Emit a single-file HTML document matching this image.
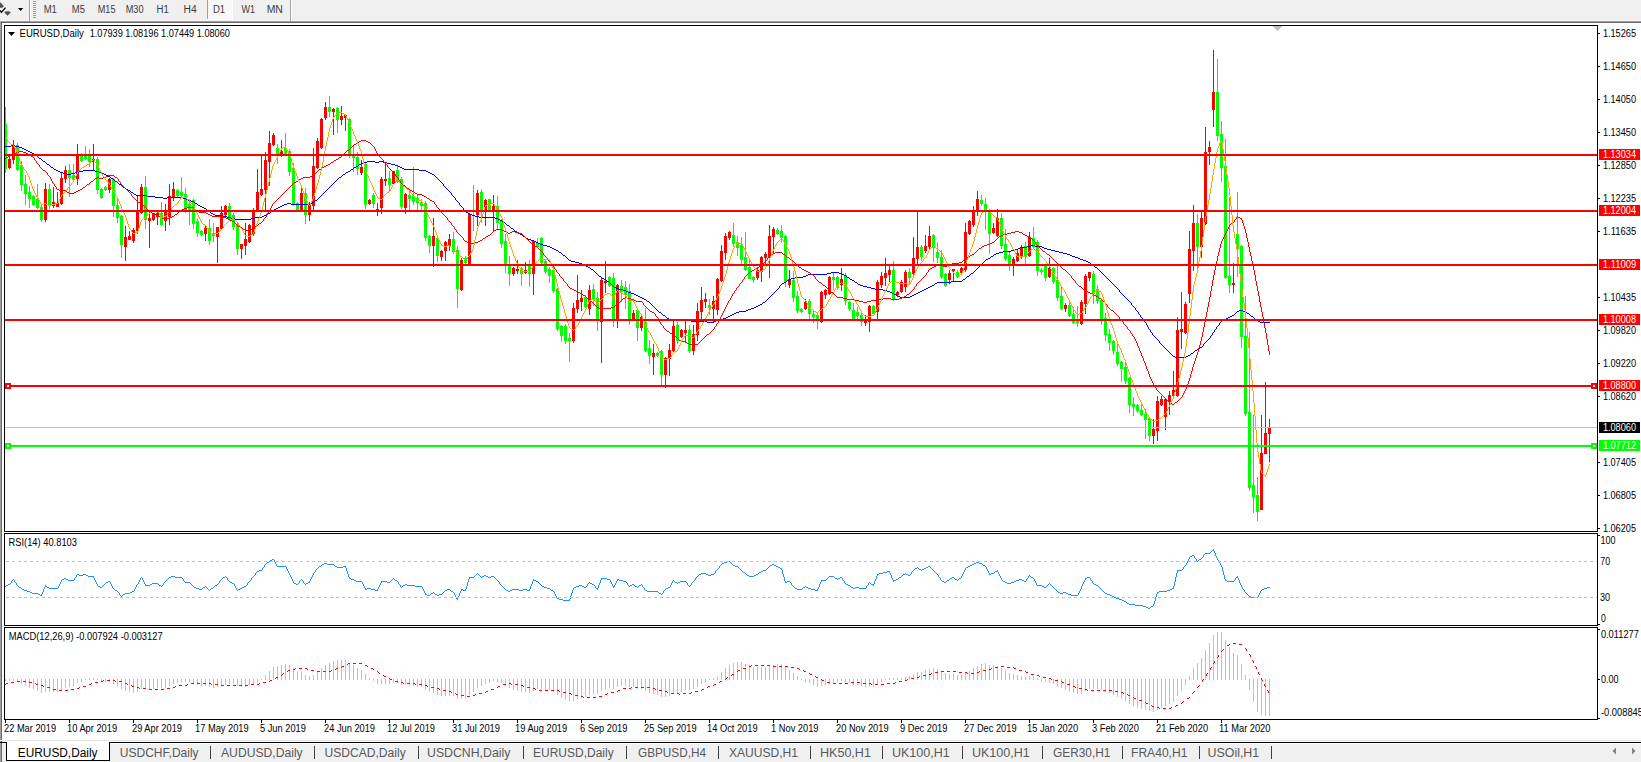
<!DOCTYPE html>
<html><head><meta charset="utf-8"><style>
html,body{margin:0;padding:0;background:#f0f0f0;width:1641px;height:762px;overflow:hidden}
svg{display:block;font-family:"Liberation Sans", sans-serif}
</style></head><body>
<svg width="1641" height="762" viewBox="0 0 1641 762">
<rect x="0" y="0" width="1641" height="20" fill="#f0f0f0"/><rect x="0" y="20" width="1641" height="1" fill="#f6f6f6"/><rect x="0" y="21" width="1641" height="1" fill="#a0a0a0"/><rect x="0" y="22" width="1641" height="1" fill="#696969"/><rect x="0" y="23" width="1641" height="717" fill="#ffffff"/><rect x="0" y="21" width="1" height="719" fill="#a0a0a0"/><rect x="1" y="22" width="1" height="718" fill="#696969"/><rect x="0" y="740" width="1641" height="1" fill="#e3e3e3"/><rect x="207" y="0" width="1" height="19" fill="#a0a0a0"/><rect x="208" y="0" width="24" height="19" fill="#f8f8f8"/><rect x="232" y="0" width="1" height="20" fill="#ffffff"/><rect x="207" y="19" width="26" height="1" fill="#ffffff"/><rect x="29" y="0" width="1" height="21" fill="#a0a0a0"/><rect x="30" y="0" width="1" height="20" fill="#ffffff"/><rect x="290" y="0" width="1" height="21" fill="#a0a0a0"/><rect x="291" y="0" width="1" height="20" fill="#ffffff"/><rect x="33" y="1" width="3" height="1" fill="#a0a0a0"/><rect x="33" y="3" width="3" height="1" fill="#a0a0a0"/><rect x="33" y="5" width="3" height="1" fill="#a0a0a0"/><rect x="33" y="7" width="3" height="1" fill="#a0a0a0"/><rect x="33" y="9" width="3" height="1" fill="#a0a0a0"/><rect x="33" y="11" width="3" height="1" fill="#a0a0a0"/><rect x="33" y="13" width="3" height="1" fill="#a0a0a0"/><rect x="33" y="15" width="3" height="1" fill="#a0a0a0"/><rect x="33" y="17" width="3" height="1" fill="#a0a0a0"/><path d="M18,8 L23.2,8 L20.6,10.9 Z" fill="#000"/><path d="M0,2.6 L0.8,2.8 L3.9,6.3 L2.3,7.7 L0,7.7 Z M4.1,12.3 L6.3,11.2 L8.7,11.2 L10.9,12.3 L7.5,15.8 Z" fill="#505050"/><path d="M0,10.5 L1.4,12.3 L5.6,7.6" fill="none" stroke="#000" stroke-width="1.3"/><rect x="4" y="25" width="1594" height="1" fill="#000"/><rect x="4" y="531" width="1594" height="1" fill="#000"/><rect x="4" y="25" width="1" height="507" fill="#000"/><rect x="1597" y="25" width="1" height="507" fill="#000"/><rect x="4" y="533" width="1594" height="1" fill="#000"/><rect x="4" y="625" width="1594" height="1" fill="#000"/><rect x="4" y="533" width="1" height="93" fill="#000"/><rect x="1597" y="533" width="1" height="93" fill="#000"/><rect x="4" y="627" width="1594" height="1" fill="#000"/><rect x="4" y="719" width="1594" height="1" fill="#000"/><rect x="4" y="627" width="1" height="93" fill="#000"/><rect x="1597" y="627" width="1" height="93" fill="#000"/><defs><clipPath id="cm"><rect x="5" y="26" width="1592" height="505"/></clipPath><clipPath id="cr"><rect x="5" y="534" width="1592" height="91"/></clipPath><clipPath id="cd"><rect x="5" y="628" width="1592" height="91"/></clipPath></defs><g clip-path="url(#cm)" shape-rendering="crispEdges"><rect x="5" y="107" width="1" height="66" fill="#00ff00"/><rect x="4" y="124" width="3" height="45" fill="#00ff00"/><rect x="9" y="157" width="1" height="12" fill="#ff0000"/><rect x="8" y="159" width="3" height="9" fill="#ff0000"/><rect x="13" y="140" width="1" height="24" fill="#ff0000"/><rect x="12" y="146" width="3" height="14" fill="#ff0000"/><rect x="17" y="143" width="1" height="28" fill="#00ff00"/><rect x="16" y="145" width="3" height="25" fill="#00ff00"/><rect x="21" y="161" width="1" height="30" fill="#00ff00"/><rect x="20" y="165" width="3" height="20" fill="#00ff00"/><rect x="25" y="175" width="1" height="30" fill="#00ff00"/><rect x="24" y="184" width="3" height="10" fill="#00ff00"/><rect x="29" y="186" width="1" height="22" fill="#00ff00"/><rect x="28" y="192" width="3" height="7" fill="#00ff00"/><rect x="33" y="195" width="1" height="11" fill="#00ff00"/><rect x="32" y="196" width="3" height="9" fill="#00ff00"/><rect x="37" y="184" width="1" height="25" fill="#00ff00"/><rect x="36" y="199" width="3" height="9" fill="#00ff00"/><rect x="41" y="205" width="1" height="17" fill="#00ff00"/><rect x="40" y="207" width="3" height="13" fill="#00ff00"/><rect x="45" y="183" width="1" height="39" fill="#ff0000"/><rect x="44" y="189" width="3" height="31" fill="#ff0000"/><rect x="49" y="184" width="1" height="25" fill="#00ff00"/><rect x="48" y="189" width="3" height="16" fill="#00ff00"/><rect x="53" y="187" width="1" height="21" fill="#ff0000"/><rect x="52" y="202" width="3" height="4" fill="#ff0000"/><rect x="57" y="192" width="1" height="15" fill="#ff0000"/><rect x="56" y="203" width="3" height="4" fill="#ff0000"/><rect x="61" y="172" width="1" height="33" fill="#ff0000"/><rect x="60" y="178" width="3" height="26" fill="#ff0000"/><rect x="65" y="166" width="1" height="17" fill="#ff0000"/><rect x="64" y="170" width="3" height="9" fill="#ff0000"/><rect x="69" y="164" width="1" height="33" fill="#00ff00"/><rect x="68" y="170" width="3" height="8" fill="#00ff00"/><rect x="73" y="164" width="1" height="18" fill="#00ff00"/><rect x="72" y="175" width="3" height="5" fill="#00ff00"/><rect x="77" y="144" width="1" height="41" fill="#ff0000"/><rect x="76" y="155" width="3" height="24" fill="#ff0000"/><rect x="81" y="153" width="1" height="9" fill="#00ff00"/><rect x="80" y="155" width="3" height="6" fill="#00ff00"/><rect x="85" y="146" width="1" height="14" fill="#00ff00"/><rect x="84" y="155" width="3" height="4" fill="#00ff00"/><rect x="89" y="149" width="1" height="18" fill="#00ff00"/><rect x="88" y="155" width="3" height="7" fill="#00ff00"/><rect x="93" y="144" width="1" height="27" fill="#ff0000"/><rect x="92" y="159" width="3" height="3" fill="#ff0000"/><rect x="97" y="157" width="1" height="37" fill="#00ff00"/><rect x="96" y="159" width="3" height="31" fill="#00ff00"/><rect x="101" y="188" width="1" height="11" fill="#00ff00"/><rect x="100" y="189" width="3" height="9" fill="#00ff00"/><rect x="105" y="186" width="1" height="5" fill="#00ff00"/><rect x="104" y="187" width="3" height="3" fill="#00ff00"/><rect x="109" y="178" width="1" height="15" fill="#ff0000"/><rect x="108" y="179" width="3" height="11" fill="#ff0000"/><rect x="113" y="178" width="1" height="39" fill="#00ff00"/><rect x="112" y="179" width="3" height="27" fill="#00ff00"/><rect x="117" y="199" width="1" height="24" fill="#00ff00"/><rect x="116" y="205" width="3" height="13" fill="#00ff00"/><rect x="121" y="215" width="1" height="43" fill="#00ff00"/><rect x="120" y="216" width="3" height="29" fill="#00ff00"/><rect x="125" y="226" width="1" height="35" fill="#ff0000"/><rect x="124" y="237" width="3" height="10" fill="#ff0000"/><rect x="129" y="231" width="1" height="9" fill="#ff0000"/><rect x="128" y="236" width="3" height="4" fill="#ff0000"/><rect x="133" y="228" width="1" height="15" fill="#ff0000"/><rect x="132" y="230" width="3" height="11" fill="#ff0000"/><rect x="137" y="196" width="1" height="38" fill="#ff0000"/><rect x="136" y="212" width="3" height="19" fill="#ff0000"/><rect x="141" y="184" width="1" height="30" fill="#ff0000"/><rect x="140" y="187" width="3" height="26" fill="#ff0000"/><rect x="145" y="176" width="1" height="53" fill="#00ff00"/><rect x="144" y="187" width="3" height="33" fill="#00ff00"/><rect x="149" y="212" width="1" height="36" fill="#ff0000"/><rect x="148" y="218" width="3" height="3" fill="#ff0000"/><rect x="153" y="214" width="1" height="7" fill="#ff0000"/><rect x="152" y="214" width="3" height="6" fill="#ff0000"/><rect x="157" y="212" width="1" height="13" fill="#ff0000"/><rect x="156" y="213" width="3" height="4" fill="#ff0000"/><rect x="161" y="202" width="1" height="24" fill="#00ff00"/><rect x="160" y="213" width="3" height="12" fill="#00ff00"/><rect x="165" y="204" width="1" height="27" fill="#ff0000"/><rect x="164" y="210" width="3" height="11" fill="#ff0000"/><rect x="169" y="184" width="1" height="41" fill="#ff0000"/><rect x="168" y="196" width="3" height="21" fill="#ff0000"/><rect x="173" y="182" width="1" height="19" fill="#ff0000"/><rect x="172" y="189" width="3" height="9" fill="#ff0000"/><rect x="177" y="189" width="1" height="8" fill="#00ff00"/><rect x="176" y="190" width="3" height="6" fill="#00ff00"/><rect x="181" y="177" width="1" height="20" fill="#00ff00"/><rect x="180" y="192" width="3" height="4" fill="#00ff00"/><rect x="185" y="188" width="1" height="25" fill="#00ff00"/><rect x="184" y="194" width="3" height="17" fill="#00ff00"/><rect x="189" y="199" width="1" height="26" fill="#00ff00"/><rect x="188" y="204" width="3" height="6" fill="#00ff00"/><rect x="193" y="199" width="1" height="30" fill="#00ff00"/><rect x="192" y="200" width="3" height="24" fill="#00ff00"/><rect x="197" y="219" width="1" height="18" fill="#00ff00"/><rect x="196" y="221" width="3" height="12" fill="#00ff00"/><rect x="201" y="230" width="1" height="6" fill="#00ff00"/><rect x="200" y="231" width="3" height="4" fill="#00ff00"/><rect x="205" y="225" width="1" height="16" fill="#ff0000"/><rect x="204" y="228" width="3" height="6" fill="#ff0000"/><rect x="209" y="219" width="1" height="26" fill="#00ff00"/><rect x="208" y="228" width="3" height="13" fill="#00ff00"/><rect x="213" y="223" width="1" height="19" fill="#00ff00"/><rect x="212" y="233" width="3" height="3" fill="#00ff00"/><rect x="217" y="227" width="1" height="36" fill="#ff0000"/><rect x="216" y="227" width="3" height="10" fill="#ff0000"/><rect x="221" y="206" width="1" height="24" fill="#ff0000"/><rect x="220" y="213" width="3" height="16" fill="#ff0000"/><rect x="225" y="205" width="1" height="12" fill="#ff0000"/><rect x="224" y="206" width="3" height="9" fill="#ff0000"/><rect x="229" y="203" width="1" height="18" fill="#00ff00"/><rect x="228" y="206" width="3" height="13" fill="#00ff00"/><rect x="233" y="213" width="1" height="17" fill="#00ff00"/><rect x="232" y="215" width="3" height="12" fill="#00ff00"/><rect x="237" y="222" width="1" height="33" fill="#00ff00"/><rect x="236" y="224" width="3" height="25" fill="#00ff00"/><rect x="241" y="244" width="1" height="15" fill="#ff0000"/><rect x="240" y="244" width="3" height="5" fill="#ff0000"/><rect x="245" y="223" width="1" height="32" fill="#ff0000"/><rect x="244" y="239" width="3" height="7" fill="#ff0000"/><rect x="249" y="224" width="1" height="19" fill="#ff0000"/><rect x="248" y="225" width="3" height="17" fill="#ff0000"/><rect x="253" y="208" width="1" height="28" fill="#ff0000"/><rect x="252" y="210" width="3" height="24" fill="#ff0000"/><rect x="257" y="169" width="1" height="43" fill="#ff0000"/><rect x="256" y="192" width="3" height="19" fill="#ff0000"/><rect x="261" y="155" width="1" height="41" fill="#ff0000"/><rect x="260" y="189" width="3" height="6" fill="#ff0000"/><rect x="265" y="152" width="1" height="59" fill="#ff0000"/><rect x="264" y="160" width="3" height="30" fill="#ff0000"/><rect x="269" y="131" width="1" height="55" fill="#ff0000"/><rect x="268" y="143" width="3" height="19" fill="#ff0000"/><rect x="273" y="133" width="1" height="13" fill="#ff0000"/><rect x="272" y="135" width="3" height="10" fill="#ff0000"/><rect x="277" y="144" width="1" height="20" fill="#00ff00"/><rect x="276" y="148" width="3" height="6" fill="#00ff00"/><rect x="281" y="140" width="1" height="17" fill="#ff0000"/><rect x="280" y="151" width="3" height="3" fill="#ff0000"/><rect x="285" y="133" width="1" height="21" fill="#00ff00"/><rect x="284" y="148" width="3" height="6" fill="#00ff00"/><rect x="289" y="149" width="1" height="27" fill="#00ff00"/><rect x="288" y="151" width="3" height="21" fill="#00ff00"/><rect x="293" y="163" width="1" height="43" fill="#00ff00"/><rect x="292" y="168" width="3" height="36" fill="#00ff00"/><rect x="297" y="202" width="1" height="9" fill="#00ff00"/><rect x="296" y="203" width="3" height="7" fill="#00ff00"/><rect x="301" y="187" width="1" height="25" fill="#ff0000"/><rect x="300" y="193" width="3" height="18" fill="#ff0000"/><rect x="305" y="188" width="1" height="36" fill="#00ff00"/><rect x="304" y="193" width="3" height="22" fill="#00ff00"/><rect x="309" y="202" width="1" height="19" fill="#ff0000"/><rect x="308" y="205" width="3" height="10" fill="#ff0000"/><rect x="313" y="148" width="1" height="63" fill="#ff0000"/><rect x="312" y="166" width="3" height="40" fill="#ff0000"/><rect x="317" y="138" width="1" height="31" fill="#ff0000"/><rect x="316" y="141" width="3" height="27" fill="#ff0000"/><rect x="321" y="118" width="1" height="31" fill="#ff0000"/><rect x="320" y="119" width="3" height="29" fill="#ff0000"/><rect x="325" y="102" width="1" height="18" fill="#ff0000"/><rect x="324" y="107" width="3" height="11" fill="#ff0000"/><rect x="329" y="96" width="1" height="21" fill="#00ff00"/><rect x="328" y="107" width="3" height="5" fill="#00ff00"/><rect x="333" y="108" width="1" height="27" fill="#ff0000"/><rect x="332" y="109" width="3" height="3" fill="#ff0000"/><rect x="337" y="107" width="1" height="26" fill="#00ff00"/><rect x="336" y="108" width="3" height="12" fill="#00ff00"/><rect x="341" y="106" width="1" height="19" fill="#ff0000"/><rect x="340" y="116" width="3" height="4" fill="#ff0000"/><rect x="345" y="114" width="1" height="17" fill="#ff0000"/><rect x="344" y="115" width="3" height="3" fill="#ff0000"/><rect x="349" y="118" width="1" height="40" fill="#00ff00"/><rect x="348" y="119" width="3" height="37" fill="#00ff00"/><rect x="353" y="145" width="1" height="27" fill="#00ff00"/><rect x="352" y="154" width="3" height="4" fill="#00ff00"/><rect x="357" y="152" width="1" height="23" fill="#00ff00"/><rect x="356" y="157" width="3" height="12" fill="#00ff00"/><rect x="361" y="160" width="1" height="15" fill="#ff0000"/><rect x="360" y="167" width="3" height="6" fill="#ff0000"/><rect x="365" y="163" width="1" height="46" fill="#00ff00"/><rect x="364" y="164" width="3" height="41" fill="#00ff00"/><rect x="369" y="199" width="1" height="6" fill="#ff0000"/><rect x="368" y="200" width="3" height="4" fill="#ff0000"/><rect x="373" y="193" width="1" height="15" fill="#00ff00"/><rect x="372" y="195" width="3" height="9" fill="#00ff00"/><rect x="377" y="203" width="1" height="13" fill="#ff0000"/><rect x="376" y="209" width="3" height="3" fill="#ff0000"/><rect x="381" y="177" width="1" height="37" fill="#ff0000"/><rect x="380" y="179" width="3" height="29" fill="#ff0000"/><rect x="385" y="164" width="1" height="22" fill="#ff0000"/><rect x="384" y="179" width="3" height="2" fill="#ff0000"/><rect x="389" y="171" width="1" height="21" fill="#00ff00"/><rect x="388" y="178" width="3" height="7" fill="#00ff00"/><rect x="393" y="171" width="1" height="14" fill="#ff0000"/><rect x="392" y="171" width="3" height="13" fill="#ff0000"/><rect x="397" y="165" width="1" height="18" fill="#00ff00"/><rect x="396" y="170" width="3" height="12" fill="#00ff00"/><rect x="401" y="177" width="1" height="32" fill="#00ff00"/><rect x="400" y="179" width="3" height="28" fill="#00ff00"/><rect x="405" y="193" width="1" height="21" fill="#ff0000"/><rect x="404" y="194" width="3" height="14" fill="#ff0000"/><rect x="409" y="191" width="1" height="20" fill="#00ff00"/><rect x="408" y="195" width="3" height="4" fill="#00ff00"/><rect x="413" y="167" width="1" height="38" fill="#00ff00"/><rect x="412" y="196" width="3" height="6" fill="#00ff00"/><rect x="417" y="195" width="1" height="16" fill="#00ff00"/><rect x="416" y="198" width="3" height="5" fill="#00ff00"/><rect x="421" y="199" width="1" height="12" fill="#00ff00"/><rect x="420" y="202" width="3" height="4" fill="#00ff00"/><rect x="425" y="201" width="1" height="40" fill="#00ff00"/><rect x="424" y="203" width="3" height="35" fill="#00ff00"/><rect x="429" y="235" width="1" height="18" fill="#00ff00"/><rect x="428" y="236" width="3" height="10" fill="#00ff00"/><rect x="433" y="218" width="1" height="49" fill="#ff0000"/><rect x="432" y="236" width="3" height="10" fill="#ff0000"/><rect x="437" y="237" width="1" height="25" fill="#00ff00"/><rect x="436" y="238" width="3" height="18" fill="#00ff00"/><rect x="441" y="250" width="1" height="11" fill="#ff0000"/><rect x="440" y="251" width="3" height="6" fill="#ff0000"/><rect x="445" y="241" width="1" height="20" fill="#ff0000"/><rect x="444" y="242" width="3" height="9" fill="#ff0000"/><rect x="449" y="234" width="1" height="17" fill="#ff0000"/><rect x="448" y="239" width="3" height="7" fill="#ff0000"/><rect x="453" y="232" width="1" height="22" fill="#00ff00"/><rect x="452" y="239" width="3" height="13" fill="#00ff00"/><rect x="457" y="246" width="1" height="62" fill="#00ff00"/><rect x="456" y="250" width="3" height="39" fill="#00ff00"/><rect x="461" y="258" width="1" height="33" fill="#ff0000"/><rect x="460" y="260" width="3" height="30" fill="#ff0000"/><rect x="465" y="256" width="1" height="9" fill="#00ff00"/><rect x="464" y="258" width="3" height="5" fill="#00ff00"/><rect x="469" y="213" width="1" height="53" fill="#ff0000"/><rect x="468" y="214" width="3" height="51" fill="#ff0000"/><rect x="473" y="185" width="1" height="46" fill="#00ff00"/><rect x="472" y="210" width="3" height="2" fill="#00ff00"/><rect x="477" y="190" width="1" height="36" fill="#ff0000"/><rect x="476" y="193" width="3" height="22" fill="#ff0000"/><rect x="481" y="189" width="1" height="34" fill="#00ff00"/><rect x="480" y="192" width="3" height="18" fill="#00ff00"/><rect x="485" y="199" width="1" height="27" fill="#ff0000"/><rect x="484" y="200" width="3" height="12" fill="#ff0000"/><rect x="489" y="199" width="1" height="12" fill="#00ff00"/><rect x="488" y="199" width="3" height="11" fill="#00ff00"/><rect x="493" y="195" width="1" height="37" fill="#ff0000"/><rect x="492" y="206" width="3" height="5" fill="#ff0000"/><rect x="497" y="196" width="1" height="34" fill="#00ff00"/><rect x="496" y="206" width="3" height="17" fill="#00ff00"/><rect x="501" y="219" width="1" height="29" fill="#00ff00"/><rect x="500" y="220" width="3" height="24" fill="#00ff00"/><rect x="505" y="234" width="1" height="39" fill="#00ff00"/><rect x="504" y="241" width="3" height="25" fill="#00ff00"/><rect x="509" y="256" width="1" height="30" fill="#00ff00"/><rect x="508" y="265" width="3" height="9" fill="#00ff00"/><rect x="513" y="267" width="1" height="9" fill="#ff0000"/><rect x="512" y="268" width="3" height="6" fill="#ff0000"/><rect x="517" y="260" width="1" height="14" fill="#ff0000"/><rect x="516" y="269" width="3" height="2" fill="#ff0000"/><rect x="521" y="267" width="1" height="19" fill="#00ff00"/><rect x="520" y="268" width="3" height="6" fill="#00ff00"/><rect x="525" y="262" width="1" height="12" fill="#ff0000"/><rect x="524" y="270" width="3" height="3" fill="#ff0000"/><rect x="529" y="260" width="1" height="27" fill="#00ff00"/><rect x="528" y="266" width="3" height="8" fill="#00ff00"/><rect x="533" y="240" width="1" height="55" fill="#ff0000"/><rect x="532" y="241" width="3" height="33" fill="#ff0000"/><rect x="537" y="238" width="1" height="10" fill="#00ff00"/><rect x="536" y="243" width="3" height="4" fill="#00ff00"/><rect x="541" y="237" width="1" height="27" fill="#00ff00"/><rect x="540" y="238" width="3" height="25" fill="#00ff00"/><rect x="545" y="259" width="1" height="15" fill="#00ff00"/><rect x="544" y="261" width="3" height="11" fill="#00ff00"/><rect x="549" y="267" width="1" height="16" fill="#00ff00"/><rect x="548" y="269" width="3" height="7" fill="#00ff00"/><rect x="553" y="267" width="1" height="26" fill="#00ff00"/><rect x="552" y="270" width="3" height="21" fill="#00ff00"/><rect x="557" y="288" width="1" height="43" fill="#00ff00"/><rect x="556" y="289" width="3" height="40" fill="#00ff00"/><rect x="561" y="325" width="1" height="17" fill="#00ff00"/><rect x="560" y="326" width="3" height="10" fill="#00ff00"/><rect x="565" y="324" width="1" height="20" fill="#00ff00"/><rect x="564" y="326" width="3" height="15" fill="#00ff00"/><rect x="569" y="333" width="1" height="29" fill="#00ff00"/><rect x="568" y="338" width="3" height="3" fill="#00ff00"/><rect x="573" y="303" width="1" height="40" fill="#ff0000"/><rect x="572" y="308" width="3" height="33" fill="#ff0000"/><rect x="577" y="275" width="1" height="38" fill="#ff0000"/><rect x="576" y="300" width="3" height="9" fill="#ff0000"/><rect x="581" y="290" width="1" height="21" fill="#ff0000"/><rect x="580" y="298" width="3" height="4" fill="#ff0000"/><rect x="585" y="295" width="1" height="13" fill="#00ff00"/><rect x="584" y="297" width="3" height="10" fill="#00ff00"/><rect x="589" y="285" width="1" height="30" fill="#ff0000"/><rect x="588" y="290" width="3" height="19" fill="#ff0000"/><rect x="593" y="284" width="1" height="22" fill="#00ff00"/><rect x="592" y="289" width="3" height="11" fill="#00ff00"/><rect x="597" y="292" width="1" height="39" fill="#00ff00"/><rect x="596" y="298" width="3" height="23" fill="#00ff00"/><rect x="601" y="278" width="1" height="85" fill="#ff0000"/><rect x="600" y="280" width="3" height="42" fill="#ff0000"/><rect x="605" y="261" width="1" height="32" fill="#ff0000"/><rect x="604" y="281" width="3" height="2" fill="#ff0000"/><rect x="609" y="276" width="1" height="11" fill="#00ff00"/><rect x="608" y="277" width="3" height="9" fill="#00ff00"/><rect x="613" y="273" width="1" height="54" fill="#00ff00"/><rect x="612" y="278" width="3" height="41" fill="#00ff00"/><rect x="617" y="284" width="1" height="44" fill="#ff0000"/><rect x="616" y="285" width="3" height="35" fill="#ff0000"/><rect x="621" y="280" width="1" height="22" fill="#00ff00"/><rect x="620" y="286" width="3" height="6" fill="#00ff00"/><rect x="625" y="281" width="1" height="28" fill="#00ff00"/><rect x="624" y="287" width="3" height="8" fill="#00ff00"/><rect x="629" y="284" width="1" height="41" fill="#00ff00"/><rect x="628" y="291" width="3" height="29" fill="#00ff00"/><rect x="633" y="310" width="1" height="11" fill="#ff0000"/><rect x="632" y="313" width="3" height="7" fill="#ff0000"/><rect x="637" y="310" width="1" height="31" fill="#00ff00"/><rect x="636" y="310" width="3" height="18" fill="#00ff00"/><rect x="641" y="314" width="1" height="17" fill="#ff0000"/><rect x="640" y="317" width="3" height="11" fill="#ff0000"/><rect x="645" y="308" width="1" height="44" fill="#00ff00"/><rect x="644" y="322" width="3" height="29" fill="#00ff00"/><rect x="649" y="340" width="1" height="24" fill="#00ff00"/><rect x="648" y="348" width="3" height="8" fill="#00ff00"/><rect x="653" y="344" width="1" height="31" fill="#ff0000"/><rect x="652" y="353" width="3" height="4" fill="#ff0000"/><rect x="657" y="352" width="1" height="5" fill="#00ff00"/><rect x="656" y="353" width="3" height="3" fill="#00ff00"/><rect x="661" y="350" width="1" height="36" fill="#00ff00"/><rect x="660" y="351" width="3" height="24" fill="#00ff00"/><rect x="665" y="357" width="1" height="31" fill="#ff0000"/><rect x="664" y="358" width="3" height="17" fill="#ff0000"/><rect x="669" y="344" width="1" height="32" fill="#ff0000"/><rect x="668" y="350" width="3" height="9" fill="#ff0000"/><rect x="673" y="320" width="1" height="32" fill="#ff0000"/><rect x="672" y="326" width="3" height="25" fill="#ff0000"/><rect x="677" y="322" width="1" height="22" fill="#00ff00"/><rect x="676" y="325" width="3" height="16" fill="#00ff00"/><rect x="681" y="329" width="1" height="9" fill="#ff0000"/><rect x="680" y="330" width="3" height="7" fill="#ff0000"/><rect x="685" y="321" width="1" height="22" fill="#ff0000"/><rect x="684" y="330" width="3" height="3" fill="#ff0000"/><rect x="689" y="325" width="1" height="28" fill="#00ff00"/><rect x="688" y="330" width="3" height="21" fill="#00ff00"/><rect x="693" y="325" width="1" height="30" fill="#ff0000"/><rect x="692" y="334" width="3" height="17" fill="#ff0000"/><rect x="697" y="303" width="1" height="38" fill="#ff0000"/><rect x="696" y="311" width="3" height="24" fill="#ff0000"/><rect x="701" y="287" width="1" height="34" fill="#ff0000"/><rect x="700" y="300" width="3" height="12" fill="#ff0000"/><rect x="705" y="293" width="1" height="15" fill="#ff0000"/><rect x="704" y="299" width="3" height="3" fill="#ff0000"/><rect x="709" y="299" width="1" height="16" fill="#00ff00"/><rect x="708" y="305" width="3" height="3" fill="#00ff00"/><rect x="713" y="296" width="1" height="27" fill="#ff0000"/><rect x="712" y="301" width="3" height="8" fill="#ff0000"/><rect x="717" y="278" width="1" height="37" fill="#ff0000"/><rect x="716" y="279" width="3" height="31" fill="#ff0000"/><rect x="721" y="245" width="1" height="37" fill="#ff0000"/><rect x="720" y="251" width="3" height="30" fill="#ff0000"/><rect x="725" y="233" width="1" height="27" fill="#ff0000"/><rect x="724" y="236" width="3" height="17" fill="#ff0000"/><rect x="729" y="231" width="1" height="9" fill="#ff0000"/><rect x="728" y="232" width="3" height="6" fill="#ff0000"/><rect x="733" y="223" width="1" height="24" fill="#00ff00"/><rect x="732" y="235" width="3" height="9" fill="#00ff00"/><rect x="737" y="236" width="1" height="20" fill="#00ff00"/><rect x="736" y="242" width="3" height="6" fill="#00ff00"/><rect x="741" y="237" width="1" height="29" fill="#00ff00"/><rect x="740" y="245" width="3" height="15" fill="#00ff00"/><rect x="745" y="232" width="1" height="39" fill="#00ff00"/><rect x="744" y="257" width="3" height="13" fill="#00ff00"/><rect x="749" y="259" width="1" height="20" fill="#00ff00"/><rect x="748" y="267" width="3" height="12" fill="#00ff00"/><rect x="753" y="276" width="1" height="7" fill="#00ff00"/><rect x="752" y="277" width="3" height="3" fill="#00ff00"/><rect x="757" y="267" width="1" height="13" fill="#ff0000"/><rect x="756" y="270" width="3" height="8" fill="#ff0000"/><rect x="761" y="256" width="1" height="26" fill="#ff0000"/><rect x="760" y="257" width="3" height="15" fill="#ff0000"/><rect x="765" y="252" width="1" height="12" fill="#ff0000"/><rect x="764" y="254" width="3" height="4" fill="#ff0000"/><rect x="769" y="225" width="1" height="53" fill="#ff0000"/><rect x="768" y="236" width="3" height="22" fill="#ff0000"/><rect x="773" y="227" width="1" height="27" fill="#ff0000"/><rect x="772" y="229" width="3" height="8" fill="#ff0000"/><rect x="777" y="228" width="1" height="7" fill="#00ff00"/><rect x="776" y="230" width="3" height="4" fill="#00ff00"/><rect x="781" y="225" width="1" height="18" fill="#00ff00"/><rect x="780" y="231" width="3" height="7" fill="#00ff00"/><rect x="785" y="235" width="1" height="52" fill="#00ff00"/><rect x="784" y="236" width="3" height="46" fill="#00ff00"/><rect x="789" y="270" width="1" height="18" fill="#ff0000"/><rect x="788" y="279" width="3" height="6" fill="#ff0000"/><rect x="793" y="271" width="1" height="31" fill="#00ff00"/><rect x="792" y="280" width="3" height="18" fill="#00ff00"/><rect x="797" y="291" width="1" height="22" fill="#00ff00"/><rect x="796" y="296" width="3" height="15" fill="#00ff00"/><rect x="801" y="308" width="1" height="5" fill="#00ff00"/><rect x="800" y="309" width="3" height="3" fill="#00ff00"/><rect x="805" y="299" width="1" height="11" fill="#ff0000"/><rect x="804" y="302" width="3" height="7" fill="#ff0000"/><rect x="809" y="299" width="1" height="21" fill="#00ff00"/><rect x="808" y="301" width="3" height="13" fill="#00ff00"/><rect x="813" y="311" width="1" height="12" fill="#00ff00"/><rect x="812" y="314" width="3" height="3" fill="#00ff00"/><rect x="817" y="312" width="1" height="17" fill="#00ff00"/><rect x="816" y="315" width="3" height="6" fill="#00ff00"/><rect x="821" y="291" width="1" height="32" fill="#ff0000"/><rect x="820" y="292" width="3" height="30" fill="#ff0000"/><rect x="825" y="289" width="1" height="10" fill="#ff0000"/><rect x="824" y="290" width="3" height="5" fill="#ff0000"/><rect x="829" y="276" width="1" height="19" fill="#ff0000"/><rect x="828" y="277" width="3" height="17" fill="#ff0000"/><rect x="833" y="272" width="1" height="18" fill="#00ff00"/><rect x="832" y="277" width="3" height="3" fill="#00ff00"/><rect x="837" y="276" width="1" height="14" fill="#00ff00"/><rect x="836" y="277" width="3" height="11" fill="#00ff00"/><rect x="841" y="268" width="1" height="23" fill="#ff0000"/><rect x="840" y="279" width="3" height="6" fill="#ff0000"/><rect x="845" y="273" width="1" height="32" fill="#00ff00"/><rect x="844" y="275" width="3" height="26" fill="#00ff00"/><rect x="849" y="301" width="1" height="10" fill="#00ff00"/><rect x="848" y="302" width="3" height="7" fill="#00ff00"/><rect x="853" y="303" width="1" height="17" fill="#00ff00"/><rect x="852" y="310" width="3" height="9" fill="#00ff00"/><rect x="857" y="307" width="1" height="13" fill="#00ff00"/><rect x="856" y="312" width="3" height="4" fill="#00ff00"/><rect x="861" y="311" width="1" height="15" fill="#00ff00"/><rect x="860" y="315" width="3" height="7" fill="#00ff00"/><rect x="865" y="315" width="1" height="11" fill="#ff0000"/><rect x="864" y="319" width="3" height="4" fill="#ff0000"/><rect x="869" y="305" width="1" height="27" fill="#ff0000"/><rect x="868" y="306" width="3" height="16" fill="#ff0000"/><rect x="873" y="305" width="1" height="9" fill="#00ff00"/><rect x="872" y="306" width="3" height="8" fill="#00ff00"/><rect x="877" y="280" width="1" height="40" fill="#ff0000"/><rect x="876" y="282" width="3" height="30" fill="#ff0000"/><rect x="881" y="272" width="1" height="16" fill="#ff0000"/><rect x="880" y="276" width="3" height="9" fill="#ff0000"/><rect x="885" y="258" width="1" height="28" fill="#ff0000"/><rect x="884" y="273" width="3" height="5" fill="#ff0000"/><rect x="889" y="266" width="1" height="16" fill="#ff0000"/><rect x="888" y="270" width="3" height="5" fill="#ff0000"/><rect x="893" y="261" width="1" height="40" fill="#00ff00"/><rect x="892" y="270" width="3" height="30" fill="#00ff00"/><rect x="897" y="291" width="1" height="6" fill="#ff0000"/><rect x="896" y="292" width="3" height="3" fill="#ff0000"/><rect x="901" y="280" width="1" height="13" fill="#ff0000"/><rect x="900" y="282" width="3" height="10" fill="#ff0000"/><rect x="905" y="270" width="1" height="22" fill="#ff0000"/><rect x="904" y="272" width="3" height="15" fill="#ff0000"/><rect x="909" y="268" width="1" height="16" fill="#00ff00"/><rect x="908" y="272" width="3" height="6" fill="#00ff00"/><rect x="913" y="237" width="1" height="38" fill="#ff0000"/><rect x="912" y="258" width="3" height="16" fill="#ff0000"/><rect x="917" y="212" width="1" height="53" fill="#ff0000"/><rect x="916" y="247" width="3" height="12" fill="#ff0000"/><rect x="921" y="245" width="1" height="16" fill="#00ff00"/><rect x="920" y="247" width="3" height="10" fill="#00ff00"/><rect x="925" y="235" width="1" height="18" fill="#ff0000"/><rect x="924" y="246" width="3" height="5" fill="#ff0000"/><rect x="929" y="226" width="1" height="23" fill="#ff0000"/><rect x="928" y="236" width="3" height="11" fill="#ff0000"/><rect x="933" y="234" width="1" height="28" fill="#00ff00"/><rect x="932" y="235" width="3" height="13" fill="#00ff00"/><rect x="937" y="242" width="1" height="21" fill="#00ff00"/><rect x="936" y="252" width="3" height="6" fill="#00ff00"/><rect x="941" y="250" width="1" height="29" fill="#00ff00"/><rect x="940" y="257" width="3" height="20" fill="#00ff00"/><rect x="945" y="273" width="1" height="14" fill="#00ff00"/><rect x="944" y="274" width="3" height="12" fill="#00ff00"/><rect x="949" y="270" width="1" height="14" fill="#ff0000"/><rect x="948" y="273" width="3" height="7" fill="#ff0000"/><rect x="953" y="269" width="1" height="12" fill="#ff0000"/><rect x="952" y="269" width="3" height="2" fill="#ff0000"/><rect x="957" y="270" width="1" height="8" fill="#00ff00"/><rect x="956" y="272" width="3" height="5" fill="#00ff00"/><rect x="961" y="267" width="1" height="7" fill="#ff0000"/><rect x="960" y="268" width="3" height="5" fill="#ff0000"/><rect x="965" y="223" width="1" height="49" fill="#ff0000"/><rect x="964" y="232" width="3" height="38" fill="#ff0000"/><rect x="969" y="220" width="1" height="15" fill="#ff0000"/><rect x="968" y="221" width="3" height="13" fill="#ff0000"/><rect x="973" y="206" width="1" height="21" fill="#ff0000"/><rect x="972" y="211" width="3" height="14" fill="#ff0000"/><rect x="977" y="191" width="1" height="25" fill="#ff0000"/><rect x="976" y="199" width="3" height="13" fill="#ff0000"/><rect x="981" y="195" width="1" height="11" fill="#00ff00"/><rect x="980" y="200" width="3" height="4" fill="#00ff00"/><rect x="985" y="198" width="1" height="32" fill="#00ff00"/><rect x="984" y="204" width="3" height="7" fill="#00ff00"/><rect x="989" y="209" width="1" height="45" fill="#00ff00"/><rect x="988" y="211" width="3" height="23" fill="#00ff00"/><rect x="993" y="223" width="1" height="11" fill="#ff0000"/><rect x="992" y="228" width="3" height="5" fill="#ff0000"/><rect x="997" y="209" width="1" height="28" fill="#ff0000"/><rect x="996" y="218" width="3" height="18" fill="#ff0000"/><rect x="1001" y="213" width="1" height="36" fill="#00ff00"/><rect x="1000" y="218" width="3" height="28" fill="#00ff00"/><rect x="1005" y="229" width="1" height="32" fill="#00ff00"/><rect x="1004" y="244" width="3" height="15" fill="#00ff00"/><rect x="1009" y="252" width="1" height="19" fill="#00ff00"/><rect x="1008" y="255" width="3" height="9" fill="#00ff00"/><rect x="1013" y="257" width="1" height="19" fill="#ff0000"/><rect x="1012" y="259" width="3" height="6" fill="#ff0000"/><rect x="1017" y="250" width="1" height="12" fill="#ff0000"/><rect x="1016" y="253" width="3" height="8" fill="#ff0000"/><rect x="1021" y="245" width="1" height="14" fill="#ff0000"/><rect x="1020" y="248" width="3" height="9" fill="#ff0000"/><rect x="1025" y="242" width="1" height="23" fill="#00ff00"/><rect x="1024" y="246" width="3" height="11" fill="#00ff00"/><rect x="1029" y="232" width="1" height="25" fill="#ff0000"/><rect x="1028" y="237" width="3" height="19" fill="#ff0000"/><rect x="1033" y="227" width="1" height="21" fill="#00ff00"/><rect x="1032" y="238" width="3" height="9" fill="#00ff00"/><rect x="1037" y="240" width="1" height="36" fill="#00ff00"/><rect x="1036" y="242" width="3" height="29" fill="#00ff00"/><rect x="1041" y="268" width="1" height="7" fill="#00ff00"/><rect x="1040" y="270" width="3" height="2" fill="#00ff00"/><rect x="1045" y="264" width="1" height="17" fill="#00ff00"/><rect x="1044" y="266" width="3" height="12" fill="#00ff00"/><rect x="1049" y="258" width="1" height="20" fill="#ff0000"/><rect x="1048" y="268" width="3" height="9" fill="#ff0000"/><rect x="1053" y="267" width="1" height="17" fill="#00ff00"/><rect x="1052" y="268" width="3" height="14" fill="#00ff00"/><rect x="1057" y="263" width="1" height="38" fill="#00ff00"/><rect x="1056" y="280" width="3" height="18" fill="#00ff00"/><rect x="1061" y="287" width="1" height="23" fill="#00ff00"/><rect x="1060" y="296" width="3" height="13" fill="#00ff00"/><rect x="1065" y="303" width="1" height="9" fill="#ff0000"/><rect x="1064" y="305" width="3" height="4" fill="#ff0000"/><rect x="1069" y="302" width="1" height="15" fill="#00ff00"/><rect x="1068" y="305" width="3" height="11" fill="#00ff00"/><rect x="1073" y="307" width="1" height="17" fill="#00ff00"/><rect x="1072" y="314" width="3" height="9" fill="#00ff00"/><rect x="1077" y="306" width="1" height="21" fill="#00ff00"/><rect x="1076" y="321" width="3" height="2" fill="#00ff00"/><rect x="1081" y="300" width="1" height="25" fill="#ff0000"/><rect x="1080" y="302" width="3" height="22" fill="#ff0000"/><rect x="1085" y="274" width="1" height="40" fill="#ff0000"/><rect x="1084" y="276" width="3" height="28" fill="#ff0000"/><rect x="1089" y="272" width="1" height="9" fill="#ff0000"/><rect x="1088" y="272" width="3" height="6" fill="#ff0000"/><rect x="1093" y="271" width="1" height="33" fill="#00ff00"/><rect x="1092" y="274" width="3" height="20" fill="#00ff00"/><rect x="1097" y="285" width="1" height="19" fill="#00ff00"/><rect x="1096" y="289" width="3" height="12" fill="#00ff00"/><rect x="1101" y="299" width="1" height="26" fill="#00ff00"/><rect x="1100" y="300" width="3" height="20" fill="#00ff00"/><rect x="1105" y="313" width="1" height="28" fill="#00ff00"/><rect x="1104" y="318" width="3" height="17" fill="#00ff00"/><rect x="1109" y="329" width="1" height="22" fill="#00ff00"/><rect x="1108" y="334" width="3" height="9" fill="#00ff00"/><rect x="1113" y="340" width="1" height="15" fill="#00ff00"/><rect x="1112" y="341" width="3" height="10" fill="#00ff00"/><rect x="1117" y="344" width="1" height="22" fill="#00ff00"/><rect x="1116" y="352" width="3" height="12" fill="#00ff00"/><rect x="1121" y="361" width="1" height="21" fill="#00ff00"/><rect x="1120" y="362" width="3" height="7" fill="#00ff00"/><rect x="1125" y="362" width="1" height="22" fill="#00ff00"/><rect x="1124" y="367" width="3" height="14" fill="#00ff00"/><rect x="1129" y="377" width="1" height="36" fill="#00ff00"/><rect x="1128" y="378" width="3" height="27" fill="#00ff00"/><rect x="1133" y="397" width="1" height="19" fill="#00ff00"/><rect x="1132" y="404" width="3" height="3" fill="#00ff00"/><rect x="1137" y="404" width="1" height="9" fill="#00ff00"/><rect x="1136" y="405" width="3" height="6" fill="#00ff00"/><rect x="1141" y="404" width="1" height="12" fill="#00ff00"/><rect x="1140" y="410" width="3" height="5" fill="#00ff00"/><rect x="1145" y="409" width="1" height="30" fill="#00ff00"/><rect x="1144" y="414" width="3" height="6" fill="#00ff00"/><rect x="1149" y="417" width="1" height="24" fill="#00ff00"/><rect x="1148" y="418" width="3" height="18" fill="#00ff00"/><rect x="1153" y="419" width="1" height="25" fill="#ff0000"/><rect x="1152" y="429" width="3" height="7" fill="#ff0000"/><rect x="1157" y="396" width="1" height="45" fill="#ff0000"/><rect x="1156" y="401" width="3" height="30" fill="#ff0000"/><rect x="1161" y="396" width="1" height="10" fill="#ff0000"/><rect x="1160" y="399" width="3" height="6" fill="#ff0000"/><rect x="1165" y="398" width="1" height="32" fill="#ff0000"/><rect x="1164" y="399" width="3" height="18" fill="#ff0000"/><rect x="1169" y="391" width="1" height="24" fill="#ff0000"/><rect x="1168" y="395" width="3" height="7" fill="#ff0000"/><rect x="1173" y="371" width="1" height="28" fill="#ff0000"/><rect x="1172" y="390" width="3" height="6" fill="#ff0000"/><rect x="1177" y="317" width="1" height="80" fill="#ff0000"/><rect x="1176" y="330" width="3" height="66" fill="#ff0000"/><rect x="1181" y="292" width="1" height="57" fill="#ff0000"/><rect x="1180" y="329" width="3" height="3" fill="#ff0000"/><rect x="1185" y="302" width="1" height="32" fill="#ff0000"/><rect x="1184" y="304" width="3" height="29" fill="#ff0000"/><rect x="1189" y="231" width="1" height="72" fill="#ff0000"/><rect x="1188" y="249" width="3" height="45" fill="#ff0000"/><rect x="1193" y="205" width="1" height="66" fill="#ff0000"/><rect x="1192" y="223" width="3" height="28" fill="#ff0000"/><rect x="1197" y="214" width="1" height="55" fill="#00ff00"/><rect x="1196" y="223" width="3" height="24" fill="#00ff00"/><rect x="1201" y="212" width="1" height="46" fill="#ff0000"/><rect x="1200" y="218" width="3" height="29" fill="#ff0000"/><rect x="1205" y="127" width="1" height="98" fill="#ff0000"/><rect x="1204" y="152" width="3" height="72" fill="#ff0000"/><rect x="1209" y="141" width="1" height="24" fill="#ff0000"/><rect x="1208" y="147" width="3" height="5" fill="#ff0000"/><rect x="1213" y="50" width="1" height="77" fill="#ff0000"/><rect x="1212" y="92" width="3" height="18" fill="#ff0000"/><rect x="1217" y="59" width="1" height="82" fill="#00ff00"/><rect x="1216" y="92" width="3" height="44" fill="#00ff00"/><rect x="1221" y="121" width="1" height="61" fill="#00ff00"/><rect x="1220" y="134" width="3" height="34" fill="#00ff00"/><rect x="1225" y="139" width="1" height="140" fill="#00ff00"/><rect x="1224" y="166" width="3" height="112" fill="#00ff00"/><rect x="1229" y="197" width="1" height="96" fill="#00ff00"/><rect x="1228" y="276" width="3" height="9" fill="#00ff00"/><rect x="1233" y="263" width="1" height="30" fill="#ff0000"/><rect x="1232" y="283" width="3" height="2" fill="#ff0000"/><rect x="1237" y="192" width="1" height="85" fill="#00ff00"/><rect x="1236" y="234" width="3" height="15" fill="#00ff00"/><rect x="1241" y="245" width="1" height="103" fill="#00ff00"/><rect x="1240" y="246" width="3" height="91" fill="#00ff00"/><rect x="1245" y="296" width="1" height="120" fill="#00ff00"/><rect x="1244" y="336" width="3" height="78" fill="#00ff00"/><rect x="1249" y="332" width="1" height="159" fill="#00ff00"/><rect x="1248" y="412" width="3" height="76" fill="#00ff00"/><rect x="1253" y="415" width="1" height="98" fill="#00ff00"/><rect x="1252" y="485" width="3" height="12" fill="#00ff00"/><rect x="1257" y="477" width="1" height="44" fill="#00ff00"/><rect x="1256" y="495" width="3" height="17" fill="#00ff00"/><rect x="1261" y="415" width="1" height="95" fill="#ff0000"/><rect x="1260" y="453" width="3" height="57" fill="#ff0000"/><rect x="1265" y="382" width="1" height="72" fill="#ff0000"/><rect x="1264" y="433" width="3" height="21" fill="#ff0000"/><rect x="1269" y="419" width="1" height="43" fill="#ff0000"/><rect x="1268" y="427" width="3" height="7" fill="#ff0000"/><path d="M11,145h4v1h-4zM5,146h6v1h-6zM15,146h4v1h-4zM19,147h3v1h-3zM22,148h2v1h-2zM24,149h2v1h-2zM26,150h2v1h-2zM28,151h2v1h-2zM30,152h2v1h-2zM32,153h2v1h-2zM34,154h1v1h-1zM35,155h2v1h-2zM37,156h1v1h-1zM38,157h1v1h-1zM39,158h2v1h-2zM41,159h1v1h-1zM42,160h1v1h-1zM43,161h2v1h-2zM367,161h8v1h-8zM379,161h4v1h-4zM45,162h1v1h-1zM363,162h4v1h-4zM375,162h4v1h-4zM383,162h4v1h-4zM46,163h1v1h-1zM361,163h2v1h-2zM387,163h4v1h-4zM47,164h2v1h-2zM359,164h2v1h-2zM391,164h4v1h-4zM49,165h1v1h-1zM358,165h1v1h-1zM395,165h3v1h-3zM50,166h1v1h-1zM356,166h2v1h-2zM398,166h2v1h-2zM51,167h2v1h-2zM354,167h2v1h-2zM400,167h2v1h-2zM53,168h1v1h-1zM353,168h1v1h-1zM402,168h2v1h-2zM54,169h2v1h-2zM351,169h2v1h-2zM404,169h15v1h-15zM56,170h2v1h-2zM83,170h12v1h-12zM350,170h1v1h-1zM419,170h7v1h-7zM58,171h2v1h-2zM79,171h4v1h-4zM95,171h4v1h-4zM348,171h2v1h-2zM426,171h2v1h-2zM60,172h3v1h-3zM75,172h4v1h-4zM99,172h3v1h-3zM346,172h2v1h-2zM428,172h2v1h-2zM63,173h4v1h-4zM71,173h4v1h-4zM102,173h2v1h-2zM345,173h1v1h-1zM430,173h2v1h-2zM67,174h4v1h-4zM104,174h2v1h-2zM343,174h2v1h-2zM432,174h2v1h-2zM106,175h2v1h-2zM342,175h1v1h-1zM434,175h1v1h-1zM108,176h2v1h-2zM341,176h1v1h-1zM435,176h1v1h-1zM110,177h1v1h-1zM339,177h2v1h-2zM436,177h1v1h-1zM111,178h2v1h-2zM338,178h1v1h-1zM437,178h1v1h-1zM113,179h1v1h-1zM337,179h1v1h-1zM438,179h1v1h-1zM114,180h1v1h-1zM336,180h1v1h-1zM439,180h1v1h-1zM115,181h2v1h-2zM335,181h1v1h-1zM440,181h1v1h-1zM117,182h1v1h-1zM334,182h1v1h-1zM441,182h1v1h-1zM118,183h1v1h-1zM333,183h1v1h-1zM442,183h1v1h-1zM119,184h2v1h-2zM332,184h1v1h-1zM443,184h1v1h-1zM121,185h1v1h-1zM331,185h1v1h-1zM443,185h1v1h-1zM122,186h1v1h-1zM330,186h1v1h-1zM444,186h1v1h-1zM123,187h2v1h-2zM329,187h1v1h-1zM445,187h1v1h-1zM125,188h1v1h-1zM328,188h1v1h-1zM446,188h1v1h-1zM126,189h2v1h-2zM327,189h1v1h-1zM447,189h1v1h-1zM128,190h2v1h-2zM326,190h1v1h-1zM448,190h1v1h-1zM130,191h1v1h-1zM325,191h1v1h-1zM449,191h1v1h-1zM131,192h2v1h-2zM324,192h1v1h-1zM450,192h1v1h-1zM133,193h1v1h-1zM323,193h1v1h-1zM451,193h1v1h-1zM134,194h2v1h-2zM322,194h1v1h-1zM451,194h1v1h-1zM136,195h11v1h-11zM321,195h1v1h-1zM452,195h1v1h-1zM147,196h8v1h-8zM320,196h1v1h-1zM453,196h1v1h-1zM155,197h8v1h-8zM167,197h16v1h-16zM319,197h1v1h-1zM454,197h1v1h-1zM163,198h4v1h-4zM183,198h3v1h-3zM318,198h1v1h-1zM455,198h1v1h-1zM186,199h2v1h-2zM317,199h1v1h-1zM455,199h1v1h-1zM188,200h3v1h-3zM315,200h2v1h-2zM456,200h1v1h-1zM191,201h3v1h-3zM314,201h1v1h-1zM457,201h1v1h-1zM194,202h1v1h-1zM312,202h2v1h-2zM458,202h1v1h-1zM195,203h2v1h-2zM287,203h4v1h-4zM310,203h2v1h-2zM459,203h1v1h-1zM197,204h1v1h-1zM284,204h3v1h-3zM291,204h19v1h-19zM459,204h1v1h-1zM198,205h2v1h-2zM282,205h2v1h-2zM460,205h1v1h-1zM200,206h2v1h-2zM280,206h2v1h-2zM461,206h1v1h-1zM202,207h2v1h-2zM278,207h2v1h-2zM462,207h1v1h-1zM204,208h2v1h-2zM276,208h2v1h-2zM463,208h1v1h-1zM206,209h1v1h-1zM274,209h2v1h-2zM463,209h1v1h-1zM207,210h2v1h-2zM273,210h1v1h-1zM464,210h1v1h-1zM209,211h1v1h-1zM271,211h2v1h-2zM465,211h1v1h-1zM210,212h1v1h-1zM270,212h1v1h-1zM466,212h2v1h-2zM211,213h2v1h-2zM268,213h2v1h-2zM468,213h2v1h-2zM213,214h2v1h-2zM266,214h2v1h-2zM470,214h2v1h-2zM215,215h8v1h-8zM264,215h2v1h-2zM472,215h3v1h-3zM223,216h4v1h-4zM262,216h2v1h-2zM475,216h4v1h-4zM227,217h4v1h-4zM255,217h7v1h-7zM479,217h16v1h-16zM231,218h4v1h-4zM251,218h4v1h-4zM495,218h3v1h-3zM235,219h16v1h-16zM498,219h2v1h-2zM500,220h2v1h-2zM502,221h1v1h-1zM503,222h2v1h-2zM505,223h1v1h-1zM506,224h1v1h-1zM507,225h2v1h-2zM509,226h1v1h-1zM510,227h1v1h-1zM511,228h2v1h-2zM513,229h1v1h-1zM514,230h1v1h-1zM515,231h2v1h-2zM517,232h1v1h-1zM518,233h2v1h-2zM520,234h2v1h-2zM522,235h1v1h-1zM523,236h2v1h-2zM525,237h1v1h-1zM526,238h2v1h-2zM528,239h3v1h-3zM531,240h3v1h-3zM534,241h2v1h-2zM536,242h2v1h-2zM538,243h2v1h-2zM540,244h3v1h-3zM543,245h4v1h-4zM1031,245h4v1h-4zM547,246h3v1h-3zM1027,246h4v1h-4zM1035,246h7v1h-7zM550,247h2v1h-2zM1020,247h7v1h-7zM1042,247h2v1h-2zM552,248h2v1h-2zM1018,248h2v1h-2zM1044,248h3v1h-3zM554,249h2v1h-2zM1015,249h3v1h-3zM1047,249h4v1h-4zM556,250h2v1h-2zM1011,250h4v1h-4zM1051,250h4v1h-4zM558,251h1v1h-1zM1003,251h8v1h-8zM1055,251h4v1h-4zM559,252h2v1h-2zM999,252h4v1h-4zM1059,252h4v1h-4zM561,253h1v1h-1zM996,253h3v1h-3zM1063,253h4v1h-4zM562,254h1v1h-1zM994,254h2v1h-2zM1067,254h3v1h-3zM563,255h2v1h-2zM993,255h1v1h-1zM1070,255h2v1h-2zM565,256h1v1h-1zM991,256h2v1h-2zM1072,256h3v1h-3zM566,257h1v1h-1zM990,257h1v1h-1zM1075,257h3v1h-3zM567,258h1v1h-1zM988,258h2v1h-2zM1078,258h2v1h-2zM568,259h1v1h-1zM986,259h2v1h-2zM1080,259h3v1h-3zM569,260h2v1h-2zM985,260h1v1h-1zM1083,260h3v1h-3zM571,261h4v1h-4zM984,261h1v1h-1zM1086,261h2v1h-2zM575,262h4v1h-4zM983,262h1v1h-1zM1088,262h2v1h-2zM579,263h3v1h-3zM982,263h1v1h-1zM1090,263h1v1h-1zM582,264h2v1h-2zM981,264h1v1h-1zM1091,264h2v1h-2zM584,265h2v1h-2zM980,265h1v1h-1zM1093,265h1v1h-1zM586,266h2v1h-2zM979,266h1v1h-1zM1094,266h1v1h-1zM588,267h2v1h-2zM978,267h1v1h-1zM1095,267h2v1h-2zM590,268h1v1h-1zM977,268h1v1h-1zM1097,268h1v1h-1zM591,269h2v1h-2zM976,269h1v1h-1zM1098,269h1v1h-1zM593,270h1v1h-1zM975,270h1v1h-1zM1099,270h1v1h-1zM594,271h1v1h-1zM974,271h1v1h-1zM1100,271h1v1h-1zM595,272h1v1h-1zM831,272h8v1h-8zM973,272h1v1h-1zM1101,272h1v1h-1zM596,273h1v1h-1zM827,273h4v1h-4zM839,273h3v1h-3zM971,273h2v1h-2zM1102,273h1v1h-1zM597,274h1v1h-1zM808,274h19v1h-19zM842,274h2v1h-2zM970,274h1v1h-1zM1103,274h1v1h-1zM598,275h1v1h-1zM806,275h2v1h-2zM844,275h2v1h-2zM969,275h1v1h-1zM1104,275h1v1h-1zM599,276h2v1h-2zM803,276h3v1h-3zM846,276h1v1h-1zM967,276h2v1h-2zM1105,276h1v1h-1zM601,277h1v1h-1zM795,277h8v1h-8zM847,277h2v1h-2zM966,277h1v1h-1zM1106,277h1v1h-1zM602,278h2v1h-2zM791,278h4v1h-4zM849,278h1v1h-1zM965,278h1v1h-1zM1107,278h1v1h-1zM604,279h2v1h-2zM789,279h2v1h-2zM850,279h2v1h-2zM963,279h2v1h-2zM1108,279h1v1h-1zM606,280h1v1h-1zM787,280h2v1h-2zM852,280h2v1h-2zM962,280h1v1h-1zM1109,280h1v1h-1zM607,281h2v1h-2zM786,281h1v1h-1zM854,281h1v1h-1zM951,281h11v1h-11zM1110,281h1v1h-1zM609,282h1v1h-1zM784,282h2v1h-2zM855,282h2v1h-2zM937,282h14v1h-14zM1111,282h1v1h-1zM610,283h1v1h-1zM782,283h2v1h-2zM857,283h1v1h-1zM935,283h2v1h-2zM1112,283h1v1h-1zM611,284h1v1h-1zM781,284h1v1h-1zM858,284h2v1h-2zM934,284h1v1h-1zM1113,284h1v1h-1zM612,285h1v1h-1zM780,285h1v1h-1zM860,285h3v1h-3zM932,285h2v1h-2zM1114,285h1v1h-1zM613,286h1v1h-1zM779,286h1v1h-1zM863,286h4v1h-4zM930,286h2v1h-2zM1115,286h1v1h-1zM614,287h2v1h-2zM779,287h1v1h-1zM867,287h4v1h-4zM928,287h2v1h-2zM1116,287h1v1h-1zM616,288h3v1h-3zM778,288h1v1h-1zM871,288h4v1h-4zM926,288h2v1h-2zM1117,288h1v1h-1zM619,289h4v1h-4zM777,289h1v1h-1zM875,289h8v1h-8zM924,289h2v1h-2zM1118,289h1v1h-1zM623,290h3v1h-3zM776,290h1v1h-1zM883,290h4v1h-4zM922,290h2v1h-2zM1119,290h1v1h-1zM626,291h2v1h-2zM775,291h1v1h-1zM887,291h3v1h-3zM920,291h2v1h-2zM1119,291h1v1h-1zM628,292h3v1h-3zM774,292h1v1h-1zM890,292h2v1h-2zM918,292h2v1h-2zM1120,292h1v1h-1zM631,293h3v1h-3zM773,293h1v1h-1zM892,293h2v1h-2zM916,293h2v1h-2zM1121,293h1v1h-1zM634,294h2v1h-2zM772,294h1v1h-1zM894,294h2v1h-2zM914,294h2v1h-2zM1122,294h1v1h-1zM636,295h2v1h-2zM771,295h1v1h-1zM896,295h2v1h-2zM912,295h2v1h-2zM1123,295h1v1h-1zM638,296h2v1h-2zM770,296h1v1h-1zM898,296h2v1h-2zM910,296h2v1h-2zM1124,296h1v1h-1zM640,297h2v1h-2zM769,297h1v1h-1zM900,297h10v1h-10zM1125,297h1v1h-1zM642,298h2v1h-2zM768,298h1v1h-1zM1126,298h1v1h-1zM644,299h2v1h-2zM767,299h1v1h-1zM1127,299h1v1h-1zM646,300h1v1h-1zM766,300h1v1h-1zM1128,300h1v1h-1zM647,301h2v1h-2zM765,301h1v1h-1zM1129,301h1v1h-1zM649,302h1v1h-1zM763,302h2v1h-2zM1130,302h1v1h-1zM650,303h1v1h-1zM762,303h1v1h-1zM1131,303h1v1h-1zM651,304h1v1h-1zM760,304h2v1h-2zM1131,304h1v1h-1zM652,305h1v1h-1zM758,305h2v1h-2zM1132,305h1v1h-1zM653,306h1v1h-1zM756,306h2v1h-2zM1133,306h1v1h-1zM654,307h1v1h-1zM754,307h2v1h-2zM1134,307h1v1h-1zM655,308h1v1h-1zM751,308h3v1h-3zM1135,308h1v1h-1zM656,309h1v1h-1zM748,309h3v1h-3zM1135,309h1v1h-1zM657,310h1v1h-1zM746,310h2v1h-2zM1136,310h1v1h-1zM1239,310h4v1h-4zM658,311h1v1h-1zM739,311h7v1h-7zM1137,311h1v1h-1zM1237,311h2v1h-2zM1243,311h3v1h-3zM659,312h2v1h-2zM736,312h3v1h-3zM1138,312h1v1h-1zM1236,312h1v1h-1zM1246,312h1v1h-1zM661,313h1v1h-1zM734,313h2v1h-2zM1138,313h1v1h-1zM1235,313h1v1h-1zM1247,313h2v1h-2zM662,314h1v1h-1zM732,314h2v1h-2zM1139,314h1v1h-1zM1234,314h1v1h-1zM1249,314h1v1h-1zM663,315h2v1h-2zM730,315h2v1h-2zM1140,315h1v1h-1zM1232,315h2v1h-2zM1250,315h1v1h-1zM665,316h1v1h-1zM728,316h2v1h-2zM1140,316h1v1h-1zM1230,316h2v1h-2zM1251,316h2v1h-2zM666,317h1v1h-1zM726,317h2v1h-2zM1141,317h1v1h-1zM1228,317h2v1h-2zM1253,317h1v1h-1zM667,318h2v1h-2zM723,318h3v1h-3zM1142,318h1v1h-1zM1226,318h2v1h-2zM1254,318h1v1h-1zM669,319h2v1h-2zM719,319h4v1h-4zM1143,319h1v1h-1zM1224,319h2v1h-2zM1255,319h2v1h-2zM671,320h20v1h-20zM716,320h3v1h-3zM1143,320h1v1h-1zM1222,320h2v1h-2zM1257,320h1v1h-1zM691,321h16v1h-16zM714,321h2v1h-2zM1144,321h1v1h-1zM1221,321h1v1h-1zM1258,321h2v1h-2zM707,322h7v1h-7zM1145,322h1v1h-1zM1220,322h1v1h-1zM1260,322h10v1h-10zM1146,323h1v1h-1zM1219,323h1v1h-1zM1146,324h1v1h-1zM1219,324h1v1h-1zM1147,325h1v1h-1zM1218,325h1v1h-1zM1147,326h1v1h-1zM1217,326h1v1h-1zM1148,327h1v1h-1zM1216,327h1v1h-1zM1148,328h1v1h-1zM1216,328h1v1h-1zM1149,329h1v1h-1zM1215,329h1v1h-1zM1150,330h1v1h-1zM1214,330h1v1h-1zM1150,331h1v1h-1zM1214,331h1v1h-1zM1151,332h1v1h-1zM1213,332h1v1h-1zM1152,333h1v1h-1zM1212,333h1v1h-1zM1152,334h1v1h-1zM1212,334h1v1h-1zM1153,335h1v1h-1zM1211,335h1v1h-1zM1154,336h1v1h-1zM1210,336h1v1h-1zM1155,337h1v1h-1zM1210,337h1v1h-1zM1156,338h1v1h-1zM1209,338h1v1h-1zM1157,339h1v1h-1zM1208,339h1v1h-1zM1158,340h1v1h-1zM1207,340h1v1h-1zM1159,341h1v1h-1zM1206,341h1v1h-1zM1159,342h1v1h-1zM1205,342h1v1h-1zM1160,343h1v1h-1zM1204,343h1v1h-1zM1161,344h1v1h-1zM1203,344h1v1h-1zM1162,345h1v1h-1zM1203,345h1v1h-1zM1163,346h1v1h-1zM1202,346h1v1h-1zM1164,347h1v1h-1zM1200,347h2v1h-2zM1165,348h1v1h-1zM1198,348h2v1h-2zM1166,349h1v1h-1zM1197,349h1v1h-1zM1167,350h1v1h-1zM1195,350h2v1h-2zM1168,351h1v1h-1zM1194,351h1v1h-1zM1169,352h1v1h-1zM1193,352h1v1h-1zM1170,353h1v1h-1zM1191,353h2v1h-2zM1171,354h1v1h-1zM1190,354h1v1h-1zM1172,355h1v1h-1zM1188,355h2v1h-2zM1173,356h2v1h-2zM1186,356h2v1h-2zM1175,357h11v1h-11z" fill="#0000ff"/><path d="M361,140h5v1h-5zM359,141h2v1h-2zM366,141h2v1h-2zM358,142h1v1h-1zM368,142h2v1h-2zM356,143h2v1h-2zM370,143h1v1h-1zM354,144h2v1h-2zM371,144h1v1h-1zM353,145h1v1h-1zM372,145h1v1h-1zM352,146h1v1h-1zM373,146h1v1h-1zM351,147h1v1h-1zM374,147h1v1h-1zM350,148h1v1h-1zM374,148h1v1h-1zM349,149h1v1h-1zM375,149h1v1h-1zM347,150h2v1h-2zM375,150h1v1h-1zM19,151h4v1h-4zM346,151h1v1h-1zM376,151h1v1h-1zM16,152h3v1h-3zM23,152h3v1h-3zM345,152h1v1h-1zM376,152h1v1h-1zM14,153h2v1h-2zM26,153h2v1h-2zM344,153h1v1h-1zM377,153h1v1h-1zM12,154h2v1h-2zM28,154h2v1h-2zM343,154h1v1h-1zM378,154h1v1h-1zM10,155h2v1h-2zM30,155h1v1h-1zM342,155h1v1h-1zM379,155h1v1h-1zM8,156h2v1h-2zM31,156h2v1h-2zM341,156h1v1h-1zM379,156h1v1h-1zM6,157h2v1h-2zM33,157h1v1h-1zM339,157h2v1h-2zM380,157h1v1h-1zM5,158h1v1h-1zM34,158h1v1h-1zM338,158h1v1h-1zM381,158h1v1h-1zM34,159h1v1h-1zM336,159h2v1h-2zM382,159h1v1h-1zM35,160h1v1h-1zM334,160h2v1h-2zM383,160h1v1h-1zM36,161h1v1h-1zM333,161h1v1h-1zM383,161h1v1h-1zM36,162h1v1h-1zM331,162h2v1h-2zM384,162h1v1h-1zM37,163h1v1h-1zM330,163h1v1h-1zM385,163h1v1h-1zM38,164h1v1h-1zM328,164h2v1h-2zM386,164h1v1h-1zM39,165h1v1h-1zM326,165h2v1h-2zM387,165h1v1h-1zM39,166h1v1h-1zM324,166h2v1h-2zM387,166h1v1h-1zM40,167h1v1h-1zM322,167h2v1h-2zM388,167h1v1h-1zM41,168h1v1h-1zM321,168h1v1h-1zM389,168h1v1h-1zM42,169h1v1h-1zM319,169h2v1h-2zM390,169h1v1h-1zM43,170h2v1h-2zM318,170h1v1h-1zM391,170h1v1h-1zM45,171h1v1h-1zM317,171h1v1h-1zM392,171h1v1h-1zM46,172h1v1h-1zM316,172h1v1h-1zM393,172h1v1h-1zM47,173h1v1h-1zM315,173h1v1h-1zM394,173h1v1h-1zM47,174h1v1h-1zM314,174h1v1h-1zM395,174h1v1h-1zM48,175h1v1h-1zM108,175h6v1h-6zM312,175h2v1h-2zM395,175h1v1h-1zM49,176h1v1h-1zM106,176h2v1h-2zM114,176h1v1h-1zM310,176h2v1h-2zM396,176h1v1h-1zM50,177h1v1h-1zM97,177h2v1h-2zM103,177h3v1h-3zM115,177h2v1h-2zM303,177h7v1h-7zM397,177h1v1h-1zM50,178h1v1h-1zM95,178h2v1h-2zM99,178h4v1h-4zM117,178h1v1h-1zM301,178h2v1h-2zM398,178h1v1h-1zM51,179h1v1h-1zM94,179h1v1h-1zM118,179h1v1h-1zM299,179h2v1h-2zM398,179h1v1h-1zM51,180h1v1h-1zM93,180h1v1h-1zM118,180h1v1h-1zM298,180h1v1h-1zM399,180h1v1h-1zM52,181h1v1h-1zM91,181h2v1h-2zM119,181h1v1h-1zM296,181h2v1h-2zM400,181h1v1h-1zM52,182h1v1h-1zM90,182h1v1h-1zM120,182h1v1h-1zM294,182h2v1h-2zM400,182h1v1h-1zM53,183h1v1h-1zM89,183h1v1h-1zM120,183h1v1h-1zM293,183h1v1h-1zM401,183h1v1h-1zM54,184h1v1h-1zM87,184h2v1h-2zM121,184h1v1h-1zM292,184h1v1h-1zM402,184h1v1h-1zM54,185h1v1h-1zM86,185h1v1h-1zM122,185h1v1h-1zM291,185h1v1h-1zM403,185h2v1h-2zM55,186h1v1h-1zM85,186h1v1h-1zM123,186h1v1h-1zM290,186h1v1h-1zM405,186h1v1h-1zM56,187h1v1h-1zM83,187h2v1h-2zM124,187h1v1h-1zM289,187h1v1h-1zM406,187h1v1h-1zM56,188h1v1h-1zM82,188h1v1h-1zM125,188h1v1h-1zM288,188h1v1h-1zM407,188h2v1h-2zM57,189h2v1h-2zM80,189h2v1h-2zM126,189h1v1h-1zM287,189h1v1h-1zM409,189h1v1h-1zM59,190h7v1h-7zM78,190h2v1h-2zM127,190h1v1h-1zM286,190h1v1h-1zM410,190h2v1h-2zM66,191h1v1h-1zM76,191h2v1h-2zM128,191h1v1h-1zM285,191h1v1h-1zM412,191h2v1h-2zM67,192h2v1h-2zM74,192h2v1h-2zM129,192h1v1h-1zM284,192h1v1h-1zM414,192h1v1h-1zM69,193h5v1h-5zM130,193h1v1h-1zM283,193h1v1h-1zM415,193h2v1h-2zM131,194h1v1h-1zM282,194h1v1h-1zM417,194h5v1h-5zM131,195h1v1h-1zM281,195h1v1h-1zM422,195h2v1h-2zM132,196h1v1h-1zM280,196h1v1h-1zM424,196h2v1h-2zM133,197h1v1h-1zM279,197h1v1h-1zM426,197h1v1h-1zM134,198h1v1h-1zM278,198h1v1h-1zM427,198h2v1h-2zM135,199h1v1h-1zM277,199h1v1h-1zM429,199h1v1h-1zM136,200h1v1h-1zM276,200h1v1h-1zM430,200h2v1h-2zM137,201h1v1h-1zM275,201h1v1h-1zM432,201h2v1h-2zM138,202h2v1h-2zM274,202h1v1h-1zM434,202h1v1h-1zM140,203h2v1h-2zM273,203h1v1h-1zM434,203h1v1h-1zM142,204h1v1h-1zM272,204h1v1h-1zM435,204h1v1h-1zM143,205h1v1h-1zM272,205h1v1h-1zM436,205h1v1h-1zM144,206h1v1h-1zM271,206h1v1h-1zM436,206h1v1h-1zM145,207h1v1h-1zM187,207h7v1h-7zM271,207h1v1h-1zM437,207h1v1h-1zM146,208h1v1h-1zM184,208h3v1h-3zM194,208h1v1h-1zM270,208h1v1h-1zM438,208h1v1h-1zM147,209h1v1h-1zM182,209h2v1h-2zM195,209h1v1h-1zM270,209h1v1h-1zM439,209h1v1h-1zM148,210h1v1h-1zM181,210h1v1h-1zM196,210h1v1h-1zM269,210h1v1h-1zM439,210h1v1h-1zM149,211h1v1h-1zM179,211h2v1h-2zM197,211h2v1h-2zM268,211h1v1h-1zM440,211h1v1h-1zM150,212h2v1h-2zM178,212h1v1h-1zM199,212h7v1h-7zM268,212h1v1h-1zM441,212h1v1h-1zM152,213h3v1h-3zM177,213h1v1h-1zM206,213h2v1h-2zM267,213h1v1h-1zM442,213h1v1h-1zM155,214h3v1h-3zM175,214h2v1h-2zM208,214h2v1h-2zM267,214h1v1h-1zM443,214h1v1h-1zM158,215h1v1h-1zM174,215h1v1h-1zM210,215h2v1h-2zM266,215h1v1h-1zM444,215h1v1h-1zM159,216h2v1h-2zM172,216h2v1h-2zM212,216h11v1h-11zM266,216h1v1h-1zM445,216h1v1h-1zM1237,216h1v1h-1zM161,217h1v1h-1zM170,217h2v1h-2zM223,217h3v1h-3zM265,217h1v1h-1zM446,217h1v1h-1zM1236,217h1v1h-1zM1238,217h2v1h-2zM162,218h2v1h-2zM167,218h3v1h-3zM226,218h2v1h-2zM264,218h1v1h-1zM447,218h1v1h-1zM1236,218h1v1h-1zM1240,218h2v1h-2zM164,219h3v1h-3zM228,219h2v1h-2zM263,219h1v1h-1zM447,219h1v1h-1zM1235,219h1v1h-1zM1241,219h1v1h-1zM230,220h2v1h-2zM263,220h1v1h-1zM448,220h1v1h-1zM1234,220h1v1h-1zM1242,220h1v1h-1zM232,221h2v1h-2zM262,221h1v1h-1zM449,221h1v1h-1zM1234,221h1v1h-1zM1242,221h1v1h-1zM234,222h1v1h-1zM261,222h1v1h-1zM450,222h1v1h-1zM1233,222h1v1h-1zM1242,222h1v1h-1zM235,223h1v1h-1zM259,223h2v1h-2zM451,223h1v1h-1zM1231,223h2v1h-2zM1243,223h1v1h-1zM236,224h1v1h-1zM258,224h1v1h-1zM451,224h1v1h-1zM1230,224h1v1h-1zM1243,224h1v1h-1zM237,225h1v1h-1zM257,225h1v1h-1zM452,225h1v1h-1zM1229,225h1v1h-1zM1243,225h1v1h-1zM238,226h2v1h-2zM255,226h2v1h-2zM453,226h1v1h-1zM1229,226h1v1h-1zM1244,226h1v1h-1zM240,227h2v1h-2zM254,227h1v1h-1zM454,227h1v1h-1zM1228,227h1v1h-1zM1244,227h1v1h-1zM242,228h1v1h-1zM252,228h2v1h-2zM454,228h1v1h-1zM1228,228h1v1h-1zM1244,228h1v1h-1zM243,229h2v1h-2zM250,229h2v1h-2zM455,229h1v1h-1zM496,229h6v1h-6zM1227,229h1v1h-1zM1245,229h1v1h-1zM245,230h5v1h-5zM456,230h1v1h-1zM494,230h2v1h-2zM502,230h2v1h-2zM1227,230h1v1h-1zM1245,230h1v1h-1zM456,231h1v1h-1zM493,231h1v1h-1zM504,231h2v1h-2zM512,231h3v1h-3zM1015,231h4v1h-4zM1226,231h1v1h-1zM1245,231h1v1h-1zM457,232h1v1h-1zM492,232h1v1h-1zM506,232h2v1h-2zM510,232h2v1h-2zM515,232h4v1h-4zM1011,232h4v1h-4zM1019,232h3v1h-3zM1226,232h1v1h-1zM1245,232h1v1h-1zM458,233h1v1h-1zM491,233h1v1h-1zM508,233h2v1h-2zM519,233h3v1h-3zM1007,233h4v1h-4zM1022,233h1v1h-1zM1225,233h1v1h-1zM1246,233h1v1h-1zM459,234h1v1h-1zM490,234h1v1h-1zM522,234h1v1h-1zM1003,234h4v1h-4zM1023,234h2v1h-2zM1225,234h1v1h-1zM1246,234h1v1h-1zM460,235h1v1h-1zM488,235h2v1h-2zM523,235h1v1h-1zM1001,235h2v1h-2zM1025,235h2v1h-2zM1224,235h1v1h-1zM1246,235h1v1h-1zM461,236h1v1h-1zM486,236h2v1h-2zM524,236h1v1h-1zM999,236h2v1h-2zM1027,236h3v1h-3zM1224,236h1v1h-1zM1246,236h1v1h-1zM462,237h1v1h-1zM485,237h1v1h-1zM525,237h1v1h-1zM998,237h1v1h-1zM1030,237h1v1h-1zM1223,237h1v1h-1zM1246,237h1v1h-1zM463,238h1v1h-1zM483,238h2v1h-2zM526,238h1v1h-1zM997,238h1v1h-1zM1031,238h1v1h-1zM1223,238h1v1h-1zM1247,238h1v1h-1zM463,239h1v1h-1zM482,239h1v1h-1zM527,239h1v1h-1zM996,239h1v1h-1zM1032,239h1v1h-1zM1222,239h1v1h-1zM1247,239h1v1h-1zM464,240h1v1h-1zM480,240h2v1h-2zM528,240h1v1h-1zM995,240h1v1h-1zM1033,240h1v1h-1zM1222,240h1v1h-1zM1247,240h1v1h-1zM465,241h2v1h-2zM478,241h2v1h-2zM529,241h1v1h-1zM994,241h1v1h-1zM1034,241h1v1h-1zM1221,241h1v1h-1zM1247,241h1v1h-1zM467,242h4v1h-4zM475,242h3v1h-3zM530,242h1v1h-1zM992,242h2v1h-2zM1035,242h1v1h-1zM1221,242h1v1h-1zM1248,242h1v1h-1zM471,243h4v1h-4zM531,243h2v1h-2zM990,243h2v1h-2zM1035,243h1v1h-1zM1221,243h1v1h-1zM1248,243h1v1h-1zM533,244h1v1h-1zM987,244h3v1h-3zM1036,244h1v1h-1zM1220,244h1v1h-1zM1248,244h1v1h-1zM534,245h1v1h-1zM984,245h3v1h-3zM1037,245h1v1h-1zM1220,245h1v1h-1zM1248,245h1v1h-1zM535,246h2v1h-2zM982,246h2v1h-2zM1038,246h1v1h-1zM1220,246h1v1h-1zM1248,246h1v1h-1zM537,247h1v1h-1zM981,247h1v1h-1zM1039,247h1v1h-1zM1220,247h1v1h-1zM1249,247h1v1h-1zM538,248h1v1h-1zM979,248h2v1h-2zM1040,248h1v1h-1zM1219,248h1v1h-1zM1249,248h1v1h-1zM539,249h1v1h-1zM978,249h1v1h-1zM1041,249h1v1h-1zM1219,249h1v1h-1zM1249,249h1v1h-1zM540,250h1v1h-1zM977,250h1v1h-1zM1042,250h1v1h-1zM1219,250h1v1h-1zM1249,250h1v1h-1zM541,251h1v1h-1zM976,251h1v1h-1zM1043,251h2v1h-2zM1219,251h1v1h-1zM1249,251h1v1h-1zM542,252h1v1h-1zM775,252h7v1h-7zM975,252h1v1h-1zM1045,252h1v1h-1zM1218,252h1v1h-1zM1250,252h1v1h-1zM543,253h1v1h-1zM773,253h2v1h-2zM782,253h1v1h-1zM974,253h1v1h-1zM1046,253h1v1h-1zM1218,253h1v1h-1zM1250,253h1v1h-1zM543,254h1v1h-1zM771,254h2v1h-2zM783,254h2v1h-2zM972,254h2v1h-2zM1047,254h2v1h-2zM1218,254h1v1h-1zM1250,254h1v1h-1zM544,255h1v1h-1zM770,255h1v1h-1zM785,255h1v1h-1zM970,255h2v1h-2zM1049,255h1v1h-1zM1218,255h1v1h-1zM1250,255h1v1h-1zM545,256h1v1h-1zM769,256h1v1h-1zM786,256h1v1h-1zM969,256h1v1h-1zM1050,256h1v1h-1zM1217,256h1v1h-1zM1251,256h1v1h-1zM546,257h1v1h-1zM768,257h1v1h-1zM787,257h2v1h-2zM967,257h2v1h-2zM1051,257h1v1h-1zM1217,257h1v1h-1zM1251,257h1v1h-1zM547,258h1v1h-1zM767,258h1v1h-1zM789,258h1v1h-1zM966,258h1v1h-1zM1052,258h1v1h-1zM1217,258h1v1h-1zM1251,258h1v1h-1zM547,259h1v1h-1zM767,259h1v1h-1zM790,259h1v1h-1zM965,259h1v1h-1zM1053,259h1v1h-1zM1217,259h1v1h-1zM1251,259h1v1h-1zM548,260h1v1h-1zM766,260h1v1h-1zM791,260h2v1h-2zM963,260h2v1h-2zM1054,260h1v1h-1zM1217,260h1v1h-1zM1251,260h1v1h-1zM549,261h1v1h-1zM765,261h1v1h-1zM793,261h1v1h-1zM962,261h1v1h-1zM1055,261h1v1h-1zM1216,261h1v1h-1zM1252,261h1v1h-1zM550,262h1v1h-1zM764,262h1v1h-1zM794,262h1v1h-1zM959,262h3v1h-3zM1056,262h1v1h-1zM1216,262h1v1h-1zM1252,262h1v1h-1zM551,263h1v1h-1zM763,263h1v1h-1zM795,263h1v1h-1zM952,263h7v1h-7zM1057,263h1v1h-1zM1216,263h1v1h-1zM1252,263h1v1h-1zM551,264h1v1h-1zM762,264h1v1h-1zM796,264h1v1h-1zM950,264h2v1h-2zM1058,264h1v1h-1zM1216,264h1v1h-1zM1252,264h1v1h-1zM552,265h1v1h-1zM761,265h1v1h-1zM797,265h1v1h-1zM936,265h7v1h-7zM947,265h3v1h-3zM1059,265h1v1h-1zM1216,265h1v1h-1zM1253,265h1v1h-1zM553,266h1v1h-1zM759,266h2v1h-2zM798,266h1v1h-1zM934,266h2v1h-2zM943,266h4v1h-4zM1060,266h1v1h-1zM1215,266h1v1h-1zM1253,266h1v1h-1zM554,267h1v1h-1zM758,267h1v1h-1zM799,267h2v1h-2zM932,267h2v1h-2zM1061,267h1v1h-1zM1215,267h1v1h-1zM1253,267h1v1h-1zM554,268h1v1h-1zM756,268h2v1h-2zM801,268h1v1h-1zM930,268h2v1h-2zM1062,268h1v1h-1zM1215,268h1v1h-1zM1253,268h1v1h-1zM555,269h1v1h-1zM754,269h2v1h-2zM802,269h2v1h-2zM929,269h1v1h-1zM1063,269h2v1h-2zM1215,269h1v1h-1zM1253,269h1v1h-1zM556,270h1v1h-1zM752,270h2v1h-2zM804,270h2v1h-2zM928,270h1v1h-1zM1065,270h1v1h-1zM1214,270h1v1h-1zM1254,270h1v1h-1zM556,271h1v1h-1zM750,271h2v1h-2zM806,271h2v1h-2zM928,271h1v1h-1zM1066,271h1v1h-1zM1214,271h1v1h-1zM1254,271h1v1h-1zM557,272h1v1h-1zM749,272h1v1h-1zM808,272h2v1h-2zM927,272h1v1h-1zM1067,272h1v1h-1zM1214,272h1v1h-1zM1254,272h1v1h-1zM558,273h1v1h-1zM748,273h1v1h-1zM810,273h1v1h-1zM926,273h1v1h-1zM1068,273h1v1h-1zM1214,273h1v1h-1zM1254,273h1v1h-1zM559,274h1v1h-1zM747,274h1v1h-1zM811,274h2v1h-2zM926,274h1v1h-1zM1069,274h1v1h-1zM1214,274h1v1h-1zM1254,274h1v1h-1zM559,275h1v1h-1zM746,275h1v1h-1zM813,275h1v1h-1zM925,275h1v1h-1zM1070,275h1v1h-1zM1213,275h1v1h-1zM1255,275h1v1h-1zM560,276h1v1h-1zM745,276h1v1h-1zM814,276h1v1h-1zM924,276h1v1h-1zM1071,276h1v1h-1zM1213,276h1v1h-1zM1255,276h1v1h-1zM561,277h1v1h-1zM744,277h1v1h-1zM815,277h1v1h-1zM923,277h1v1h-1zM1071,277h1v1h-1zM1213,277h1v1h-1zM1255,277h1v1h-1zM562,278h1v1h-1zM744,278h1v1h-1zM815,278h1v1h-1zM922,278h1v1h-1zM1072,278h1v1h-1zM1213,278h1v1h-1zM1255,278h1v1h-1zM563,279h1v1h-1zM743,279h1v1h-1zM816,279h1v1h-1zM921,279h1v1h-1zM1073,279h1v1h-1zM1213,279h1v1h-1zM1255,279h1v1h-1zM563,280h1v1h-1zM742,280h1v1h-1zM817,280h1v1h-1zM920,280h1v1h-1zM1074,280h1v1h-1zM1212,280h1v1h-1zM1255,280h1v1h-1zM564,281h1v1h-1zM742,281h1v1h-1zM818,281h1v1h-1zM919,281h1v1h-1zM1075,281h1v1h-1zM1212,281h1v1h-1zM1256,281h1v1h-1zM565,282h1v1h-1zM741,282h1v1h-1zM819,282h2v1h-2zM918,282h1v1h-1zM1075,282h1v1h-1zM1212,282h1v1h-1zM1256,282h1v1h-1zM566,283h1v1h-1zM740,283h1v1h-1zM821,283h1v1h-1zM917,283h1v1h-1zM1076,283h1v1h-1zM1212,283h1v1h-1zM1256,283h1v1h-1zM567,284h1v1h-1zM739,284h1v1h-1zM822,284h1v1h-1zM916,284h1v1h-1zM1077,284h1v1h-1zM1212,284h1v1h-1zM1256,284h1v1h-1zM567,285h1v1h-1zM739,285h1v1h-1zM823,285h2v1h-2zM916,285h1v1h-1zM1078,285h1v1h-1zM1212,285h1v1h-1zM1256,285h1v1h-1zM568,286h1v1h-1zM738,286h1v1h-1zM825,286h1v1h-1zM915,286h1v1h-1zM1079,286h2v1h-2zM1211,286h1v1h-1zM1257,286h1v1h-1zM569,287h1v1h-1zM737,287h1v1h-1zM826,287h1v1h-1zM914,287h1v1h-1zM1081,287h1v1h-1zM1211,287h1v1h-1zM1257,287h1v1h-1zM570,288h2v1h-2zM736,288h1v1h-1zM827,288h1v1h-1zM914,288h1v1h-1zM1082,288h1v1h-1zM1211,288h1v1h-1zM1257,288h1v1h-1zM572,289h2v1h-2zM736,289h1v1h-1zM828,289h1v1h-1zM913,289h1v1h-1zM1083,289h2v1h-2zM1211,289h1v1h-1zM1257,289h1v1h-1zM574,290h2v1h-2zM735,290h1v1h-1zM829,290h1v1h-1zM912,290h1v1h-1zM1085,290h1v1h-1zM1211,290h1v1h-1zM1257,290h1v1h-1zM576,291h2v1h-2zM734,291h1v1h-1zM830,291h1v1h-1zM911,291h1v1h-1zM1086,291h2v1h-2zM1210,291h1v1h-1zM1258,291h1v1h-1zM578,292h2v1h-2zM734,292h1v1h-1zM831,292h2v1h-2zM910,292h1v1h-1zM1088,292h2v1h-2zM1210,292h1v1h-1zM1258,292h1v1h-1zM580,293h2v1h-2zM733,293h1v1h-1zM833,293h1v1h-1zM909,293h1v1h-1zM1090,293h2v1h-2zM1210,293h1v1h-1zM1258,293h1v1h-1zM582,294h1v1h-1zM732,294h1v1h-1zM834,294h1v1h-1zM907,294h2v1h-2zM1092,294h2v1h-2zM1210,294h1v1h-1zM1258,294h1v1h-1zM583,295h2v1h-2zM732,295h1v1h-1zM835,295h1v1h-1zM906,295h1v1h-1zM1094,295h2v1h-2zM1210,295h1v1h-1zM1258,295h1v1h-1zM585,296h1v1h-1zM731,296h1v1h-1zM836,296h1v1h-1zM904,296h2v1h-2zM1096,296h2v1h-2zM1210,296h1v1h-1zM1259,296h1v1h-1zM586,297h1v1h-1zM625,297h2v1h-2zM731,297h1v1h-1zM837,297h6v1h-6zM902,297h2v1h-2zM1098,297h1v1h-1zM1209,297h1v1h-1zM1259,297h1v1h-1zM587,298h2v1h-2zM623,298h2v1h-2zM627,298h4v1h-4zM730,298h1v1h-1zM843,298h4v1h-4zM883,298h8v1h-8zM899,298h3v1h-3zM1099,298h2v1h-2zM1209,298h1v1h-1zM1259,298h1v1h-1zM589,299h1v1h-1zM622,299h1v1h-1zM631,299h3v1h-3zM730,299h1v1h-1zM847,299h8v1h-8zM879,299h4v1h-4zM891,299h8v1h-8zM1101,299h1v1h-1zM1209,299h1v1h-1zM1259,299h1v1h-1zM590,300h1v1h-1zM621,300h1v1h-1zM634,300h2v1h-2zM729,300h1v1h-1zM855,300h4v1h-4zM871,300h8v1h-8zM1102,300h1v1h-1zM1209,300h1v1h-1zM1259,300h1v1h-1zM591,301h1v1h-1zM620,301h1v1h-1zM636,301h6v1h-6zM728,301h1v1h-1zM859,301h4v1h-4zM867,301h4v1h-4zM1103,301h1v1h-1zM1209,301h1v1h-1zM1259,301h1v1h-1zM592,302h1v1h-1zM619,302h1v1h-1zM642,302h1v1h-1zM728,302h1v1h-1zM863,302h4v1h-4zM1104,302h1v1h-1zM1208,302h1v1h-1zM1260,302h1v1h-1zM593,303h1v1h-1zM618,303h1v1h-1zM643,303h1v1h-1zM727,303h1v1h-1zM1105,303h1v1h-1zM1208,303h1v1h-1zM1260,303h1v1h-1zM594,304h1v1h-1zM617,304h1v1h-1zM643,304h1v1h-1zM727,304h1v1h-1zM1106,304h1v1h-1zM1208,304h1v1h-1zM1260,304h1v1h-1zM595,305h1v1h-1zM615,305h2v1h-2zM644,305h1v1h-1zM726,305h1v1h-1zM1107,305h1v1h-1zM1208,305h1v1h-1zM1260,305h1v1h-1zM596,306h1v1h-1zM614,306h1v1h-1zM645,306h1v1h-1zM726,306h1v1h-1zM1107,306h1v1h-1zM1208,306h1v1h-1zM1260,306h1v1h-1zM597,307h2v1h-2zM611,307h3v1h-3zM646,307h1v1h-1zM725,307h1v1h-1zM1108,307h1v1h-1zM1207,307h1v1h-1zM1261,307h1v1h-1zM599,308h12v1h-12zM647,308h1v1h-1zM725,308h1v1h-1zM1109,308h1v1h-1zM1207,308h1v1h-1zM1261,308h1v1h-1zM648,309h1v1h-1zM724,309h1v1h-1zM1110,309h1v1h-1zM1207,309h1v1h-1zM1261,309h1v1h-1zM649,310h1v1h-1zM724,310h1v1h-1zM1111,310h2v1h-2zM1207,310h1v1h-1zM1261,310h1v1h-1zM650,311h2v1h-2zM723,311h1v1h-1zM1113,311h1v1h-1zM1207,311h1v1h-1zM1261,311h1v1h-1zM652,312h2v1h-2zM723,312h1v1h-1zM1114,312h1v1h-1zM1206,312h1v1h-1zM1262,312h1v1h-1zM654,313h1v1h-1zM722,313h1v1h-1zM1115,313h1v1h-1zM1206,313h1v1h-1zM1262,313h1v1h-1zM655,314h1v1h-1zM722,314h1v1h-1zM1116,314h1v1h-1zM1206,314h1v1h-1zM1262,314h1v1h-1zM655,315h1v1h-1zM721,315h1v1h-1zM1117,315h1v1h-1zM1206,315h1v1h-1zM1262,315h1v1h-1zM656,316h1v1h-1zM721,316h1v1h-1zM1118,316h1v1h-1zM1206,316h1v1h-1zM1262,316h1v1h-1zM657,317h1v1h-1zM720,317h1v1h-1zM1119,317h1v1h-1zM1205,317h1v1h-1zM1263,317h1v1h-1zM658,318h1v1h-1zM720,318h1v1h-1zM1119,318h1v1h-1zM1205,318h1v1h-1zM1263,318h1v1h-1zM658,319h1v1h-1zM719,319h1v1h-1zM1120,319h1v1h-1zM1205,319h1v1h-1zM1263,319h1v1h-1zM659,320h1v1h-1zM719,320h1v1h-1zM1121,320h1v1h-1zM1205,320h1v1h-1zM1263,320h1v1h-1zM659,321h1v1h-1zM718,321h1v1h-1zM1122,321h1v1h-1zM1205,321h1v1h-1zM1263,321h1v1h-1zM660,322h1v1h-1zM718,322h1v1h-1zM1123,322h1v1h-1zM1204,322h1v1h-1zM1263,322h1v1h-1zM660,323h1v1h-1zM717,323h1v1h-1zM1123,323h1v1h-1zM1204,323h1v1h-1zM1264,323h1v1h-1zM661,324h1v1h-1zM716,324h1v1h-1zM1124,324h1v1h-1zM1204,324h1v1h-1zM1264,324h1v1h-1zM662,325h1v1h-1zM716,325h1v1h-1zM1125,325h1v1h-1zM1204,325h1v1h-1zM1264,325h1v1h-1zM663,326h1v1h-1zM715,326h1v1h-1zM1126,326h1v1h-1zM1204,326h1v1h-1zM1264,326h1v1h-1zM663,327h1v1h-1zM714,327h1v1h-1zM1127,327h1v1h-1zM1203,327h1v1h-1zM1264,327h1v1h-1zM664,328h1v1h-1zM714,328h1v1h-1zM1127,328h1v1h-1zM1203,328h1v1h-1zM1265,328h1v1h-1zM665,329h1v1h-1zM713,329h1v1h-1zM1128,329h1v1h-1zM1203,329h1v1h-1zM1265,329h1v1h-1zM666,330h1v1h-1zM712,330h1v1h-1zM1129,330h1v1h-1zM1203,330h1v1h-1zM1265,330h1v1h-1zM667,331h2v1h-2zM711,331h1v1h-1zM1130,331h1v1h-1zM1203,331h1v1h-1zM1265,331h1v1h-1zM669,332h1v1h-1zM710,332h1v1h-1zM1130,332h1v1h-1zM1202,332h1v1h-1zM1265,332h1v1h-1zM670,333h2v1h-2zM709,333h1v1h-1zM1131,333h1v1h-1zM1202,333h1v1h-1zM1266,333h1v1h-1zM672,334h2v1h-2zM707,334h2v1h-2zM1132,334h1v1h-1zM1202,334h1v1h-1zM1266,334h1v1h-1zM674,335h1v1h-1zM706,335h1v1h-1zM1132,335h1v1h-1zM1202,335h1v1h-1zM1266,335h1v1h-1zM675,336h1v1h-1zM705,336h1v1h-1zM1133,336h1v1h-1zM1202,336h1v1h-1zM1266,336h1v1h-1zM676,337h1v1h-1zM704,337h1v1h-1zM1134,337h1v1h-1zM1201,337h1v1h-1zM1266,337h1v1h-1zM677,338h1v1h-1zM703,338h1v1h-1zM1134,338h1v1h-1zM1201,338h1v1h-1zM1266,338h1v1h-1zM678,339h1v1h-1zM702,339h1v1h-1zM1135,339h1v1h-1zM1201,339h1v1h-1zM1267,339h1v1h-1zM679,340h2v1h-2zM701,340h1v1h-1zM1135,340h1v1h-1zM1201,340h1v1h-1zM1267,340h1v1h-1zM681,341h5v1h-5zM700,341h1v1h-1zM1136,341h1v1h-1zM1200,341h1v1h-1zM1267,341h1v1h-1zM686,342h1v1h-1zM699,342h1v1h-1zM1136,342h1v1h-1zM1200,342h1v1h-1zM1267,342h1v1h-1zM687,343h2v1h-2zM698,343h1v1h-1zM1137,343h1v1h-1zM1200,343h1v1h-1zM1267,343h1v1h-1zM689,344h9v1h-9zM1137,344h1v1h-1zM1200,344h1v1h-1zM1267,344h1v1h-1zM1137,345h1v1h-1zM1199,345h1v1h-1zM1268,345h1v1h-1zM1138,346h1v1h-1zM1199,346h1v1h-1zM1268,346h1v1h-1zM1138,347h1v1h-1zM1199,347h1v1h-1zM1268,347h1v1h-1zM1139,348h1v1h-1zM1198,348h1v1h-1zM1268,348h1v1h-1zM1139,349h1v1h-1zM1198,349h1v1h-1zM1268,349h1v1h-1zM1139,350h1v1h-1zM1198,350h1v1h-1zM1268,350h1v1h-1zM1140,351h1v1h-1zM1198,351h1v1h-1zM1269,351h1v1h-1zM1140,352h1v1h-1zM1197,352h1v1h-1zM1269,352h1v1h-1zM1141,353h1v1h-1zM1197,353h1v1h-1zM1269,353h1v1h-1zM1141,354h1v1h-1zM1197,354h1v1h-1zM1269,354h1v1h-1zM1141,355h1v1h-1zM1196,355h1v1h-1zM1142,356h1v1h-1zM1196,356h1v1h-1zM1142,357h1v1h-1zM1196,357h1v1h-1zM1143,358h1v1h-1zM1195,358h1v1h-1zM1143,359h1v1h-1zM1195,359h1v1h-1zM1143,360h1v1h-1zM1195,360h1v1h-1zM1144,361h1v1h-1zM1194,361h1v1h-1zM1144,362h1v1h-1zM1194,362h1v1h-1zM1145,363h1v1h-1zM1194,363h1v1h-1zM1145,364h1v1h-1zM1193,364h1v1h-1zM1145,365h1v1h-1zM1193,365h1v1h-1zM1146,366h1v1h-1zM1193,366h1v1h-1zM1146,367h1v1h-1zM1192,367h1v1h-1zM1146,368h1v1h-1zM1192,368h1v1h-1zM1147,369h1v1h-1zM1192,369h1v1h-1zM1147,370h1v1h-1zM1192,370h1v1h-1zM1148,371h1v1h-1zM1191,371h1v1h-1zM1148,372h1v1h-1zM1191,372h1v1h-1zM1148,373h1v1h-1zM1191,373h1v1h-1zM1149,374h1v1h-1zM1190,374h1v1h-1zM1149,375h1v1h-1zM1190,375h1v1h-1zM1149,376h1v1h-1zM1190,376h1v1h-1zM1150,377h1v1h-1zM1190,377h1v1h-1zM1150,378h1v1h-1zM1189,378h1v1h-1zM1151,379h1v1h-1zM1189,379h1v1h-1zM1151,380h1v1h-1zM1189,380h1v1h-1zM1152,381h1v1h-1zM1188,381h1v1h-1zM1152,382h1v1h-1zM1188,382h1v1h-1zM1153,383h1v1h-1zM1188,383h1v1h-1zM1153,384h1v1h-1zM1187,384h1v1h-1zM1154,385h1v1h-1zM1187,385h1v1h-1zM1154,386h1v1h-1zM1186,386h1v1h-1zM1155,387h1v1h-1zM1186,387h1v1h-1zM1156,388h1v1h-1zM1186,388h1v1h-1zM1156,389h1v1h-1zM1185,389h1v1h-1zM1157,390h1v1h-1zM1185,390h1v1h-1zM1158,391h1v1h-1zM1184,391h1v1h-1zM1159,392h1v1h-1zM1184,392h1v1h-1zM1160,393h1v1h-1zM1183,393h1v1h-1zM1161,394h1v1h-1zM1183,394h1v1h-1zM1162,395h1v1h-1zM1182,395h1v1h-1zM1163,396h1v1h-1zM1182,396h1v1h-1zM1164,397h1v1h-1zM1181,397h1v1h-1zM1165,398h1v1h-1zM1180,398h1v1h-1zM1166,399h1v1h-1zM1179,399h1v1h-1zM1167,400h1v1h-1zM1178,400h1v1h-1zM1168,401h1v1h-1zM1177,401h1v1h-1zM1169,402h1v1h-1zM1175,402h2v1h-2zM1170,403h2v1h-2zM1174,403h1v1h-1zM1172,404h2v1h-2z" fill="#ff0000"/><path d="M339,112h3v1h-3zM337,113h2v1h-2zM342,113h2v1h-2zM336,114h1v1h-1zM344,114h2v1h-2zM335,115h1v1h-1zM345,115h1v1h-1zM334,116h1v1h-1zM346,116h1v1h-1zM333,117h1v1h-1zM346,117h1v1h-1zM333,118h1v1h-1zM347,118h1v1h-1zM332,119h1v1h-1zM347,119h1v1h-1zM332,120h1v1h-1zM348,120h1v1h-1zM332,121h1v1h-1zM348,121h1v1h-1zM331,122h1v1h-1zM349,122h1v1h-1zM331,123h1v1h-1zM349,123h1v1h-1zM331,124h1v1h-1zM349,124h1v1h-1zM330,125h1v1h-1zM350,125h1v1h-1zM330,126h1v1h-1zM350,126h1v1h-1zM330,127h1v1h-1zM351,127h1v1h-1zM329,128h1v1h-1zM351,128h1v1h-1zM329,129h1v1h-1zM352,129h1v1h-1zM329,130h1v1h-1zM352,130h1v1h-1zM329,131h1v1h-1zM353,131h1v1h-1zM328,132h1v1h-1zM353,132h1v1h-1zM328,133h1v1h-1zM353,133h1v1h-1zM328,134h1v1h-1zM354,134h1v1h-1zM328,135h1v1h-1zM354,135h1v1h-1zM328,136h1v1h-1zM355,136h1v1h-1zM5,137h1v1h-1zM327,137h1v1h-1zM355,137h1v1h-1zM6,138h1v1h-1zM327,138h1v1h-1zM355,138h1v1h-1zM7,139h1v1h-1zM327,139h1v1h-1zM356,139h1v1h-1zM1221,139h1v1h-1zM7,140h1v1h-1zM327,140h1v1h-1zM356,140h1v1h-1zM1221,140h1v1h-1zM8,141h1v1h-1zM326,141h1v1h-1zM357,141h1v1h-1zM1220,141h2v1h-2zM9,142h1v1h-1zM326,142h1v1h-1zM357,142h1v1h-1zM1220,142h2v1h-2zM10,143h1v1h-1zM326,143h1v1h-1zM357,143h1v1h-1zM1219,143h1v1h-1zM1222,143h1v1h-1zM11,144h2v1h-2zM326,144h1v1h-1zM358,144h1v1h-1zM1219,144h1v1h-1zM1222,144h1v1h-1zM13,145h1v1h-1zM326,145h1v1h-1zM358,145h1v1h-1zM1219,145h1v1h-1zM1222,145h1v1h-1zM14,146h1v1h-1zM325,146h1v1h-1zM359,146h1v1h-1zM1218,146h1v1h-1zM1222,146h1v1h-1zM14,147h1v1h-1zM283,147h3v1h-3zM325,147h1v1h-1zM359,147h1v1h-1zM1218,147h1v1h-1zM1222,147h1v1h-1zM15,148h1v1h-1zM281,148h2v1h-2zM286,148h1v1h-1zM325,148h1v1h-1zM359,148h1v1h-1zM1217,148h1v1h-1zM1222,148h1v1h-1zM15,149h1v1h-1zM281,149h1v1h-1zM286,149h1v1h-1zM325,149h1v1h-1zM360,149h1v1h-1zM1217,149h1v1h-1zM1223,149h1v1h-1zM16,150h1v1h-1zM280,150h1v1h-1zM287,150h1v1h-1zM325,150h1v1h-1zM360,150h1v1h-1zM1217,150h1v1h-1zM1223,150h1v1h-1zM16,151h1v1h-1zM280,151h1v1h-1zM288,151h1v1h-1zM324,151h1v1h-1zM361,151h1v1h-1zM1217,151h1v1h-1zM1223,151h1v1h-1zM17,152h1v1h-1zM279,152h1v1h-1zM288,152h1v1h-1zM324,152h1v1h-1zM361,152h1v1h-1zM1216,152h1v1h-1zM1223,152h1v1h-1zM17,153h1v1h-1zM279,153h1v1h-1zM289,153h1v1h-1zM324,153h1v1h-1zM361,153h1v1h-1zM1216,153h1v1h-1zM1223,153h1v1h-1zM18,154h1v1h-1zM278,154h1v1h-1zM289,154h1v1h-1zM324,154h1v1h-1zM361,154h1v1h-1zM1216,154h1v1h-1zM1223,154h1v1h-1zM18,155h1v1h-1zM278,155h1v1h-1zM290,155h1v1h-1zM324,155h1v1h-1zM362,155h1v1h-1zM1216,155h1v1h-1zM1224,155h1v1h-1zM18,156h1v1h-1zM277,156h1v1h-1zM290,156h1v1h-1zM323,156h1v1h-1zM362,156h1v1h-1zM1216,156h1v1h-1zM1224,156h1v1h-1zM19,157h1v1h-1zM277,157h1v1h-1zM290,157h1v1h-1zM323,157h1v1h-1zM362,157h1v1h-1zM1216,157h1v1h-1zM1224,157h1v1h-1zM19,158h1v1h-1zM276,158h1v1h-1zM291,158h1v1h-1zM323,158h1v1h-1zM362,158h1v1h-1zM1215,158h1v1h-1zM1224,158h1v1h-1zM19,159h1v1h-1zM93,159h1v1h-1zM276,159h1v1h-1zM291,159h1v1h-1zM323,159h1v1h-1zM363,159h1v1h-1zM1215,159h1v1h-1zM1224,159h1v1h-1zM19,160h1v1h-1zM92,160h1v1h-1zM94,160h1v1h-1zM275,160h1v1h-1zM291,160h1v1h-1zM323,160h1v1h-1zM363,160h1v1h-1zM1215,160h1v1h-1zM1224,160h1v1h-1zM20,161h1v1h-1zM91,161h1v1h-1zM94,161h1v1h-1zM275,161h1v1h-1zM291,161h1v1h-1zM323,161h1v1h-1zM363,161h1v1h-1zM1215,161h1v1h-1zM1225,161h1v1h-1zM20,162h1v1h-1zM90,162h1v1h-1zM95,162h1v1h-1zM274,162h1v1h-1zM292,162h1v1h-1zM322,162h1v1h-1zM363,162h1v1h-1zM1215,162h1v1h-1zM1225,162h1v1h-1zM20,163h1v1h-1zM89,163h1v1h-1zM96,163h1v1h-1zM274,163h1v1h-1zM292,163h1v1h-1zM322,163h1v1h-1zM363,163h1v1h-1zM1214,163h1v1h-1zM1225,163h1v1h-1zM21,164h1v1h-1zM87,164h2v1h-2zM96,164h1v1h-1zM273,164h1v1h-1zM292,164h1v1h-1zM322,164h1v1h-1zM364,164h1v1h-1zM1214,164h1v1h-1zM1225,164h1v1h-1zM21,165h1v1h-1zM86,165h1v1h-1zM97,165h1v1h-1zM273,165h1v1h-1zM293,165h1v1h-1zM322,165h1v1h-1zM364,165h1v1h-1zM1214,165h1v1h-1zM1225,165h1v1h-1zM22,166h1v1h-1zM84,166h2v1h-2zM98,166h1v1h-1zM272,166h1v1h-1zM293,166h1v1h-1zM322,166h1v1h-1zM364,166h1v1h-1zM1214,166h1v1h-1zM1225,166h1v1h-1zM23,167h1v1h-1zM82,167h2v1h-2zM98,167h1v1h-1zM272,167h1v1h-1zM293,167h1v1h-1zM321,167h1v1h-1zM364,167h1v1h-1zM1214,167h1v1h-1zM1225,167h1v1h-1zM23,168h1v1h-1zM81,168h1v1h-1zM99,168h1v1h-1zM272,168h1v1h-1zM294,168h1v1h-1zM321,168h1v1h-1zM365,168h1v1h-1zM1214,168h1v1h-1zM1226,168h1v1h-1zM24,169h1v1h-1zM80,169h1v1h-1zM99,169h1v1h-1zM272,169h1v1h-1zM294,169h1v1h-1zM321,169h1v1h-1zM365,169h1v1h-1zM1213,169h1v1h-1zM1226,169h1v1h-1zM25,170h1v1h-1zM79,170h1v1h-1zM100,170h1v1h-1zM271,170h1v1h-1zM294,170h1v1h-1zM321,170h1v1h-1zM365,170h1v1h-1zM1213,170h1v1h-1zM1226,170h1v1h-1zM26,171h1v1h-1zM78,171h1v1h-1zM100,171h1v1h-1zM271,171h1v1h-1zM295,171h1v1h-1zM320,171h1v1h-1zM365,171h1v1h-1zM1213,171h1v1h-1zM1226,171h1v1h-1zM26,172h1v1h-1zM77,172h1v1h-1zM101,172h1v1h-1zM271,172h1v1h-1zM295,172h1v1h-1zM320,172h1v1h-1zM366,172h1v1h-1zM1213,172h1v1h-1zM1226,172h1v1h-1zM27,173h1v1h-1zM77,173h1v1h-1zM101,173h1v1h-1zM271,173h1v1h-1zM296,173h1v1h-1zM320,173h1v1h-1zM366,173h1v1h-1zM1213,173h1v1h-1zM1226,173h1v1h-1zM27,174h1v1h-1zM76,174h1v1h-1zM102,174h1v1h-1zM270,174h1v1h-1zM296,174h1v1h-1zM320,174h1v1h-1zM367,174h1v1h-1zM1213,174h1v1h-1zM1226,174h1v1h-1zM28,175h1v1h-1zM76,175h1v1h-1zM102,175h1v1h-1zM270,175h1v1h-1zM296,175h1v1h-1zM319,175h1v1h-1zM367,175h1v1h-1zM1212,175h1v1h-1zM1227,175h1v1h-1zM28,176h1v1h-1zM75,176h1v1h-1zM103,176h1v1h-1zM270,176h1v1h-1zM297,176h1v1h-1zM319,176h1v1h-1zM368,176h1v1h-1zM1212,176h1v1h-1zM1227,176h1v1h-1zM29,177h1v1h-1zM75,177h1v1h-1zM104,177h1v1h-1zM270,177h1v1h-1zM297,177h1v1h-1zM319,177h1v1h-1zM368,177h1v1h-1zM1212,177h1v1h-1zM1227,177h1v1h-1zM29,178h1v1h-1zM74,178h1v1h-1zM104,178h1v1h-1zM269,178h1v1h-1zM297,178h1v1h-1zM319,178h1v1h-1zM369,178h1v1h-1zM1212,178h1v1h-1zM1227,178h1v1h-1zM29,179h1v1h-1zM74,179h1v1h-1zM105,179h1v1h-1zM269,179h1v1h-1zM298,179h1v1h-1zM318,179h1v1h-1zM369,179h1v1h-1zM397,179h1v1h-1zM1212,179h1v1h-1zM1227,179h1v1h-1zM30,180h1v1h-1zM73,180h1v1h-1zM106,180h1v1h-1zM269,180h1v1h-1zM298,180h1v1h-1zM318,180h1v1h-1zM369,180h1v1h-1zM396,180h1v1h-1zM398,180h1v1h-1zM1212,180h1v1h-1zM1227,180h1v1h-1zM30,181h1v1h-1zM73,181h1v1h-1zM107,181h1v1h-1zM269,181h1v1h-1zM299,181h1v1h-1zM318,181h1v1h-1zM370,181h1v1h-1zM395,181h1v1h-1zM399,181h1v1h-1zM1211,181h1v1h-1zM1228,181h1v1h-1zM30,182h1v1h-1zM72,182h1v1h-1zM108,182h1v1h-1zM268,182h1v1h-1zM299,182h1v1h-1zM318,182h1v1h-1zM370,182h1v1h-1zM395,182h1v1h-1zM399,182h1v1h-1zM1211,182h1v1h-1zM1228,182h1v1h-1zM31,183h1v1h-1zM71,183h1v1h-1zM109,183h1v1h-1zM268,183h1v1h-1zM300,183h1v1h-1zM317,183h1v1h-1zM371,183h1v1h-1zM394,183h1v1h-1zM400,183h1v1h-1zM1211,183h1v1h-1zM1228,183h1v1h-1zM31,184h1v1h-1zM71,184h1v1h-1zM109,184h1v1h-1zM268,184h1v1h-1zM300,184h1v1h-1zM317,184h1v1h-1zM371,184h1v1h-1zM393,184h1v1h-1zM401,184h1v1h-1zM1211,184h1v1h-1zM1228,184h1v1h-1zM31,185h1v1h-1zM70,185h1v1h-1zM110,185h1v1h-1zM268,185h1v1h-1zM301,185h1v1h-1zM317,185h1v1h-1zM372,185h1v1h-1zM392,185h1v1h-1zM402,185h1v1h-1zM1211,185h1v1h-1zM1228,185h1v1h-1zM32,186h1v1h-1zM69,186h1v1h-1zM110,186h1v1h-1zM267,186h1v1h-1zM301,186h1v1h-1zM316,186h1v1h-1zM372,186h1v1h-1zM392,186h1v1h-1zM403,186h2v1h-2zM1211,186h1v1h-1zM1228,186h1v1h-1zM32,187h1v1h-1zM68,187h1v1h-1zM111,187h1v1h-1zM267,187h1v1h-1zM301,187h1v1h-1zM316,187h1v1h-1zM373,187h1v1h-1zM391,187h1v1h-1zM405,187h1v1h-1zM1211,187h1v1h-1zM1228,187h1v1h-1zM32,188h1v1h-1zM67,188h1v1h-1zM111,188h1v1h-1zM267,188h1v1h-1zM302,188h1v1h-1zM316,188h1v1h-1zM373,188h1v1h-1zM391,188h1v1h-1zM406,188h1v1h-1zM1210,188h1v1h-1zM1229,188h1v1h-1zM33,189h1v1h-1zM67,189h1v1h-1zM112,189h1v1h-1zM267,189h1v1h-1zM302,189h1v1h-1zM315,189h1v1h-1zM373,189h1v1h-1zM390,189h1v1h-1zM407,189h2v1h-2zM1210,189h1v1h-1zM1229,189h1v1h-1zM33,190h1v1h-1zM66,190h1v1h-1zM112,190h1v1h-1zM266,190h1v1h-1zM302,190h1v1h-1zM315,190h1v1h-1zM374,190h1v1h-1zM390,190h1v1h-1zM409,190h1v1h-1zM1210,190h1v1h-1zM1229,190h1v1h-1zM34,191h1v1h-1zM65,191h1v1h-1zM113,191h1v1h-1zM266,191h1v1h-1zM303,191h1v1h-1zM315,191h1v1h-1zM374,191h1v1h-1zM389,191h1v1h-1zM410,191h1v1h-1zM1210,191h1v1h-1zM1229,191h1v1h-1zM34,192h1v1h-1zM64,192h1v1h-1zM113,192h1v1h-1zM266,192h1v1h-1zM303,192h1v1h-1zM315,192h1v1h-1zM375,192h1v1h-1zM387,192h2v1h-2zM410,192h1v1h-1zM1210,192h1v1h-1zM1229,192h1v1h-1zM35,193h1v1h-1zM63,193h1v1h-1zM114,193h1v1h-1zM266,193h1v1h-1zM303,193h1v1h-1zM314,193h1v1h-1zM375,193h1v1h-1zM386,193h1v1h-1zM411,193h1v1h-1zM1210,193h1v1h-1zM1229,193h1v1h-1zM35,194h1v1h-1zM62,194h1v1h-1zM115,194h1v1h-1zM265,194h1v1h-1zM304,194h1v1h-1zM314,194h1v1h-1zM376,194h1v1h-1zM385,194h1v1h-1zM412,194h1v1h-1zM1209,194h1v1h-1zM1229,194h1v1h-1zM36,195h1v1h-1zM61,195h1v1h-1zM115,195h1v1h-1zM265,195h1v1h-1zM304,195h1v1h-1zM314,195h1v1h-1zM376,195h1v1h-1zM384,195h1v1h-1zM412,195h1v1h-1zM1209,195h1v1h-1zM1229,195h1v1h-1zM36,196h1v1h-1zM61,196h1v1h-1zM116,196h1v1h-1zM265,196h1v1h-1zM304,196h1v1h-1zM313,196h1v1h-1zM377,196h1v1h-1zM383,196h1v1h-1zM413,196h1v1h-1zM1209,196h1v1h-1zM1230,196h1v1h-1zM37,197h1v1h-1zM60,197h1v1h-1zM117,197h1v1h-1zM181,197h5v1h-5zM265,197h1v1h-1zM305,197h1v1h-1zM313,197h1v1h-1zM377,197h1v1h-1zM383,197h1v1h-1zM414,197h1v1h-1zM1209,197h1v1h-1zM1230,197h1v1h-1zM38,198h1v1h-1zM60,198h1v1h-1zM117,198h1v1h-1zM180,198h1v1h-1zM186,198h1v1h-1zM264,198h1v1h-1zM305,198h1v1h-1zM313,198h1v1h-1zM378,198h2v1h-2zM382,198h1v1h-1zM415,198h1v1h-1zM1209,198h1v1h-1zM1230,198h1v1h-1zM38,199h1v1h-1zM59,199h1v1h-1zM118,199h1v1h-1zM180,199h1v1h-1zM187,199h2v1h-2zM264,199h1v1h-1zM306,199h1v1h-1zM312,199h1v1h-1zM380,199h2v1h-2zM416,199h1v1h-1zM1209,199h1v1h-1zM1230,199h1v1h-1zM39,200h1v1h-1zM59,200h1v1h-1zM118,200h1v1h-1zM179,200h1v1h-1zM189,200h1v1h-1zM264,200h1v1h-1zM306,200h1v1h-1zM312,200h1v1h-1zM417,200h5v1h-5zM1208,200h1v1h-1zM1230,200h1v1h-1zM39,201h1v1h-1zM58,201h1v1h-1zM119,201h1v1h-1zM178,201h1v1h-1zM190,201h1v1h-1zM264,201h1v1h-1zM307,201h1v1h-1zM311,201h1v1h-1zM421,201h1v1h-1zM1208,201h1v1h-1zM1230,201h1v1h-1zM40,202h1v1h-1zM58,202h1v1h-1zM119,202h1v1h-1zM178,202h1v1h-1zM190,202h1v1h-1zM263,202h1v1h-1zM307,202h1v1h-1zM311,202h1v1h-1zM422,202h1v1h-1zM1208,202h1v1h-1zM1230,202h1v1h-1zM40,203h1v1h-1zM43,203h3v1h-3zM55,203h3v1h-3zM119,203h1v1h-1zM177,203h1v1h-1zM191,203h1v1h-1zM263,203h1v1h-1zM308,203h1v1h-1zM310,203h1v1h-1zM422,203h1v1h-1zM491,203h3v1h-3zM1208,203h1v1h-1zM1230,203h1v1h-1zM41,204h2v1h-2zM46,204h2v1h-2zM51,204h4v1h-4zM120,204h1v1h-1zM175,204h2v1h-2zM192,204h1v1h-1zM263,204h1v1h-1zM308,204h1v1h-1zM310,204h1v1h-1zM423,204h1v1h-1zM487,204h4v1h-4zM494,204h1v1h-1zM1208,204h1v1h-1zM1230,204h1v1h-1zM48,205h3v1h-3zM120,205h1v1h-1zM174,205h1v1h-1zM192,205h1v1h-1zM263,205h1v1h-1zM309,205h1v1h-1zM423,205h1v1h-1zM485,205h2v1h-2zM494,205h1v1h-1zM1207,205h1v1h-1zM1230,205h1v1h-1zM121,206h1v1h-1zM173,206h1v1h-1zM193,206h1v1h-1zM262,206h1v1h-1zM424,206h1v1h-1zM485,206h1v1h-1zM495,206h1v1h-1zM1207,206h1v1h-1zM1231,206h1v1h-1zM121,207h1v1h-1zM172,207h1v1h-1zM194,207h1v1h-1zM262,207h1v1h-1zM424,207h1v1h-1zM484,207h1v1h-1zM496,207h1v1h-1zM1207,207h1v1h-1zM1231,207h1v1h-1zM121,208h1v1h-1zM171,208h1v1h-1zM194,208h1v1h-1zM262,208h1v1h-1zM425,208h1v1h-1zM484,208h1v1h-1zM496,208h1v1h-1zM1207,208h1v1h-1zM1231,208h1v1h-1zM122,209h1v1h-1zM171,209h1v1h-1zM195,209h1v1h-1zM262,209h1v1h-1zM425,209h1v1h-1zM484,209h1v1h-1zM497,209h1v1h-1zM985,209h1v1h-1zM1207,209h1v1h-1zM1231,209h1v1h-1zM122,210h1v1h-1zM153,210h5v1h-5zM170,210h1v1h-1zM195,210h1v1h-1zM261,210h1v1h-1zM425,210h1v1h-1zM483,210h1v1h-1zM498,210h1v1h-1zM984,210h1v1h-1zM986,210h2v1h-2zM1207,210h1v1h-1zM1231,210h1v1h-1zM123,211h1v1h-1zM151,211h2v1h-2zM158,211h1v1h-1zM169,211h1v1h-1zM196,211h1v1h-1zM261,211h1v1h-1zM426,211h1v1h-1zM483,211h1v1h-1zM498,211h1v1h-1zM983,211h1v1h-1zM988,211h2v1h-2zM1206,211h1v1h-1zM1231,211h1v1h-1zM123,212h1v1h-1zM150,212h1v1h-1zM158,212h1v1h-1zM168,212h1v1h-1zM196,212h1v1h-1zM261,212h1v1h-1zM426,212h1v1h-1zM483,212h1v1h-1zM499,212h1v1h-1zM982,212h1v1h-1zM990,212h1v1h-1zM1206,212h1v1h-1zM1231,212h1v1h-1zM124,213h1v1h-1zM149,213h1v1h-1zM159,213h1v1h-1zM167,213h1v1h-1zM197,213h1v1h-1zM260,213h1v1h-1zM427,213h1v1h-1zM483,213h1v1h-1zM499,213h1v1h-1zM981,213h1v1h-1zM991,213h1v1h-1zM1206,213h1v1h-1zM1231,213h1v1h-1zM124,214h1v1h-1zM148,214h1v1h-1zM159,214h1v1h-1zM167,214h1v1h-1zM197,214h1v1h-1zM260,214h1v1h-1zM427,214h1v1h-1zM482,214h1v1h-1zM500,214h1v1h-1zM981,214h1v1h-1zM992,214h1v1h-1zM1206,214h1v1h-1zM1231,214h1v1h-1zM125,215h1v1h-1zM147,215h1v1h-1zM160,215h1v1h-1zM166,215h1v1h-1zM198,215h1v1h-1zM260,215h1v1h-1zM428,215h1v1h-1zM482,215h1v1h-1zM500,215h1v1h-1zM980,215h1v1h-1zM993,215h1v1h-1zM1206,215h1v1h-1zM1232,215h1v1h-1zM125,216h1v1h-1zM146,216h1v1h-1zM160,216h1v1h-1zM164,216h2v1h-2zM198,216h1v1h-1zM259,216h1v1h-1zM428,216h1v1h-1zM482,216h1v1h-1zM501,216h1v1h-1zM980,216h1v1h-1zM994,216h1v1h-1zM1205,216h1v1h-1zM1232,216h1v1h-1zM125,217h1v1h-1zM145,217h1v1h-1zM161,217h3v1h-3zM199,217h1v1h-1zM259,217h1v1h-1zM429,217h1v1h-1zM481,217h1v1h-1zM501,217h1v1h-1zM980,217h1v1h-1zM995,217h2v1h-2zM1205,217h1v1h-1zM1232,217h1v1h-1zM126,218h1v1h-1zM143,218h2v1h-2zM161,218h1v1h-1zM199,218h1v1h-1zM232,218h2v1h-2zM258,218h1v1h-1zM429,218h1v1h-1zM481,218h1v1h-1zM502,218h1v1h-1zM979,218h1v1h-1zM997,218h1v1h-1zM1205,218h1v1h-1zM1232,218h1v1h-1zM126,219h1v1h-1zM142,219h1v1h-1zM200,219h1v1h-1zM230,219h2v1h-2zM234,219h1v1h-1zM258,219h1v1h-1zM430,219h1v1h-1zM481,219h1v1h-1zM502,219h1v1h-1zM979,219h1v1h-1zM997,219h1v1h-1zM1205,219h1v1h-1zM1232,219h1v1h-1zM126,220h1v1h-1zM141,220h1v1h-1zM200,220h1v1h-1zM229,220h1v1h-1zM235,220h1v1h-1zM258,220h1v1h-1zM430,220h1v1h-1zM480,220h1v1h-1zM502,220h1v1h-1zM979,220h1v1h-1zM998,220h1v1h-1zM1205,220h1v1h-1zM1232,220h1v1h-1zM127,221h1v1h-1zM141,221h1v1h-1zM201,221h1v1h-1zM228,221h1v1h-1zM236,221h1v1h-1zM257,221h1v1h-1zM431,221h1v1h-1zM480,221h1v1h-1zM503,221h1v1h-1zM979,221h1v1h-1zM998,221h1v1h-1zM1205,221h1v1h-1zM1232,221h1v1h-1zM127,222h1v1h-1zM140,222h1v1h-1zM201,222h1v1h-1zM227,222h1v1h-1zM237,222h1v1h-1zM257,222h1v1h-1zM431,222h1v1h-1zM479,222h1v1h-1zM503,222h1v1h-1zM978,222h1v1h-1zM999,222h1v1h-1zM1204,222h1v1h-1zM1232,222h1v1h-1zM127,223h1v1h-1zM140,223h1v1h-1zM202,223h1v1h-1zM226,223h1v1h-1zM238,223h1v1h-1zM257,223h1v1h-1zM432,223h1v1h-1zM479,223h1v1h-1zM503,223h1v1h-1zM978,223h1v1h-1zM999,223h1v1h-1zM1204,223h1v1h-1zM1232,223h1v1h-1zM128,224h1v1h-1zM140,224h1v1h-1zM203,224h2v1h-2zM225,224h1v1h-1zM238,224h1v1h-1zM256,224h1v1h-1zM432,224h1v1h-1zM479,224h1v1h-1zM503,224h1v1h-1zM978,224h1v1h-1zM1000,224h1v1h-1zM1204,224h1v1h-1zM1232,224h1v1h-1zM128,225h1v1h-1zM139,225h1v1h-1zM205,225h1v1h-1zM224,225h1v1h-1zM239,225h1v1h-1zM256,225h1v1h-1zM433,225h1v1h-1zM478,225h1v1h-1zM504,225h1v1h-1zM977,225h1v1h-1zM1000,225h1v1h-1zM1204,225h1v1h-1zM1233,225h1v1h-1zM128,226h1v1h-1zM139,226h1v1h-1zM206,226h1v1h-1zM223,226h1v1h-1zM240,226h1v1h-1zM256,226h1v1h-1zM433,226h1v1h-1zM478,226h1v1h-1zM504,226h1v1h-1zM977,226h1v1h-1zM1001,226h1v1h-1zM1204,226h1v1h-1zM1233,226h1v1h-1zM129,227h1v1h-1zM139,227h1v1h-1zM206,227h1v1h-1zM223,227h1v1h-1zM240,227h1v1h-1zM255,227h1v1h-1zM434,227h1v1h-1zM477,227h1v1h-1zM504,227h1v1h-1zM977,227h1v1h-1zM1001,227h1v1h-1zM1204,227h1v1h-1zM1233,227h1v1h-1zM129,228h1v1h-1zM138,228h1v1h-1zM207,228h1v1h-1zM222,228h1v1h-1zM241,228h1v1h-1zM255,228h1v1h-1zM434,228h1v1h-1zM477,228h1v1h-1zM505,228h1v1h-1zM977,228h1v1h-1zM1001,228h1v1h-1zM1204,228h1v1h-1zM1233,228h1v1h-1zM130,229h1v1h-1zM138,229h1v1h-1zM208,229h1v1h-1zM221,229h1v1h-1zM242,229h1v1h-1zM254,229h1v1h-1zM434,229h1v1h-1zM477,229h1v1h-1zM505,229h1v1h-1zM976,229h1v1h-1zM1002,229h1v1h-1zM1204,229h1v1h-1zM1233,229h1v1h-1zM131,230h1v1h-1zM138,230h1v1h-1zM208,230h1v1h-1zM220,230h1v1h-1zM242,230h1v1h-1zM254,230h1v1h-1zM435,230h1v1h-1zM477,230h1v1h-1zM505,230h1v1h-1zM976,230h1v1h-1zM1002,230h1v1h-1zM1203,230h1v1h-1zM1233,230h1v1h-1zM131,231h1v1h-1zM137,231h1v1h-1zM209,231h1v1h-1zM219,231h1v1h-1zM243,231h1v1h-1zM254,231h1v1h-1zM435,231h1v1h-1zM476,231h1v1h-1zM506,231h1v1h-1zM976,231h1v1h-1zM1003,231h1v1h-1zM1203,231h1v1h-1zM1233,231h1v1h-1zM132,232h1v1h-1zM135,232h3v1h-3zM210,232h1v1h-1zM218,232h1v1h-1zM243,232h1v1h-1zM253,232h1v1h-1zM436,232h1v1h-1zM476,232h1v1h-1zM506,232h1v1h-1zM976,232h1v1h-1zM1003,232h1v1h-1zM1203,232h1v1h-1zM1234,232h1v1h-1zM133,233h2v1h-2zM211,233h2v1h-2zM215,233h3v1h-3zM244,233h1v1h-1zM253,233h1v1h-1zM436,233h1v1h-1zM476,233h1v1h-1zM506,233h1v1h-1zM975,233h1v1h-1zM1004,233h1v1h-1zM1203,233h1v1h-1zM1234,233h1v1h-1zM213,234h2v1h-2zM244,234h1v1h-1zM251,234h2v1h-2zM436,234h1v1h-1zM476,234h1v1h-1zM507,234h1v1h-1zM975,234h1v1h-1zM1004,234h1v1h-1zM1203,234h1v1h-1zM1234,234h1v1h-1zM245,235h2v1h-2zM250,235h1v1h-1zM437,235h1v1h-1zM476,235h1v1h-1zM507,235h1v1h-1zM975,235h1v1h-1zM1005,235h1v1h-1zM1203,235h1v1h-1zM1234,235h1v1h-1zM247,236h3v1h-3zM437,236h1v1h-1zM475,236h1v1h-1zM507,236h1v1h-1zM975,236h1v1h-1zM1005,236h1v1h-1zM1203,236h1v1h-1zM1234,236h1v1h-1zM437,237h1v1h-1zM475,237h1v1h-1zM507,237h1v1h-1zM974,237h1v1h-1zM1006,237h1v1h-1zM1202,237h1v1h-1zM1234,237h1v1h-1zM438,238h1v1h-1zM475,238h1v1h-1zM508,238h1v1h-1zM781,238h1v1h-1zM974,238h1v1h-1zM1006,238h1v1h-1zM1202,238h1v1h-1zM1235,238h1v1h-1zM438,239h1v1h-1zM475,239h1v1h-1zM508,239h1v1h-1zM780,239h1v1h-1zM782,239h1v1h-1zM974,239h1v1h-1zM1007,239h1v1h-1zM1202,239h1v1h-1zM1235,239h1v1h-1zM439,240h1v1h-1zM474,240h1v1h-1zM508,240h1v1h-1zM779,240h1v1h-1zM783,240h1v1h-1zM974,240h1v1h-1zM1008,240h1v1h-1zM1202,240h1v1h-1zM1235,240h1v1h-1zM439,241h1v1h-1zM474,241h1v1h-1zM509,241h1v1h-1zM778,241h1v1h-1zM783,241h1v1h-1zM973,241h1v1h-1zM1008,241h1v1h-1zM1202,241h1v1h-1zM1235,241h1v1h-1zM440,242h1v1h-1zM474,242h1v1h-1zM509,242h1v1h-1zM737,242h2v1h-2zM777,242h1v1h-1zM784,242h1v1h-1zM973,242h1v1h-1zM1009,242h1v1h-1zM1202,242h1v1h-1zM1235,242h1v1h-1zM440,243h1v1h-1zM474,243h1v1h-1zM509,243h1v1h-1zM736,243h1v1h-1zM739,243h3v1h-3zM776,243h1v1h-1zM785,243h1v1h-1zM973,243h1v1h-1zM1010,243h1v1h-1zM1202,243h1v1h-1zM1235,243h1v1h-1zM441,244h1v1h-1zM474,244h1v1h-1zM510,244h1v1h-1zM736,244h1v1h-1zM742,244h1v1h-1zM776,244h1v1h-1zM785,244h1v1h-1zM972,244h1v1h-1zM1010,244h1v1h-1zM1202,244h1v1h-1zM1236,244h1v1h-1zM441,245h2v1h-2zM447,245h3v1h-3zM473,245h1v1h-1zM510,245h1v1h-1zM735,245h1v1h-1zM742,245h1v1h-1zM775,245h1v1h-1zM786,245h1v1h-1zM972,245h1v1h-1zM1011,245h1v1h-1zM1201,245h1v1h-1zM1236,245h1v1h-1zM443,246h4v1h-4zM450,246h1v1h-1zM473,246h1v1h-1zM510,246h1v1h-1zM734,246h1v1h-1zM743,246h1v1h-1zM775,246h1v1h-1zM786,246h1v1h-1zM933,246h1v1h-1zM972,246h1v1h-1zM1011,246h1v1h-1zM1201,246h1v1h-1zM1236,246h1v1h-1zM451,247h2v1h-2zM473,247h1v1h-1zM511,247h1v1h-1zM734,247h1v1h-1zM743,247h1v1h-1zM774,247h1v1h-1zM787,247h1v1h-1zM931,247h2v1h-2zM934,247h2v1h-2zM971,247h1v1h-1zM1012,247h1v1h-1zM1201,247h1v1h-1zM1236,247h1v1h-1zM453,248h1v1h-1zM473,248h1v1h-1zM511,248h1v1h-1zM733,248h1v1h-1zM744,248h1v1h-1zM774,248h1v1h-1zM787,248h1v1h-1zM930,248h1v1h-1zM936,248h2v1h-2zM971,248h1v1h-1zM1012,248h1v1h-1zM1033,248h1v1h-1zM1201,248h1v1h-1zM1236,248h1v1h-1zM454,249h1v1h-1zM472,249h1v1h-1zM511,249h1v1h-1zM733,249h1v1h-1zM744,249h1v1h-1zM773,249h1v1h-1zM788,249h1v1h-1zM929,249h1v1h-1zM938,249h1v1h-1zM970,249h1v1h-1zM1013,249h1v1h-1zM1031,249h2v1h-2zM1034,249h1v1h-1zM1201,249h1v1h-1zM1236,249h1v1h-1zM454,250h1v1h-1zM472,250h1v1h-1zM512,250h1v1h-1zM732,250h1v1h-1zM745,250h1v1h-1zM773,250h1v1h-1zM788,250h1v1h-1zM929,250h1v1h-1zM939,250h1v1h-1zM970,250h1v1h-1zM1014,250h1v1h-1zM1030,250h1v1h-1zM1035,250h2v1h-2zM1201,250h1v1h-1zM1237,250h1v1h-1zM455,251h1v1h-1zM471,251h1v1h-1zM512,251h1v1h-1zM732,251h1v1h-1zM745,251h1v1h-1zM772,251h1v1h-1zM789,251h1v1h-1zM928,251h1v1h-1zM940,251h1v1h-1zM970,251h1v1h-1zM1014,251h1v1h-1zM1029,251h1v1h-1zM1037,251h1v1h-1zM1200,251h1v1h-1zM1237,251h1v1h-1zM456,252h1v1h-1zM471,252h1v1h-1zM512,252h1v1h-1zM732,252h1v1h-1zM746,252h1v1h-1zM772,252h1v1h-1zM789,252h1v1h-1zM928,252h1v1h-1zM941,252h1v1h-1zM969,252h1v1h-1zM1015,252h1v1h-1zM1028,252h1v1h-1zM1038,252h1v1h-1zM1200,252h1v1h-1zM1237,252h1v1h-1zM456,253h1v1h-1zM470,253h1v1h-1zM513,253h1v1h-1zM731,253h1v1h-1zM746,253h1v1h-1zM771,253h1v1h-1zM789,253h1v1h-1zM927,253h1v1h-1zM942,253h1v1h-1zM969,253h1v1h-1zM1015,253h1v1h-1zM1027,253h1v1h-1zM1039,253h1v1h-1zM1200,253h1v1h-1zM1237,253h1v1h-1zM457,254h1v1h-1zM470,254h1v1h-1zM513,254h1v1h-1zM731,254h1v1h-1zM747,254h1v1h-1zM771,254h1v1h-1zM790,254h1v1h-1zM927,254h1v1h-1zM942,254h1v1h-1zM969,254h1v1h-1zM1016,254h1v1h-1zM1027,254h1v1h-1zM1039,254h1v1h-1zM1200,254h1v1h-1zM1237,254h1v1h-1zM458,255h2v1h-2zM469,255h1v1h-1zM513,255h1v1h-1zM731,255h1v1h-1zM747,255h1v1h-1zM771,255h1v1h-1zM790,255h1v1h-1zM926,255h1v1h-1zM943,255h1v1h-1zM968,255h1v1h-1zM1016,255h1v1h-1zM1026,255h1v1h-1zM1040,255h1v1h-1zM1200,255h1v1h-1zM1237,255h1v1h-1zM460,256h2v1h-2zM468,256h1v1h-1zM514,256h1v1h-1zM730,256h1v1h-1zM748,256h1v1h-1zM770,256h1v1h-1zM790,256h1v1h-1zM926,256h1v1h-1zM943,256h1v1h-1zM968,256h1v1h-1zM1017,256h9v1h-9zM1041,256h1v1h-1zM1200,256h1v1h-1zM1237,256h1v1h-1zM462,257h1v1h-1zM467,257h1v1h-1zM514,257h1v1h-1zM730,257h1v1h-1zM748,257h1v1h-1zM770,257h1v1h-1zM791,257h1v1h-1zM925,257h1v1h-1zM944,257h1v1h-1zM968,257h1v1h-1zM1042,257h1v1h-1zM1199,257h1v1h-1zM1238,257h1v1h-1zM463,258h1v1h-1zM467,258h1v1h-1zM515,258h1v1h-1zM541,258h2v1h-2zM730,258h1v1h-1zM749,258h1v1h-1zM769,258h1v1h-1zM791,258h1v1h-1zM924,258h1v1h-1zM944,258h1v1h-1zM967,258h1v1h-1zM1043,258h1v1h-1zM1199,258h1v1h-1zM1238,258h1v1h-1zM464,259h1v1h-1zM466,259h1v1h-1zM515,259h1v1h-1zM539,259h2v1h-2zM543,259h7v1h-7zM729,259h1v1h-1zM749,259h1v1h-1zM769,259h1v1h-1zM791,259h1v1h-1zM923,259h1v1h-1zM945,259h1v1h-1zM967,259h1v1h-1zM1044,259h1v1h-1zM1199,259h1v1h-1zM1238,259h1v1h-1zM465,260h1v1h-1zM515,260h1v1h-1zM538,260h1v1h-1zM549,260h1v1h-1zM729,260h1v1h-1zM750,260h1v1h-1zM769,260h1v1h-1zM791,260h1v1h-1zM923,260h1v1h-1zM945,260h1v1h-1zM966,260h1v1h-1zM1045,260h1v1h-1zM1199,260h1v1h-1zM1238,260h1v1h-1zM516,261h1v1h-1zM537,261h1v1h-1zM550,261h1v1h-1zM729,261h1v1h-1zM750,261h1v1h-1zM768,261h1v1h-1zM792,261h1v1h-1zM922,261h1v1h-1zM946,261h1v1h-1zM966,261h1v1h-1zM1046,261h1v1h-1zM1199,261h1v1h-1zM1238,261h1v1h-1zM516,262h1v1h-1zM536,262h1v1h-1zM550,262h1v1h-1zM728,262h1v1h-1zM751,262h1v1h-1zM768,262h1v1h-1zM792,262h1v1h-1zM921,262h1v1h-1zM946,262h1v1h-1zM966,262h1v1h-1zM1046,262h1v1h-1zM1198,262h1v1h-1zM1238,262h1v1h-1zM517,263h1v1h-1zM535,263h1v1h-1zM551,263h1v1h-1zM728,263h1v1h-1zM751,263h1v1h-1zM767,263h1v1h-1zM792,263h1v1h-1zM920,263h1v1h-1zM947,263h1v1h-1zM965,263h1v1h-1zM1047,263h1v1h-1zM1198,263h1v1h-1zM1238,263h1v1h-1zM517,264h1v1h-1zM534,264h1v1h-1zM551,264h1v1h-1zM728,264h1v1h-1zM752,264h1v1h-1zM767,264h1v1h-1zM793,264h1v1h-1zM919,264h1v1h-1zM947,264h1v1h-1zM965,264h1v1h-1zM1048,264h1v1h-1zM1198,264h1v1h-1zM1238,264h1v1h-1zM518,265h1v1h-1zM533,265h1v1h-1zM551,265h1v1h-1zM728,265h1v1h-1zM752,265h1v1h-1zM766,265h1v1h-1zM793,265h1v1h-1zM919,265h1v1h-1zM948,265h1v1h-1zM965,265h1v1h-1zM1048,265h1v1h-1zM1198,265h1v1h-1zM1239,265h1v1h-1zM518,266h1v1h-1zM532,266h1v1h-1zM552,266h1v1h-1zM727,266h1v1h-1zM753,266h1v1h-1zM766,266h1v1h-1zM793,266h1v1h-1zM918,266h1v1h-1zM948,266h1v1h-1zM964,266h1v1h-1zM1049,266h1v1h-1zM1198,266h1v1h-1zM1239,266h1v1h-1zM519,267h1v1h-1zM532,267h1v1h-1zM552,267h1v1h-1zM727,267h1v1h-1zM754,267h1v1h-1zM765,267h1v1h-1zM794,267h1v1h-1zM917,267h1v1h-1zM949,267h1v1h-1zM964,267h1v1h-1zM1050,267h1v1h-1zM1198,267h1v1h-1zM1239,267h1v1h-1zM520,268h1v1h-1zM531,268h1v1h-1zM553,268h1v1h-1zM727,268h1v1h-1zM755,268h1v1h-1zM765,268h1v1h-1zM794,268h1v1h-1zM917,268h1v1h-1zM949,268h1v1h-1zM963,268h1v1h-1zM1050,268h1v1h-1zM1197,268h1v1h-1zM1239,268h1v1h-1zM520,269h1v1h-1zM530,269h1v1h-1zM553,269h1v1h-1zM727,269h1v1h-1zM755,269h1v1h-1zM763,269h2v1h-2zM794,269h1v1h-1zM916,269h1v1h-1zM950,269h1v1h-1zM963,269h1v1h-1zM1051,269h1v1h-1zM1197,269h1v1h-1zM1239,269h1v1h-1zM521,270h2v1h-2zM530,270h1v1h-1zM553,270h1v1h-1zM726,270h1v1h-1zM756,270h1v1h-1zM762,270h1v1h-1zM794,270h1v1h-1zM916,270h1v1h-1zM951,270h1v1h-1zM963,270h1v1h-1zM1051,270h1v1h-1zM1197,270h1v1h-1zM1239,270h1v1h-1zM523,271h7v1h-7zM554,271h1v1h-1zM726,271h1v1h-1zM757,271h5v1h-5zM795,271h1v1h-1zM915,271h1v1h-1zM952,271h1v1h-1zM962,271h1v1h-1zM1052,271h1v1h-1zM1197,271h1v1h-1zM1239,271h1v1h-1zM554,272h1v1h-1zM726,272h1v1h-1zM795,272h1v1h-1zM915,272h1v1h-1zM953,272h1v1h-1zM962,272h1v1h-1zM1052,272h1v1h-1zM1197,272h1v1h-1zM1239,272h1v1h-1zM554,273h1v1h-1zM726,273h1v1h-1zM795,273h1v1h-1zM914,273h1v1h-1zM954,273h1v1h-1zM961,273h1v1h-1zM1053,273h1v1h-1zM1196,273h1v1h-1zM1239,273h1v1h-1zM554,274h1v1h-1zM725,274h1v1h-1zM795,274h1v1h-1zM914,274h1v1h-1zM955,274h1v1h-1zM960,274h2v1h-2zM1054,274h1v1h-1zM1196,274h1v1h-1zM1240,274h1v1h-1zM555,275h1v1h-1zM725,275h1v1h-1zM796,275h1v1h-1zM913,275h1v1h-1zM956,275h1v1h-1zM958,275h2v1h-2zM1054,275h1v1h-1zM1196,275h1v1h-1zM1240,275h1v1h-1zM555,276h1v1h-1zM725,276h1v1h-1zM796,276h1v1h-1zM913,276h1v1h-1zM957,276h1v1h-1zM1055,276h1v1h-1zM1196,276h1v1h-1zM1240,276h1v1h-1zM555,277h1v1h-1zM724,277h1v1h-1zM796,277h1v1h-1zM913,277h1v1h-1zM1056,277h1v1h-1zM1195,277h1v1h-1zM1240,277h1v1h-1zM555,278h1v1h-1zM724,278h1v1h-1zM796,278h1v1h-1zM912,278h1v1h-1zM1056,278h1v1h-1zM1195,278h1v1h-1zM1240,278h1v1h-1zM556,279h1v1h-1zM724,279h1v1h-1zM797,279h1v1h-1zM912,279h1v1h-1zM1057,279h1v1h-1zM1195,279h1v1h-1zM1240,279h1v1h-1zM556,280h1v1h-1zM723,280h1v1h-1zM797,280h1v1h-1zM893,280h1v1h-1zM911,280h1v1h-1zM1058,280h1v1h-1zM1195,280h1v1h-1zM1240,280h1v1h-1zM556,281h1v1h-1zM723,281h1v1h-1zM797,281h1v1h-1zM891,281h2v1h-2zM894,281h2v1h-2zM911,281h1v1h-1zM1058,281h1v1h-1zM1194,281h1v1h-1zM1240,281h1v1h-1zM556,282h1v1h-1zM723,282h1v1h-1zM797,282h1v1h-1zM841,282h1v1h-1zM890,282h1v1h-1zM896,282h3v1h-3zM910,282h1v1h-1zM1059,282h1v1h-1zM1194,282h1v1h-1zM1241,282h1v1h-1zM557,283h1v1h-1zM722,283h1v1h-1zM798,283h1v1h-1zM839,283h2v1h-2zM842,283h2v1h-2zM889,283h1v1h-1zM899,283h8v1h-8zM910,283h1v1h-1zM1059,283h1v1h-1zM1194,283h1v1h-1zM1241,283h1v1h-1zM557,284h1v1h-1zM722,284h1v1h-1zM798,284h1v1h-1zM838,284h1v1h-1zM844,284h2v1h-2zM888,284h1v1h-1zM907,284h3v1h-3zM1060,284h1v1h-1zM1194,284h1v1h-1zM1241,284h1v1h-1zM557,285h1v1h-1zM722,285h1v1h-1zM798,285h1v1h-1zM837,285h1v1h-1zM846,285h1v1h-1zM888,285h1v1h-1zM1060,285h1v1h-1zM1193,285h1v1h-1zM1241,285h1v1h-1zM557,286h1v1h-1zM721,286h1v1h-1zM798,286h1v1h-1zM836,286h1v1h-1zM846,286h1v1h-1zM887,286h1v1h-1zM1061,286h1v1h-1zM1193,286h1v1h-1zM1241,286h1v1h-1zM558,287h1v1h-1zM721,287h1v1h-1zM799,287h1v1h-1zM836,287h1v1h-1zM847,287h1v1h-1zM887,287h1v1h-1zM1062,287h1v1h-1zM1193,287h1v1h-1zM1241,287h1v1h-1zM558,288h1v1h-1zM721,288h1v1h-1zM799,288h1v1h-1zM835,288h1v1h-1zM847,288h1v1h-1zM886,288h1v1h-1zM1062,288h1v1h-1zM1193,288h1v1h-1zM1241,288h1v1h-1zM558,289h1v1h-1zM720,289h1v1h-1zM799,289h1v1h-1zM835,289h1v1h-1zM848,289h1v1h-1zM886,289h1v1h-1zM1063,289h1v1h-1zM1097,289h1v1h-1zM1193,289h1v1h-1zM1241,289h1v1h-1zM558,290h1v1h-1zM617,290h1v1h-1zM720,290h1v1h-1zM799,290h1v1h-1zM834,290h1v1h-1zM848,290h1v1h-1zM885,290h1v1h-1zM1064,290h1v1h-1zM1096,290h1v1h-1zM1098,290h1v1h-1zM1193,290h1v1h-1zM1242,290h1v1h-1zM559,291h1v1h-1zM616,291h1v1h-1zM618,291h2v1h-2zM719,291h1v1h-1zM800,291h1v1h-1zM834,291h1v1h-1zM849,291h1v1h-1zM885,291h1v1h-1zM1064,291h1v1h-1zM1095,291h1v1h-1zM1099,291h2v1h-2zM1193,291h1v1h-1zM1242,291h1v1h-1zM559,292h1v1h-1zM616,292h1v1h-1zM620,292h2v1h-2zM719,292h1v1h-1zM800,292h1v1h-1zM833,292h1v1h-1zM850,292h1v1h-1zM884,292h1v1h-1zM1065,292h1v1h-1zM1094,292h1v1h-1zM1101,292h1v1h-1zM1192,292h1v1h-1zM1242,292h1v1h-1zM559,293h1v1h-1zM607,293h3v1h-3zM615,293h1v1h-1zM622,293h1v1h-1zM719,293h1v1h-1zM800,293h1v1h-1zM832,293h1v1h-1zM850,293h1v1h-1zM884,293h1v1h-1zM1065,293h1v1h-1zM1093,293h1v1h-1zM1101,293h1v1h-1zM1192,293h1v1h-1zM1242,293h1v1h-1zM559,294h1v1h-1zM605,294h2v1h-2zM610,294h1v1h-1zM615,294h1v1h-1zM623,294h2v1h-2zM718,294h1v1h-1zM800,294h1v1h-1zM832,294h1v1h-1zM851,294h1v1h-1zM883,294h1v1h-1zM1066,294h1v1h-1zM1092,294h1v1h-1zM1102,294h1v1h-1zM1192,294h1v1h-1zM1242,294h1v1h-1zM560,295h1v1h-1zM604,295h1v1h-1zM611,295h1v1h-1zM614,295h1v1h-1zM625,295h1v1h-1zM718,295h1v1h-1zM801,295h1v1h-1zM831,295h1v1h-1zM851,295h1v1h-1zM883,295h1v1h-1zM1066,295h1v1h-1zM1092,295h1v1h-1zM1102,295h1v1h-1zM1192,295h1v1h-1zM1242,295h1v1h-1zM560,296h1v1h-1zM603,296h1v1h-1zM612,296h1v1h-1zM614,296h1v1h-1zM626,296h1v1h-1zM717,296h1v1h-1zM801,296h1v1h-1zM831,296h1v1h-1zM852,296h1v1h-1zM882,296h1v1h-1zM1067,296h1v1h-1zM1091,296h1v1h-1zM1102,296h1v1h-1zM1192,296h1v1h-1zM1242,296h1v1h-1zM560,297h1v1h-1zM603,297h1v1h-1zM613,297h1v1h-1zM626,297h1v1h-1zM717,297h1v1h-1zM802,297h1v1h-1zM830,297h1v1h-1zM852,297h1v1h-1zM882,297h1v1h-1zM1067,297h1v1h-1zM1090,297h1v1h-1zM1103,297h1v1h-1zM1192,297h1v1h-1zM1243,297h1v1h-1zM560,298h1v1h-1zM602,298h1v1h-1zM627,298h1v1h-1zM716,298h1v1h-1zM803,298h1v1h-1zM830,298h1v1h-1zM853,298h1v1h-1zM881,298h1v1h-1zM1068,298h1v1h-1zM1090,298h1v1h-1zM1103,298h1v1h-1zM1192,298h1v1h-1zM1243,298h1v1h-1zM561,299h1v1h-1zM591,299h3v1h-3zM601,299h1v1h-1zM628,299h1v1h-1zM716,299h1v1h-1zM804,299h1v1h-1zM829,299h1v1h-1zM854,299h1v1h-1zM881,299h1v1h-1zM1068,299h1v1h-1zM1089,299h1v1h-1zM1103,299h1v1h-1zM1192,299h1v1h-1zM1243,299h1v1h-1zM561,300h1v1h-1zM589,300h2v1h-2zM594,300h1v1h-1zM600,300h1v1h-1zM628,300h1v1h-1zM631,300h3v1h-3zM715,300h1v1h-1zM805,300h1v1h-1zM828,300h1v1h-1zM854,300h1v1h-1zM881,300h1v1h-1zM1069,300h1v1h-1zM1089,300h1v1h-1zM1104,300h1v1h-1zM1191,300h1v1h-1zM1243,300h1v1h-1zM561,301h1v1h-1zM589,301h1v1h-1zM595,301h1v1h-1zM599,301h1v1h-1zM629,301h2v1h-2zM633,301h1v1h-1zM715,301h1v1h-1zM806,301h1v1h-1zM828,301h1v1h-1zM855,301h1v1h-1zM880,301h1v1h-1zM1069,301h1v1h-1zM1088,301h1v1h-1zM1104,301h1v1h-1zM1191,301h1v1h-1zM1243,301h1v1h-1zM562,302h1v1h-1zM588,302h1v1h-1zM596,302h1v1h-1zM598,302h1v1h-1zM634,302h1v1h-1zM714,302h1v1h-1zM806,302h1v1h-1zM827,302h1v1h-1zM856,302h1v1h-1zM880,302h1v1h-1zM1070,302h1v1h-1zM1088,302h1v1h-1zM1104,302h1v1h-1zM1191,302h1v1h-1zM1243,302h1v1h-1zM562,303h1v1h-1zM588,303h1v1h-1zM597,303h1v1h-1zM634,303h1v1h-1zM714,303h1v1h-1zM807,303h1v1h-1zM827,303h1v1h-1zM856,303h1v1h-1zM879,303h1v1h-1zM1070,303h1v1h-1zM1087,303h1v1h-1zM1105,303h1v1h-1zM1191,303h1v1h-1zM1244,303h1v1h-1zM562,304h1v1h-1zM587,304h1v1h-1zM635,304h1v1h-1zM713,304h1v1h-1zM807,304h1v1h-1zM826,304h1v1h-1zM857,304h1v1h-1zM879,304h1v1h-1zM1071,304h1v1h-1zM1087,304h1v1h-1zM1105,304h1v1h-1zM1191,304h1v1h-1zM1244,304h1v1h-1zM562,305h1v1h-1zM587,305h1v1h-1zM635,305h1v1h-1zM712,305h1v1h-1zM808,305h1v1h-1zM826,305h1v1h-1zM858,305h1v1h-1zM878,305h1v1h-1zM1071,305h1v1h-1zM1086,305h1v1h-1zM1105,305h1v1h-1zM1191,305h1v1h-1zM1244,305h1v1h-1zM563,306h1v1h-1zM587,306h1v1h-1zM636,306h1v1h-1zM712,306h1v1h-1zM808,306h1v1h-1zM825,306h1v1h-1zM858,306h1v1h-1zM878,306h1v1h-1zM1072,306h1v1h-1zM1086,306h1v1h-1zM1106,306h1v1h-1zM1191,306h1v1h-1zM1244,306h1v1h-1zM563,307h1v1h-1zM586,307h1v1h-1zM636,307h1v1h-1zM711,307h1v1h-1zM809,307h1v1h-1zM823,307h2v1h-2zM859,307h1v1h-1zM877,307h1v1h-1zM1072,307h1v1h-1zM1085,307h1v1h-1zM1106,307h1v1h-1zM1191,307h1v1h-1zM1244,307h1v1h-1zM563,308h1v1h-1zM586,308h1v1h-1zM637,308h1v1h-1zM710,308h1v1h-1zM810,308h1v1h-1zM822,308h1v1h-1zM859,308h1v1h-1zM877,308h1v1h-1zM1073,308h1v1h-1zM1084,308h1v1h-1zM1106,308h1v1h-1zM1190,308h1v1h-1zM1244,308h1v1h-1zM564,309h1v1h-1zM585,309h1v1h-1zM637,309h1v1h-1zM710,309h1v1h-1zM811,309h2v1h-2zM821,309h1v1h-1zM860,309h1v1h-1zM876,309h1v1h-1zM1073,309h1v1h-1zM1084,309h1v1h-1zM1106,309h1v1h-1zM1190,309h1v1h-1zM1244,309h1v1h-1zM564,310h1v1h-1zM585,310h1v1h-1zM638,310h1v1h-1zM709,310h1v1h-1zM813,310h1v1h-1zM819,310h2v1h-2zM860,310h1v1h-1zM876,310h1v1h-1zM1074,310h1v1h-1zM1083,310h1v1h-1zM1107,310h1v1h-1zM1190,310h1v1h-1zM1245,310h1v1h-1zM564,311h1v1h-1zM584,311h1v1h-1zM639,311h1v1h-1zM709,311h1v1h-1zM814,311h2v1h-2zM818,311h1v1h-1zM861,311h1v1h-1zM875,311h1v1h-1zM1075,311h1v1h-1zM1082,311h1v1h-1zM1107,311h1v1h-1zM1190,311h1v1h-1zM1245,311h1v1h-1zM564,312h1v1h-1zM584,312h1v1h-1zM639,312h1v1h-1zM708,312h1v1h-1zM816,312h2v1h-2zM861,312h1v1h-1zM875,312h1v1h-1zM1075,312h1v1h-1zM1082,312h1v1h-1zM1107,312h1v1h-1zM1190,312h1v1h-1zM1245,312h1v1h-1zM565,313h1v1h-1zM583,313h1v1h-1zM640,313h1v1h-1zM708,313h1v1h-1zM862,313h1v1h-1zM874,313h1v1h-1zM1076,313h1v1h-1zM1079,313h3v1h-3zM1108,313h1v1h-1zM1190,313h1v1h-1zM1245,313h1v1h-1zM565,314h1v1h-1zM583,314h1v1h-1zM641,314h1v1h-1zM707,314h1v1h-1zM863,314h1v1h-1zM874,314h1v1h-1zM1077,314h2v1h-2zM1108,314h1v1h-1zM1190,314h1v1h-1zM1245,314h1v1h-1zM565,315h1v1h-1zM582,315h1v1h-1zM641,315h1v1h-1zM707,315h1v1h-1zM864,315h1v1h-1zM871,315h3v1h-3zM1108,315h1v1h-1zM1190,315h1v1h-1zM1245,315h1v1h-1zM566,316h1v1h-1zM582,316h1v1h-1zM642,316h1v1h-1zM706,316h1v1h-1zM865,316h6v1h-6zM1108,316h1v1h-1zM1189,316h1v1h-1zM1245,316h1v1h-1zM566,317h1v1h-1zM581,317h1v1h-1zM642,317h1v1h-1zM706,317h1v1h-1zM1109,317h1v1h-1zM1189,317h1v1h-1zM1245,317h1v1h-1zM566,318h1v1h-1zM581,318h1v1h-1zM642,318h1v1h-1zM705,318h1v1h-1zM1109,318h1v1h-1zM1189,318h1v1h-1zM1246,318h1v1h-1zM567,319h1v1h-1zM580,319h1v1h-1zM643,319h1v1h-1zM705,319h1v1h-1zM1109,319h1v1h-1zM1189,319h1v1h-1zM1246,319h1v1h-1zM567,320h1v1h-1zM580,320h1v1h-1zM643,320h1v1h-1zM704,320h1v1h-1zM1110,320h1v1h-1zM1189,320h1v1h-1zM1246,320h1v1h-1zM567,321h1v1h-1zM579,321h1v1h-1zM644,321h1v1h-1zM704,321h1v1h-1zM1110,321h1v1h-1zM1189,321h1v1h-1zM1246,321h1v1h-1zM567,322h1v1h-1zM579,322h1v1h-1zM644,322h1v1h-1zM703,322h1v1h-1zM1110,322h1v1h-1zM1189,322h1v1h-1zM1246,322h1v1h-1zM568,323h1v1h-1zM578,323h1v1h-1zM644,323h1v1h-1zM702,323h1v1h-1zM1111,323h1v1h-1zM1189,323h1v1h-1zM1246,323h1v1h-1zM568,324h1v1h-1zM578,324h1v1h-1zM645,324h1v1h-1zM702,324h1v1h-1zM1111,324h1v1h-1zM1188,324h1v1h-1zM1246,324h1v1h-1zM568,325h1v1h-1zM577,325h1v1h-1zM645,325h1v1h-1zM701,325h1v1h-1zM1112,325h1v1h-1zM1188,325h1v1h-1zM1246,325h1v1h-1zM569,326h1v1h-1zM576,326h1v1h-1zM646,326h1v1h-1zM700,326h1v1h-1zM1112,326h1v1h-1zM1188,326h1v1h-1zM1246,326h1v1h-1zM569,327h1v1h-1zM575,327h1v1h-1zM646,327h1v1h-1zM700,327h1v1h-1zM1112,327h1v1h-1zM1188,327h1v1h-1zM1246,327h1v1h-1zM570,328h1v1h-1zM575,328h1v1h-1zM647,328h1v1h-1zM699,328h1v1h-1zM1113,328h1v1h-1zM1188,328h1v1h-1zM1247,328h1v1h-1zM571,329h2v1h-2zM574,329h1v1h-1zM647,329h1v1h-1zM698,329h1v1h-1zM1113,329h1v1h-1zM1188,329h1v1h-1zM1247,329h1v1h-1zM573,330h1v1h-1zM648,330h1v1h-1zM698,330h1v1h-1zM1113,330h1v1h-1zM1188,330h1v1h-1zM1247,330h1v1h-1zM648,331h1v1h-1zM697,331h1v1h-1zM1114,331h1v1h-1zM1188,331h1v1h-1zM1247,331h1v1h-1zM649,332h1v1h-1zM696,332h1v1h-1zM1114,332h1v1h-1zM1187,332h1v1h-1zM1247,332h1v1h-1zM650,333h1v1h-1zM696,333h1v1h-1zM1114,333h1v1h-1zM1187,333h1v1h-1zM1247,333h1v1h-1zM650,334h1v1h-1zM695,334h1v1h-1zM1115,334h1v1h-1zM1187,334h1v1h-1zM1247,334h1v1h-1zM651,335h1v1h-1zM685,335h5v1h-5zM694,335h1v1h-1zM1115,335h1v1h-1zM1187,335h1v1h-1zM1247,335h1v1h-1zM651,336h1v1h-1zM684,336h1v1h-1zM690,336h2v1h-2zM694,336h1v1h-1zM1115,336h1v1h-1zM1187,336h1v1h-1zM1247,336h1v1h-1zM652,337h1v1h-1zM684,337h1v1h-1zM692,337h2v1h-2zM1115,337h1v1h-1zM1187,337h1v1h-1zM1247,337h1v1h-1zM652,338h1v1h-1zM683,338h1v1h-1zM1116,338h1v1h-1zM1187,338h1v1h-1zM1248,338h1v1h-1zM653,339h1v1h-1zM682,339h1v1h-1zM1116,339h1v1h-1zM1186,339h1v1h-1zM1248,339h1v1h-1zM653,340h1v1h-1zM682,340h1v1h-1zM1116,340h1v1h-1zM1186,340h1v1h-1zM1248,340h1v1h-1zM654,341h1v1h-1zM681,341h1v1h-1zM1117,341h1v1h-1zM1186,341h1v1h-1zM1248,341h1v1h-1zM654,342h1v1h-1zM681,342h1v1h-1zM1117,342h1v1h-1zM1186,342h1v1h-1zM1248,342h1v1h-1zM655,343h1v1h-1zM680,343h1v1h-1zM1117,343h1v1h-1zM1186,343h1v1h-1zM1248,343h1v1h-1zM656,344h1v1h-1zM680,344h1v1h-1zM1118,344h1v1h-1zM1186,344h1v1h-1zM1248,344h1v1h-1zM656,345h1v1h-1zM679,345h1v1h-1zM1118,345h1v1h-1zM1186,345h1v1h-1zM1248,345h1v1h-1zM657,346h1v1h-1zM679,346h1v1h-1zM1119,346h1v1h-1zM1186,346h1v1h-1zM1248,346h1v1h-1zM657,347h1v1h-1zM678,347h1v1h-1zM1119,347h1v1h-1zM1185,347h1v1h-1zM1248,347h1v1h-1zM658,348h1v1h-1zM678,348h1v1h-1zM1120,348h1v1h-1zM1185,348h1v1h-1zM1249,348h1v1h-1zM658,349h1v1h-1zM677,349h1v1h-1zM1120,349h1v1h-1zM1185,349h1v1h-1zM1249,349h1v1h-1zM658,350h1v1h-1zM677,350h1v1h-1zM1121,350h1v1h-1zM1185,350h1v1h-1zM1249,350h1v1h-1zM659,351h1v1h-1zM675,351h2v1h-2zM1121,351h1v1h-1zM1185,351h1v1h-1zM1249,351h1v1h-1zM659,352h1v1h-1zM674,352h1v1h-1zM1121,352h1v1h-1zM1185,352h1v1h-1zM1249,352h1v1h-1zM660,353h1v1h-1zM673,353h1v1h-1zM1122,353h1v1h-1zM1184,353h1v1h-1zM1249,353h1v1h-1zM660,354h1v1h-1zM672,354h1v1h-1zM1122,354h1v1h-1zM1184,354h1v1h-1zM1249,354h1v1h-1zM660,355h1v1h-1zM671,355h1v1h-1zM1123,355h1v1h-1zM1184,355h1v1h-1zM1249,355h1v1h-1zM661,356h1v1h-1zM671,356h1v1h-1zM1123,356h1v1h-1zM1184,356h1v1h-1zM1249,356h1v1h-1zM661,357h1v1h-1zM670,357h1v1h-1zM1123,357h1v1h-1zM1184,357h1v1h-1zM1249,357h1v1h-1zM662,358h2v1h-2zM667,358h3v1h-3zM1124,358h1v1h-1zM1183,358h1v1h-1zM1249,358h1v1h-1zM664,359h3v1h-3zM1124,359h1v1h-1zM1183,359h1v1h-1zM1250,359h1v1h-1zM1125,360h1v1h-1zM1183,360h1v1h-1zM1250,360h1v1h-1zM1125,361h1v1h-1zM1183,361h1v1h-1zM1250,361h1v1h-1zM1125,362h1v1h-1zM1182,362h1v1h-1zM1250,362h1v1h-1zM1126,363h1v1h-1zM1182,363h1v1h-1zM1250,363h1v1h-1zM1126,364h1v1h-1zM1182,364h1v1h-1zM1250,364h1v1h-1zM1126,365h1v1h-1zM1182,365h1v1h-1zM1250,365h1v1h-1zM1127,366h1v1h-1zM1182,366h1v1h-1zM1250,366h1v1h-1zM1127,367h1v1h-1zM1181,367h1v1h-1zM1250,367h1v1h-1zM1127,368h1v1h-1zM1181,368h1v1h-1zM1250,368h1v1h-1zM1128,369h1v1h-1zM1181,369h1v1h-1zM1250,369h1v1h-1zM1128,370h1v1h-1zM1181,370h1v1h-1zM1251,370h1v1h-1zM1128,371h1v1h-1zM1180,371h1v1h-1zM1251,371h1v1h-1zM1129,372h1v1h-1zM1180,372h1v1h-1zM1251,372h1v1h-1zM1129,373h1v1h-1zM1180,373h1v1h-1zM1251,373h1v1h-1zM1129,374h1v1h-1zM1180,374h1v1h-1zM1251,374h1v1h-1zM1130,375h1v1h-1zM1179,375h1v1h-1zM1251,375h1v1h-1zM1130,376h1v1h-1zM1179,376h1v1h-1zM1251,376h1v1h-1zM1130,377h1v1h-1zM1179,377h1v1h-1zM1251,377h1v1h-1zM1131,378h1v1h-1zM1178,378h1v1h-1zM1251,378h1v1h-1zM1131,379h1v1h-1zM1178,379h1v1h-1zM1251,379h1v1h-1zM1132,380h1v1h-1zM1178,380h1v1h-1zM1252,380h1v1h-1zM1132,381h1v1h-1zM1178,381h1v1h-1zM1252,381h1v1h-1zM1132,382h1v1h-1zM1177,382h1v1h-1zM1252,382h1v1h-1zM1133,383h1v1h-1zM1177,383h1v1h-1zM1252,383h1v1h-1zM1133,384h1v1h-1zM1177,384h1v1h-1zM1252,384h1v1h-1zM1133,385h1v1h-1zM1176,385h1v1h-1zM1252,385h1v1h-1zM1134,386h1v1h-1zM1176,386h1v1h-1zM1252,386h1v1h-1zM1134,387h1v1h-1zM1176,387h1v1h-1zM1252,387h1v1h-1zM1135,388h1v1h-1zM1176,388h1v1h-1zM1252,388h1v1h-1zM1135,389h1v1h-1zM1175,389h1v1h-1zM1252,389h1v1h-1zM1135,390h1v1h-1zM1175,390h1v1h-1zM1252,390h1v1h-1zM1136,391h1v1h-1zM1175,391h1v1h-1zM1253,391h1v1h-1zM1136,392h1v1h-1zM1174,392h1v1h-1zM1253,392h1v1h-1zM1137,393h1v1h-1zM1174,393h1v1h-1zM1253,393h1v1h-1zM1137,394h1v1h-1zM1174,394h1v1h-1zM1253,394h1v1h-1zM1137,395h1v1h-1zM1174,395h1v1h-1zM1253,395h1v1h-1zM1138,396h1v1h-1zM1173,396h1v1h-1zM1253,396h1v1h-1zM1138,397h1v1h-1zM1173,397h1v1h-1zM1253,397h1v1h-1zM1139,398h1v1h-1zM1173,398h1v1h-1zM1253,398h1v1h-1zM1139,399h1v1h-1zM1172,399h1v1h-1zM1253,399h1v1h-1zM1140,400h1v1h-1zM1172,400h1v1h-1zM1253,400h1v1h-1zM1140,401h1v1h-1zM1171,401h1v1h-1zM1253,401h1v1h-1zM1141,402h1v1h-1zM1171,402h1v1h-1zM1253,402h1v1h-1zM1141,403h1v1h-1zM1170,403h1v1h-1zM1254,403h1v1h-1zM1142,404h1v1h-1zM1170,404h1v1h-1zM1254,404h1v1h-1zM1142,405h1v1h-1zM1169,405h1v1h-1zM1254,405h1v1h-1zM1143,406h1v1h-1zM1169,406h1v1h-1zM1254,406h1v1h-1zM1143,407h1v1h-1zM1168,407h1v1h-1zM1254,407h1v1h-1zM1144,408h1v1h-1zM1168,408h1v1h-1zM1254,408h1v1h-1zM1144,409h1v1h-1zM1167,409h1v1h-1zM1254,409h1v1h-1zM1145,410h1v1h-1zM1167,410h1v1h-1zM1254,410h1v1h-1zM1145,411h1v1h-1zM1166,411h1v1h-1zM1254,411h1v1h-1zM1146,412h1v1h-1zM1166,412h1v1h-1zM1254,412h1v1h-1zM1146,413h1v1h-1zM1165,413h1v1h-1zM1254,413h1v1h-1zM1147,414h1v1h-1zM1164,414h1v1h-1zM1254,414h1v1h-1zM1148,415h1v1h-1zM1163,415h1v1h-1zM1254,415h1v1h-1zM1148,416h1v1h-1zM1162,416h1v1h-1zM1255,416h1v1h-1zM1149,417h1v1h-1zM1161,417h1v1h-1zM1255,417h1v1h-1zM1150,418h1v1h-1zM1159,418h2v1h-2zM1255,418h1v1h-1zM1151,419h1v1h-1zM1158,419h1v1h-1zM1255,419h1v1h-1zM1152,420h1v1h-1zM1155,420h3v1h-3zM1255,420h1v1h-1zM1153,421h2v1h-2zM1255,421h1v1h-1zM1255,422h1v1h-1zM1255,423h1v1h-1zM1255,424h1v1h-1zM1255,425h1v1h-1zM1255,426h1v1h-1zM1255,427h1v1h-1zM1255,428h1v1h-1zM1255,429h1v1h-1zM1256,430h1v1h-1zM1256,431h1v1h-1zM1256,432h1v1h-1zM1256,433h1v1h-1zM1256,434h1v1h-1zM1256,435h1v1h-1zM1256,436h1v1h-1zM1256,437h1v1h-1zM1256,438h1v1h-1zM1256,439h1v1h-1zM1256,440h1v1h-1zM1256,441h1v1h-1zM1256,442h1v1h-1zM1257,443h1v1h-1zM1257,444h1v1h-1zM1257,445h1v1h-1zM1257,446h1v1h-1zM1257,447h1v1h-1zM1257,448h1v1h-1zM1257,449h1v1h-1zM1257,450h1v1h-1zM1257,451h1v1h-1zM1258,452h1v1h-1zM1258,453h1v1h-1zM1258,454h1v1h-1zM1258,455h1v1h-1zM1258,456h1v1h-1zM1258,457h1v1h-1zM1259,458h1v1h-1zM1259,459h1v1h-1zM1259,460h1v1h-1zM1259,461h1v1h-1zM1259,462h1v1h-1zM1259,463h1v1h-1zM1260,464h1v1h-1zM1269,464h1v1h-1zM1260,465h1v1h-1zM1269,465h1v1h-1zM1260,466h1v1h-1zM1268,466h1v1h-1zM1260,467h1v1h-1zM1268,467h1v1h-1zM1260,468h1v1h-1zM1268,468h1v1h-1zM1260,469h1v1h-1zM1267,469h1v1h-1zM1261,470h1v1h-1zM1267,470h1v1h-1zM1261,471h1v1h-1zM1267,471h1v1h-1zM1261,472h1v1h-1zM1266,472h1v1h-1zM1262,473h1v1h-1zM1266,473h1v1h-1zM1263,474h1v1h-1zM1266,474h1v1h-1zM1264,475h2v1h-2zM1265,476h1v1h-1z" fill="#ffa500"/><rect x="5" y="154" width="1592" height="2" fill="#ff0000"/><rect x="5" y="210" width="1592" height="2" fill="#ff0000"/><rect x="5" y="264" width="1592" height="2" fill="#ff0000"/><rect x="5" y="319" width="1592" height="2" fill="#ff0000"/><rect x="5" y="385" width="1592" height="2" fill="#ff0000"/><rect x="5" y="445" width="1592" height="2" fill="#00ff00"/><rect x="5" y="427" width="1592" height="1" fill="#c0c0c0"/></g><rect x="5" y="383" width="6" height="6" fill="#ff0000" shape-rendering="crispEdges"/><rect x="7" y="385" width="2" height="2" fill="#fff" shape-rendering="crispEdges"/><rect x="1591" y="383" width="6" height="6" fill="#ff0000" shape-rendering="crispEdges"/><rect x="1593" y="385" width="2" height="2" fill="#fff" shape-rendering="crispEdges"/><rect x="5" y="443" width="6" height="6" fill="#00ff00" shape-rendering="crispEdges"/><rect x="7" y="445" width="2" height="2" fill="#fff" shape-rendering="crispEdges"/><rect x="1591" y="443" width="6" height="6" fill="#00ff00" shape-rendering="crispEdges"/><rect x="1593" y="445" width="2" height="2" fill="#fff" shape-rendering="crispEdges"/><path d="M1272.5,26 L1282.5,26 L1277.5,31 Z" fill="#c0c0c0"/><g clip-path="url(#cr)"><path d="M1213,549h1v1h-1zM1212,550h2v1h-2zM1211,551h1v1h-1zM1214,551h1v1h-1zM1210,552h1v1h-1zM1214,552h1v1h-1zM1205,553h5v1h-5zM1215,553h1v1h-1zM1204,554h1v1h-1zM1215,554h1v1h-1zM1192,555h2v1h-2zM1203,555h1v1h-1zM1215,555h1v1h-1zM1190,556h2v1h-2zM1194,556h1v1h-1zM1203,556h1v1h-1zM1216,556h1v1h-1zM1189,557h1v1h-1zM1194,557h1v1h-1zM1202,557h1v1h-1zM1216,557h1v1h-1zM1189,558h1v1h-1zM1195,558h1v1h-1zM1201,558h1v1h-1zM1217,558h1v1h-1zM272,559h2v1h-2zM1188,559h1v1h-1zM1196,559h1v1h-1zM1199,559h2v1h-2zM1217,559h1v1h-1zM270,560h2v1h-2zM274,560h1v1h-1zM1188,560h1v1h-1zM1196,560h1v1h-1zM1198,560h1v1h-1zM1218,560h1v1h-1zM269,561h1v1h-1zM274,561h1v1h-1zM727,561h3v1h-3zM1187,561h1v1h-1zM1197,561h1v1h-1zM1218,561h1v1h-1zM267,562h2v1h-2zM275,562h1v1h-1zM724,562h3v1h-3zM730,562h1v1h-1zM976,562h3v1h-3zM1187,562h1v1h-1zM1219,562h1v1h-1zM266,563h1v1h-1zM275,563h1v1h-1zM324,563h3v1h-3zM722,563h2v1h-2zM731,563h1v1h-1zM974,563h2v1h-2zM979,563h3v1h-3zM1186,563h1v1h-1zM1220,563h1v1h-1zM265,564h1v1h-1zM276,564h1v1h-1zM322,564h2v1h-2zM327,564h7v1h-7zM721,564h1v1h-1zM732,564h1v1h-1zM772,564h2v1h-2zM972,564h2v1h-2zM982,564h1v1h-1zM1186,564h1v1h-1zM1220,564h1v1h-1zM264,565h1v1h-1zM276,565h1v1h-1zM321,565h1v1h-1zM334,565h1v1h-1zM720,565h1v1h-1zM733,565h2v1h-2zM770,565h2v1h-2zM774,565h2v1h-2zM970,565h2v1h-2zM983,565h2v1h-2zM1185,565h1v1h-1zM1221,565h1v1h-1zM264,566h1v1h-1zM277,566h9v1h-9zM319,566h2v1h-2zM335,566h2v1h-2zM343,566h3v1h-3zM719,566h1v1h-1zM735,566h3v1h-3zM769,566h1v1h-1zM776,566h2v1h-2zM928,566h2v1h-2zM968,566h2v1h-2zM985,566h1v1h-1zM1184,566h1v1h-1zM1221,566h1v1h-1zM263,567h1v1h-1zM286,567h1v1h-1zM318,567h1v1h-1zM337,567h6v1h-6zM345,567h1v1h-1zM719,567h1v1h-1zM738,567h1v1h-1zM768,567h1v1h-1zM778,567h2v1h-2zM917,567h1v1h-1zM926,567h2v1h-2zM930,567h1v1h-1zM966,567h2v1h-2zM986,567h1v1h-1zM1183,567h1v1h-1zM1222,567h1v1h-1zM262,568h1v1h-1zM286,568h1v1h-1zM317,568h1v1h-1zM346,568h1v1h-1zM718,568h1v1h-1zM739,568h1v1h-1zM767,568h1v1h-1zM780,568h2v1h-2zM915,568h2v1h-2zM918,568h1v1h-1zM924,568h2v1h-2zM931,568h1v1h-1zM965,568h1v1h-1zM986,568h1v1h-1zM1183,568h1v1h-1zM1222,568h1v1h-1zM262,569h1v1h-1zM287,569h1v1h-1zM316,569h1v1h-1zM346,569h1v1h-1zM717,569h1v1h-1zM740,569h1v1h-1zM766,569h1v1h-1zM781,569h1v1h-1zM914,569h1v1h-1zM919,569h2v1h-2zM922,569h2v1h-2zM932,569h1v1h-1zM965,569h1v1h-1zM987,569h1v1h-1zM1182,569h1v1h-1zM1222,569h1v1h-1zM259,570h3v1h-3zM287,570h1v1h-1zM315,570h1v1h-1zM346,570h1v1h-1zM716,570h1v1h-1zM741,570h1v1h-1zM763,570h3v1h-3zM782,570h1v1h-1zM913,570h1v1h-1zM921,570h1v1h-1zM933,570h1v1h-1zM964,570h1v1h-1zM987,570h1v1h-1zM997,570h1v1h-1zM1177,570h5v1h-5zM1222,570h1v1h-1zM257,571h2v1h-2zM288,571h1v1h-1zM315,571h1v1h-1zM347,571h1v1h-1zM715,571h1v1h-1zM742,571h1v1h-1zM761,571h2v1h-2zM782,571h1v1h-1zM887,571h3v1h-3zM912,571h1v1h-1zM934,571h1v1h-1zM964,571h1v1h-1zM988,571h1v1h-1zM995,571h3v1h-3zM1177,571h1v1h-1zM1223,571h1v1h-1zM256,572h1v1h-1zM288,572h1v1h-1zM314,572h1v1h-1zM347,572h1v1h-1zM715,572h1v1h-1zM743,572h2v1h-2zM759,572h2v1h-2zM782,572h1v1h-1zM883,572h4v1h-4zM889,572h1v1h-1zM911,572h1v1h-1zM935,572h1v1h-1zM963,572h1v1h-1zM988,572h1v1h-1zM994,572h1v1h-1zM998,572h1v1h-1zM1177,572h1v1h-1zM1223,572h1v1h-1zM255,573h1v1h-1zM289,573h1v1h-1zM313,573h1v1h-1zM347,573h1v1h-1zM477,573h1v1h-1zM701,573h5v1h-5zM714,573h1v1h-1zM745,573h1v1h-1zM758,573h1v1h-1zM782,573h1v1h-1zM879,573h4v1h-4zM890,573h1v1h-1zM905,573h1v1h-1zM911,573h1v1h-1zM936,573h1v1h-1zM963,573h1v1h-1zM989,573h1v1h-1zM991,573h3v1h-3zM998,573h1v1h-1zM1176,573h1v1h-1zM1223,573h1v1h-1zM77,574h2v1h-2zM83,574h3v1h-3zM255,574h1v1h-1zM289,574h1v1h-1zM313,574h1v1h-1zM348,574h1v1h-1zM476,574h1v1h-1zM478,574h1v1h-1zM699,574h2v1h-2zM706,574h2v1h-2zM711,574h3v1h-3zM746,574h1v1h-1zM756,574h2v1h-2zM783,574h1v1h-1zM877,574h2v1h-2zM890,574h1v1h-1zM903,574h2v1h-2zM906,574h2v1h-2zM910,574h1v1h-1zM937,574h1v1h-1zM962,574h1v1h-1zM989,574h2v1h-2zM999,574h1v1h-1zM1176,574h1v1h-1zM1223,574h1v1h-1zM76,575h1v1h-1zM79,575h4v1h-4zM86,575h2v1h-2zM254,575h1v1h-1zM290,575h1v1h-1zM312,575h1v1h-1zM348,575h1v1h-1zM475,575h1v1h-1zM479,575h1v1h-1zM484,575h2v1h-2zM698,575h1v1h-1zM708,575h3v1h-3zM747,575h2v1h-2zM754,575h2v1h-2zM783,575h1v1h-1zM877,575h1v1h-1zM891,575h1v1h-1zM902,575h1v1h-1zM908,575h2v1h-2zM938,575h1v1h-1zM962,575h1v1h-1zM999,575h1v1h-1zM1029,575h1v1h-1zM1176,575h1v1h-1zM1224,575h1v1h-1zM76,576h1v1h-1zM88,576h6v1h-6zM171,576h4v1h-4zM225,576h1v1h-1zM253,576h1v1h-1zM290,576h1v1h-1zM312,576h1v1h-1zM348,576h1v1h-1zM474,576h1v1h-1zM480,576h1v1h-1zM482,576h2v1h-2zM486,576h2v1h-2zM491,576h3v1h-3zM697,576h1v1h-1zM749,576h5v1h-5zM783,576h1v1h-1zM829,576h5v1h-5zM876,576h1v1h-1zM891,576h1v1h-1zM901,576h1v1h-1zM938,576h1v1h-1zM961,576h1v1h-1zM1000,576h1v1h-1zM1028,576h1v1h-1zM1030,576h1v1h-1zM1176,576h1v1h-1zM1224,576h1v1h-1zM1237,576h1v1h-1zM75,577h1v1h-1zM93,577h1v1h-1zM141,577h1v1h-1zM169,577h2v1h-2zM175,577h7v1h-7zM223,577h2v1h-2zM226,577h1v1h-1zM252,577h1v1h-1zM291,577h1v1h-1zM311,577h1v1h-1zM349,577h1v1h-1zM469,577h5v1h-5zM481,577h1v1h-1zM488,577h3v1h-3zM494,577h1v1h-1zM696,577h1v1h-1zM784,577h1v1h-1zM828,577h1v1h-1zM834,577h1v1h-1zM840,577h2v1h-2zM876,577h1v1h-1zM891,577h1v1h-1zM899,577h2v1h-2zM939,577h1v1h-1zM952,577h2v1h-2zM961,577h1v1h-1zM1000,577h1v1h-1zM1028,577h1v1h-1zM1031,577h2v1h-2zM1087,577h3v1h-3zM1175,577h1v1h-1zM1224,577h1v1h-1zM1236,577h2v1h-2zM64,578h2v1h-2zM74,578h1v1h-1zM94,578h1v1h-1zM140,578h1v1h-1zM142,578h1v1h-1zM168,578h1v1h-1zM182,578h1v1h-1zM222,578h1v1h-1zM227,578h1v1h-1zM251,578h1v1h-1zM291,578h1v1h-1zM311,578h1v1h-1zM349,578h2v1h-2zM393,578h1v1h-1zM469,578h1v1h-1zM495,578h1v1h-1zM601,578h6v1h-6zM695,578h1v1h-1zM784,578h1v1h-1zM827,578h1v1h-1zM835,578h2v1h-2zM838,578h2v1h-2zM842,578h1v1h-1zM876,578h1v1h-1zM892,578h1v1h-1zM898,578h1v1h-1zM940,578h1v1h-1zM950,578h2v1h-2zM954,578h1v1h-1zM959,578h2v1h-2zM1001,578h1v1h-1zM1027,578h1v1h-1zM1033,578h1v1h-1zM1085,578h2v1h-2zM1090,578h1v1h-1zM1175,578h1v1h-1zM1224,578h1v1h-1zM1235,578h1v1h-1zM1238,578h1v1h-1zM13,579h1v1h-1zM62,579h2v1h-2zM66,579h2v1h-2zM74,579h1v1h-1zM94,579h1v1h-1zM140,579h1v1h-1zM142,579h1v1h-1zM167,579h1v1h-1zM183,579h1v1h-1zM221,579h1v1h-1zM227,579h1v1h-1zM251,579h1v1h-1zM292,579h1v1h-1zM301,579h1v1h-1zM310,579h1v1h-1zM351,579h3v1h-3zM392,579h1v1h-1zM394,579h1v1h-1zM468,579h1v1h-1zM496,579h1v1h-1zM533,579h1v1h-1zM601,579h1v1h-1zM607,579h3v1h-3zM617,579h2v1h-2zM695,579h1v1h-1zM784,579h1v1h-1zM826,579h1v1h-1zM837,579h1v1h-1zM842,579h1v1h-1zM875,579h1v1h-1zM892,579h1v1h-1zM896,579h2v1h-2zM940,579h1v1h-1zM949,579h1v1h-1zM955,579h2v1h-2zM958,579h1v1h-1zM1001,579h1v1h-1zM1019,579h3v1h-3zM1026,579h1v1h-1zM1034,579h1v1h-1zM1085,579h1v1h-1zM1090,579h1v1h-1zM1175,579h1v1h-1zM1225,579h1v1h-1zM1235,579h1v1h-1zM1238,579h1v1h-1zM12,580h1v1h-1zM14,580h1v1h-1zM61,580h1v1h-1zM68,580h6v1h-6zM95,580h1v1h-1zM139,580h1v1h-1zM143,580h1v1h-1zM166,580h1v1h-1zM183,580h1v1h-1zM220,580h1v1h-1zM228,580h1v1h-1zM250,580h1v1h-1zM292,580h1v1h-1zM300,580h1v1h-1zM302,580h1v1h-1zM310,580h1v1h-1zM354,580h2v1h-2zM391,580h1v1h-1zM395,580h2v1h-2zM468,580h1v1h-1zM497,580h1v1h-1zM533,580h3v1h-3zM600,580h1v1h-1zM610,580h1v1h-1zM617,580h1v1h-1zM619,580h4v1h-4zM673,580h1v1h-1zM694,580h1v1h-1zM784,580h1v1h-1zM821,580h5v1h-5zM843,580h1v1h-1zM875,580h1v1h-1zM893,580h3v1h-3zM941,580h1v1h-1zM947,580h2v1h-2zM957,580h1v1h-1zM1002,580h1v1h-1zM1016,580h3v1h-3zM1022,580h2v1h-2zM1026,580h1v1h-1zM1034,580h1v1h-1zM1084,580h1v1h-1zM1091,580h1v1h-1zM1175,580h1v1h-1zM1225,580h2v1h-2zM1234,580h1v1h-1zM1239,580h1v1h-1zM11,581h1v1h-1zM14,581h1v1h-1zM61,581h1v1h-1zM95,581h1v1h-1zM108,581h2v1h-2zM139,581h1v1h-1zM143,581h1v1h-1zM165,581h1v1h-1zM184,581h1v1h-1zM219,581h1v1h-1zM229,581h1v1h-1zM249,581h1v1h-1zM293,581h1v1h-1zM299,581h1v1h-1zM303,581h1v1h-1zM309,581h1v1h-1zM356,581h6v1h-6zM381,581h6v1h-6zM390,581h1v1h-1zM397,581h1v1h-1zM468,581h1v1h-1zM498,581h1v1h-1zM532,581h1v1h-1zM536,581h2v1h-2zM600,581h1v1h-1zM610,581h1v1h-1zM616,581h1v1h-1zM623,581h3v1h-3zM672,581h1v1h-1zM674,581h1v1h-1zM680,581h6v1h-6zM693,581h1v1h-1zM785,581h1v1h-1zM787,581h3v1h-3zM821,581h1v1h-1zM844,581h1v1h-1zM874,581h1v1h-1zM893,581h1v1h-1zM942,581h2v1h-2zM946,581h1v1h-1zM1003,581h2v1h-2zM1014,581h2v1h-2zM1024,581h2v1h-2zM1035,581h1v1h-1zM1084,581h1v1h-1zM1092,581h1v1h-1zM1175,581h1v1h-1zM1227,581h7v1h-7zM1239,581h1v1h-1zM11,582h1v1h-1zM15,582h1v1h-1zM60,582h1v1h-1zM96,582h1v1h-1zM106,582h2v1h-2zM110,582h1v1h-1zM138,582h1v1h-1zM144,582h1v1h-1zM164,582h1v1h-1zM185,582h5v1h-5zM219,582h1v1h-1zM230,582h2v1h-2zM248,582h1v1h-1zM293,582h1v1h-1zM299,582h1v1h-1zM303,582h1v1h-1zM308,582h2v1h-2zM362,582h1v1h-1zM381,582h1v1h-1zM387,582h3v1h-3zM398,582h1v1h-1zM467,582h1v1h-1zM499,582h1v1h-1zM532,582h1v1h-1zM538,582h1v1h-1zM589,582h1v1h-1zM600,582h1v1h-1zM611,582h1v1h-1zM616,582h1v1h-1zM626,582h1v1h-1zM672,582h1v1h-1zM675,582h2v1h-2zM678,582h2v1h-2zM686,582h1v1h-1zM692,582h1v1h-1zM785,582h2v1h-2zM790,582h1v1h-1zM820,582h1v1h-1zM844,582h1v1h-1zM869,582h1v1h-1zM874,582h1v1h-1zM944,582h2v1h-2zM1005,582h2v1h-2zM1011,582h3v1h-3zM1035,582h1v1h-1zM1083,582h1v1h-1zM1092,582h1v1h-1zM1174,582h1v1h-1zM1239,582h1v1h-1zM10,583h1v1h-1zM16,583h1v1h-1zM60,583h1v1h-1zM96,583h1v1h-1zM105,583h1v1h-1zM110,583h1v1h-1zM138,583h1v1h-1zM144,583h1v1h-1zM152,583h6v1h-6zM163,583h1v1h-1zM190,583h1v1h-1zM218,583h1v1h-1zM232,583h2v1h-2zM247,583h1v1h-1zM294,583h2v1h-2zM298,583h1v1h-1zM304,583h1v1h-1zM306,583h2v1h-2zM362,583h1v1h-1zM380,583h1v1h-1zM398,583h1v1h-1zM467,583h1v1h-1zM499,583h1v1h-1zM532,583h1v1h-1zM539,583h1v1h-1zM588,583h1v1h-1zM590,583h2v1h-2zM599,583h1v1h-1zM611,583h1v1h-1zM615,583h1v1h-1zM627,583h1v1h-1zM671,583h1v1h-1zM677,583h1v1h-1zM687,583h1v1h-1zM691,583h1v1h-1zM791,583h1v1h-1zM820,583h1v1h-1zM845,583h1v1h-1zM868,583h1v1h-1zM870,583h1v1h-1zM874,583h1v1h-1zM1007,583h4v1h-4zM1036,583h1v1h-1zM1049,583h1v1h-1zM1083,583h1v1h-1zM1093,583h1v1h-1zM1174,583h1v1h-1zM1240,583h1v1h-1zM8,584h2v1h-2zM16,584h1v1h-1zM59,584h1v1h-1zM97,584h1v1h-1zM104,584h1v1h-1zM111,584h1v1h-1zM137,584h1v1h-1zM145,584h1v1h-1zM150,584h2v1h-2zM158,584h1v1h-1zM163,584h1v1h-1zM191,584h1v1h-1zM217,584h1v1h-1zM234,584h1v1h-1zM247,584h1v1h-1zM296,584h2v1h-2zM305,584h1v1h-1zM363,584h1v1h-1zM380,584h1v1h-1zM399,584h1v1h-1zM405,584h2v1h-2zM467,584h1v1h-1zM500,584h1v1h-1zM531,584h1v1h-1zM540,584h1v1h-1zM587,584h1v1h-1zM592,584h2v1h-2zM599,584h1v1h-1zM612,584h1v1h-1zM615,584h1v1h-1zM627,584h1v1h-1zM632,584h2v1h-2zM641,584h1v1h-1zM671,584h1v1h-1zM687,584h1v1h-1zM691,584h1v1h-1zM791,584h1v1h-1zM819,584h1v1h-1zM846,584h2v1h-2zM868,584h1v1h-1zM871,584h3v1h-3zM1036,584h1v1h-1zM1048,584h1v1h-1zM1050,584h1v1h-1zM1082,584h1v1h-1zM1094,584h2v1h-2zM1174,584h1v1h-1zM1240,584h1v1h-1zM6,585h2v1h-2zM17,585h1v1h-1zM45,585h1v1h-1zM59,585h1v1h-1zM97,585h1v1h-1zM103,585h1v1h-1zM111,585h1v1h-1zM136,585h1v1h-1zM145,585h5v1h-5zM159,585h2v1h-2zM162,585h1v1h-1zM192,585h1v1h-1zM215,585h2v1h-2zM234,585h1v1h-1zM246,585h1v1h-1zM363,585h1v1h-1zM379,585h1v1h-1zM400,585h1v1h-1zM403,585h2v1h-2zM407,585h8v1h-8zM467,585h1v1h-1zM501,585h1v1h-1zM531,585h1v1h-1zM541,585h1v1h-1zM579,585h3v1h-3zM587,585h1v1h-1zM594,585h1v1h-1zM598,585h1v1h-1zM612,585h1v1h-1zM614,585h1v1h-1zM628,585h1v1h-1zM630,585h2v1h-2zM634,585h1v1h-1zM639,585h2v1h-2zM642,585h1v1h-1zM670,585h1v1h-1zM688,585h1v1h-1zM690,585h1v1h-1zM792,585h1v1h-1zM819,585h1v1h-1zM848,585h2v1h-2zM867,585h1v1h-1zM873,585h1v1h-1zM1037,585h5v1h-5zM1047,585h1v1h-1zM1051,585h1v1h-1zM1082,585h1v1h-1zM1096,585h2v1h-2zM1174,585h1v1h-1zM1241,585h1v1h-1zM5,586h1v1h-1zM18,586h1v1h-1zM45,586h2v1h-2zM58,586h1v1h-1zM98,586h2v1h-2zM102,586h1v1h-1zM112,586h1v1h-1zM136,586h1v1h-1zM161,586h1v1h-1zM193,586h1v1h-1zM205,586h1v1h-1zM214,586h1v1h-1zM235,586h1v1h-1zM244,586h2v1h-2zM364,586h1v1h-1zM379,586h1v1h-1zM400,586h1v1h-1zM402,586h1v1h-1zM415,586h7v1h-7zM466,586h1v1h-1zM502,586h1v1h-1zM530,586h1v1h-1zM542,586h2v1h-2zM576,586h3v1h-3zM582,586h2v1h-2zM586,586h1v1h-1zM595,586h1v1h-1zM598,586h1v1h-1zM613,586h2v1h-2zM629,586h1v1h-1zM635,586h2v1h-2zM638,586h1v1h-1zM642,586h1v1h-1zM670,586h1v1h-1zM689,586h1v1h-1zM793,586h1v1h-1zM805,586h1v1h-1zM819,586h1v1h-1zM850,586h1v1h-1zM866,586h1v1h-1zM1042,586h2v1h-2zM1046,586h1v1h-1zM1052,586h1v1h-1zM1081,586h1v1h-1zM1098,586h1v1h-1zM1173,586h1v1h-1zM1241,586h1v1h-1zM19,587h2v1h-2zM44,587h1v1h-1zM47,587h2v1h-2zM58,587h1v1h-1zM100,587h2v1h-2zM112,587h1v1h-1zM135,587h1v1h-1zM194,587h2v1h-2zM203,587h2v1h-2zM206,587h1v1h-1zM213,587h1v1h-1zM235,587h1v1h-1zM242,587h2v1h-2zM364,587h1v1h-1zM378,587h1v1h-1zM401,587h1v1h-1zM422,587h1v1h-1zM466,587h1v1h-1zM503,587h1v1h-1zM530,587h1v1h-1zM544,587h3v1h-3zM574,587h2v1h-2zM584,587h2v1h-2zM595,587h1v1h-1zM598,587h1v1h-1zM613,587h1v1h-1zM637,587h1v1h-1zM643,587h1v1h-1zM668,587h2v1h-2zM794,587h1v1h-1zM803,587h2v1h-2zM806,587h2v1h-2zM818,587h1v1h-1zM851,587h2v1h-2zM855,587h4v1h-4zM866,587h1v1h-1zM1044,587h2v1h-2zM1053,587h1v1h-1zM1081,587h1v1h-1zM1099,587h1v1h-1zM1173,587h1v1h-1zM1242,587h1v1h-1zM1267,587h3v1h-3zM21,588h1v1h-1zM44,588h1v1h-1zM49,588h9v1h-9zM113,588h1v1h-1zM135,588h1v1h-1zM196,588h3v1h-3zM202,588h1v1h-1zM207,588h1v1h-1zM211,588h2v1h-2zM236,588h1v1h-1zM240,588h2v1h-2zM365,588h1v1h-1zM367,588h4v1h-4zM378,588h1v1h-1zM422,588h1v1h-1zM466,588h1v1h-1zM504,588h1v1h-1zM530,588h1v1h-1zM547,588h3v1h-3zM573,588h1v1h-1zM596,588h2v1h-2zM644,588h1v1h-1zM666,588h2v1h-2zM795,588h2v1h-2zM802,588h1v1h-1zM808,588h3v1h-3zM818,588h1v1h-1zM853,588h2v1h-2zM859,588h7v1h-7zM1054,588h1v1h-1zM1081,588h1v1h-1zM1100,588h1v1h-1zM1172,588h2v1h-2zM1242,588h1v1h-1zM1264,588h3v1h-3zM22,589h2v1h-2zM43,589h1v1h-1zM114,589h1v1h-1zM134,589h1v1h-1zM199,589h3v1h-3zM208,589h1v1h-1zM210,589h1v1h-1zM236,589h1v1h-1zM238,589h2v1h-2zM365,589h2v1h-2zM371,589h4v1h-4zM377,589h1v1h-1zM423,589h1v1h-1zM447,589h3v1h-3zM461,589h2v1h-2zM465,589h1v1h-1zM505,589h1v1h-1zM512,589h7v1h-7zM523,589h4v1h-4zM529,589h1v1h-1zM550,589h1v1h-1zM573,589h1v1h-1zM597,589h1v1h-1zM644,589h1v1h-1zM665,589h1v1h-1zM797,589h5v1h-5zM811,589h4v1h-4zM817,589h1v1h-1zM1055,589h1v1h-1zM1080,589h1v1h-1zM1101,589h1v1h-1zM1170,589h2v1h-2zM1243,589h1v1h-1zM1262,589h2v1h-2zM24,590h3v1h-3zM43,590h1v1h-1zM115,590h2v1h-2zM134,590h1v1h-1zM209,590h1v1h-1zM237,590h1v1h-1zM375,590h3v1h-3zM423,590h1v1h-1zM445,590h2v1h-2zM450,590h1v1h-1zM461,590h1v1h-1zM463,590h3v1h-3zM506,590h2v1h-2zM510,590h2v1h-2zM519,590h4v1h-4zM527,590h3v1h-3zM551,590h2v1h-2zM572,590h1v1h-1zM645,590h2v1h-2zM664,590h1v1h-1zM815,590h3v1h-3zM1056,590h1v1h-1zM1080,590h1v1h-1zM1102,590h1v1h-1zM1167,590h3v1h-3zM1244,590h1v1h-1zM1261,590h1v1h-1zM27,591h3v1h-3zM43,591h1v1h-1zM117,591h1v1h-1zM132,591h2v1h-2zM424,591h1v1h-1zM444,591h1v1h-1zM451,591h2v1h-2zM460,591h1v1h-1zM508,591h2v1h-2zM553,591h1v1h-1zM572,591h1v1h-1zM647,591h11v1h-11zM663,591h1v1h-1zM1057,591h1v1h-1zM1079,591h1v1h-1zM1103,591h1v1h-1zM1159,591h8v1h-8zM1244,591h1v1h-1zM1260,591h1v1h-1zM30,592h2v1h-2zM42,592h1v1h-1zM118,592h1v1h-1zM130,592h2v1h-2zM424,592h1v1h-1zM433,592h1v1h-1zM443,592h1v1h-1zM453,592h1v1h-1zM460,592h1v1h-1zM554,592h1v1h-1zM572,592h1v1h-1zM658,592h1v1h-1zM663,592h1v1h-1zM1058,592h2v1h-2zM1063,592h3v1h-3zM1079,592h1v1h-1zM1104,592h1v1h-1zM1157,592h2v1h-2zM1245,592h1v1h-1zM1260,592h1v1h-1zM32,593h6v1h-6zM42,593h1v1h-1zM119,593h1v1h-1zM125,593h5v1h-5zM425,593h1v1h-1zM431,593h2v1h-2zM434,593h1v1h-1zM442,593h1v1h-1zM454,593h1v1h-1zM459,593h1v1h-1zM554,593h1v1h-1zM571,593h1v1h-1zM659,593h2v1h-2zM662,593h1v1h-1zM1060,593h3v1h-3zM1066,593h2v1h-2zM1078,593h1v1h-1zM1105,593h2v1h-2zM1157,593h1v1h-1zM1246,593h1v1h-1zM1259,593h1v1h-1zM38,594h2v1h-2zM41,594h1v1h-1zM119,594h1v1h-1zM123,594h2v1h-2zM425,594h2v1h-2zM430,594h1v1h-1zM435,594h2v1h-2zM439,594h3v1h-3zM454,594h1v1h-1zM459,594h1v1h-1zM555,594h1v1h-1zM571,594h1v1h-1zM661,594h1v1h-1zM1068,594h3v1h-3zM1078,594h1v1h-1zM1107,594h3v1h-3zM1156,594h1v1h-1zM1247,594h1v1h-1zM1259,594h1v1h-1zM40,595h2v1h-2zM120,595h1v1h-1zM122,595h1v1h-1zM427,595h3v1h-3zM437,595h2v1h-2zM455,595h1v1h-1zM459,595h1v1h-1zM555,595h1v1h-1zM571,595h1v1h-1zM1071,595h7v1h-7zM1110,595h2v1h-2zM1156,595h1v1h-1zM1248,595h1v1h-1zM1258,595h1v1h-1zM121,596h1v1h-1zM455,596h1v1h-1zM458,596h1v1h-1zM556,596h1v1h-1zM570,596h1v1h-1zM1112,596h2v1h-2zM1156,596h1v1h-1zM1249,596h2v1h-2zM1258,596h1v1h-1zM456,597h1v1h-1zM458,597h1v1h-1zM556,597h1v1h-1zM570,597h1v1h-1zM1114,597h2v1h-2zM1155,597h1v1h-1zM1251,597h7v1h-7zM456,598h2v1h-2zM557,598h2v1h-2zM570,598h1v1h-1zM1116,598h3v1h-3zM1155,598h1v1h-1zM457,599h1v1h-1zM559,599h4v1h-4zM569,599h1v1h-1zM1119,599h3v1h-3zM1155,599h1v1h-1zM563,600h7v1h-7zM1122,600h2v1h-2zM1155,600h1v1h-1zM1124,601h2v1h-2zM1154,601h1v1h-1zM1126,602h1v1h-1zM1154,602h1v1h-1zM1127,603h2v1h-2zM1154,603h1v1h-1zM1129,604h6v1h-6zM1153,604h1v1h-1zM1135,605h8v1h-8zM1153,605h1v1h-1zM1143,606h3v1h-3zM1151,606h2v1h-2zM1146,607h2v1h-2zM1150,607h1v1h-1zM1148,608h2v1h-2z" fill="#1e90ff"/></g><line x1="6" y1="561.5" x2="1597" y2="561.5" stroke="#c0c0c0" stroke-width="1" stroke-dasharray="3,3"/><line x1="6" y1="597.5" x2="1597" y2="597.5" stroke="#c0c0c0" stroke-width="1" stroke-dasharray="3,3"/><g clip-path="url(#cd)" shape-rendering="crispEdges"><rect x="5" y="679" width="1" height="2" fill="#c0c0c0"/><rect x="9" y="679" width="1" height="2" fill="#c0c0c0"/><rect x="13" y="679" width="1" height="2" fill="#c0c0c0"/><rect x="17" y="679" width="1" height="3" fill="#c0c0c0"/><rect x="21" y="679" width="1" height="5" fill="#c0c0c0"/><rect x="25" y="679" width="1" height="7" fill="#c0c0c0"/><rect x="29" y="679" width="1" height="9" fill="#c0c0c0"/><rect x="33" y="679" width="1" height="10" fill="#c0c0c0"/><rect x="37" y="679" width="1" height="12" fill="#c0c0c0"/><rect x="41" y="679" width="1" height="14" fill="#c0c0c0"/><rect x="45" y="679" width="1" height="13" fill="#c0c0c0"/><rect x="49" y="679" width="1" height="13" fill="#c0c0c0"/><rect x="53" y="679" width="1" height="13" fill="#c0c0c0"/><rect x="57" y="679" width="1" height="13" fill="#c0c0c0"/><rect x="61" y="679" width="1" height="11" fill="#c0c0c0"/><rect x="65" y="679" width="1" height="9" fill="#c0c0c0"/><rect x="69" y="679" width="1" height="8" fill="#c0c0c0"/><rect x="73" y="679" width="1" height="7" fill="#c0c0c0"/><rect x="77" y="679" width="1" height="4" fill="#c0c0c0"/><rect x="81" y="679" width="1" height="3" fill="#c0c0c0"/><rect x="85" y="679" width="1" height="1" fill="#c0c0c0"/><rect x="89" y="678" width="1" height="2" fill="#c0c0c0"/><rect x="93" y="678" width="1" height="2" fill="#c0c0c0"/><rect x="97" y="679" width="1" height="1" fill="#c0c0c0"/><rect x="101" y="679" width="1" height="3" fill="#c0c0c0"/><rect x="105" y="679" width="1" height="3" fill="#c0c0c0"/><rect x="109" y="679" width="1" height="3" fill="#c0c0c0"/><rect x="113" y="679" width="1" height="5" fill="#c0c0c0"/><rect x="117" y="679" width="1" height="7" fill="#c0c0c0"/><rect x="121" y="679" width="1" height="10" fill="#c0c0c0"/><rect x="125" y="679" width="1" height="12" fill="#c0c0c0"/><rect x="129" y="679" width="1" height="13" fill="#c0c0c0"/><rect x="133" y="679" width="1" height="14" fill="#c0c0c0"/><rect x="137" y="679" width="1" height="13" fill="#c0c0c0"/><rect x="141" y="679" width="1" height="10" fill="#c0c0c0"/><rect x="145" y="679" width="1" height="10" fill="#c0c0c0"/><rect x="149" y="679" width="1" height="10" fill="#c0c0c0"/><rect x="153" y="679" width="1" height="10" fill="#c0c0c0"/><rect x="157" y="679" width="1" height="9" fill="#c0c0c0"/><rect x="161" y="679" width="1" height="9" fill="#c0c0c0"/><rect x="165" y="679" width="1" height="9" fill="#c0c0c0"/><rect x="169" y="679" width="1" height="7" fill="#c0c0c0"/><rect x="173" y="679" width="1" height="5" fill="#c0c0c0"/><rect x="177" y="679" width="1" height="4" fill="#c0c0c0"/><rect x="181" y="679" width="1" height="3" fill="#c0c0c0"/><rect x="185" y="679" width="1" height="3" fill="#c0c0c0"/><rect x="189" y="679" width="1" height="3" fill="#c0c0c0"/><rect x="193" y="679" width="1" height="4" fill="#c0c0c0"/><rect x="197" y="679" width="1" height="6" fill="#c0c0c0"/><rect x="201" y="679" width="1" height="7" fill="#c0c0c0"/><rect x="205" y="679" width="1" height="7" fill="#c0c0c0"/><rect x="209" y="679" width="1" height="8" fill="#c0c0c0"/><rect x="213" y="679" width="1" height="9" fill="#c0c0c0"/><rect x="217" y="679" width="1" height="8" fill="#c0c0c0"/><rect x="221" y="679" width="1" height="7" fill="#c0c0c0"/><rect x="225" y="679" width="1" height="6" fill="#c0c0c0"/><rect x="229" y="679" width="1" height="5" fill="#c0c0c0"/><rect x="233" y="679" width="1" height="5" fill="#c0c0c0"/><rect x="237" y="679" width="1" height="7" fill="#c0c0c0"/><rect x="241" y="679" width="1" height="8" fill="#c0c0c0"/><rect x="245" y="679" width="1" height="8" fill="#c0c0c0"/><rect x="249" y="679" width="1" height="7" fill="#c0c0c0"/><rect x="253" y="679" width="1" height="5" fill="#c0c0c0"/><rect x="257" y="679" width="1" height="3" fill="#c0c0c0"/><rect x="261" y="679" width="1" height="1" fill="#c0c0c0"/><rect x="265" y="675" width="1" height="5" fill="#c0c0c0"/><rect x="269" y="671" width="1" height="9" fill="#c0c0c0"/><rect x="273" y="667" width="1" height="13" fill="#c0c0c0"/><rect x="277" y="666" width="1" height="14" fill="#c0c0c0"/><rect x="281" y="665" width="1" height="15" fill="#c0c0c0"/><rect x="285" y="664" width="1" height="16" fill="#c0c0c0"/><rect x="289" y="665" width="1" height="15" fill="#c0c0c0"/><rect x="293" y="668" width="1" height="12" fill="#c0c0c0"/><rect x="297" y="671" width="1" height="9" fill="#c0c0c0"/><rect x="301" y="672" width="1" height="8" fill="#c0c0c0"/><rect x="305" y="675" width="1" height="5" fill="#c0c0c0"/><rect x="309" y="676" width="1" height="4" fill="#c0c0c0"/><rect x="313" y="675" width="1" height="5" fill="#c0c0c0"/><rect x="317" y="672" width="1" height="8" fill="#c0c0c0"/><rect x="321" y="668" width="1" height="12" fill="#c0c0c0"/><rect x="325" y="665" width="1" height="15" fill="#c0c0c0"/><rect x="329" y="663" width="1" height="17" fill="#c0c0c0"/><rect x="333" y="661" width="1" height="19" fill="#c0c0c0"/><rect x="337" y="660" width="1" height="20" fill="#c0c0c0"/><rect x="341" y="660" width="1" height="20" fill="#c0c0c0"/><rect x="345" y="660" width="1" height="20" fill="#c0c0c0"/><rect x="349" y="663" width="1" height="17" fill="#c0c0c0"/><rect x="353" y="665" width="1" height="15" fill="#c0c0c0"/><rect x="357" y="668" width="1" height="12" fill="#c0c0c0"/><rect x="361" y="670" width="1" height="10" fill="#c0c0c0"/><rect x="365" y="674" width="1" height="6" fill="#c0c0c0"/><rect x="369" y="678" width="1" height="2" fill="#c0c0c0"/><rect x="373" y="679" width="1" height="2" fill="#c0c0c0"/><rect x="377" y="679" width="1" height="5" fill="#c0c0c0"/><rect x="381" y="679" width="1" height="5" fill="#c0c0c0"/><rect x="385" y="679" width="1" height="5" fill="#c0c0c0"/><rect x="389" y="679" width="1" height="5" fill="#c0c0c0"/><rect x="393" y="679" width="1" height="4" fill="#c0c0c0"/><rect x="397" y="679" width="1" height="4" fill="#c0c0c0"/><rect x="401" y="679" width="1" height="6" fill="#c0c0c0"/><rect x="405" y="679" width="1" height="6" fill="#c0c0c0"/><rect x="409" y="679" width="1" height="7" fill="#c0c0c0"/><rect x="413" y="679" width="1" height="7" fill="#c0c0c0"/><rect x="417" y="679" width="1" height="8" fill="#c0c0c0"/><rect x="421" y="679" width="1" height="8" fill="#c0c0c0"/><rect x="425" y="679" width="1" height="11" fill="#c0c0c0"/><rect x="429" y="679" width="1" height="13" fill="#c0c0c0"/><rect x="433" y="679" width="1" height="14" fill="#c0c0c0"/><rect x="437" y="679" width="1" height="16" fill="#c0c0c0"/><rect x="441" y="679" width="1" height="17" fill="#c0c0c0"/><rect x="445" y="679" width="1" height="17" fill="#c0c0c0"/><rect x="449" y="679" width="1" height="17" fill="#c0c0c0"/><rect x="453" y="679" width="1" height="17" fill="#c0c0c0"/><rect x="457" y="679" width="1" height="20" fill="#c0c0c0"/><rect x="461" y="679" width="1" height="20" fill="#c0c0c0"/><rect x="465" y="679" width="1" height="19" fill="#c0c0c0"/><rect x="469" y="679" width="1" height="16" fill="#c0c0c0"/><rect x="473" y="679" width="1" height="13" fill="#c0c0c0"/><rect x="477" y="679" width="1" height="9" fill="#c0c0c0"/><rect x="481" y="679" width="1" height="7" fill="#c0c0c0"/><rect x="485" y="679" width="1" height="5" fill="#c0c0c0"/><rect x="489" y="679" width="1" height="4" fill="#c0c0c0"/><rect x="493" y="679" width="1" height="2" fill="#c0c0c0"/><rect x="497" y="679" width="1" height="3" fill="#c0c0c0"/><rect x="501" y="679" width="1" height="4" fill="#c0c0c0"/><rect x="505" y="679" width="1" height="7" fill="#c0c0c0"/><rect x="509" y="679" width="1" height="9" fill="#c0c0c0"/><rect x="513" y="679" width="1" height="11" fill="#c0c0c0"/><rect x="517" y="679" width="1" height="12" fill="#c0c0c0"/><rect x="521" y="679" width="1" height="13" fill="#c0c0c0"/><rect x="525" y="679" width="1" height="13" fill="#c0c0c0"/><rect x="529" y="679" width="1" height="14" fill="#c0c0c0"/><rect x="533" y="679" width="1" height="12" fill="#c0c0c0"/><rect x="537" y="679" width="1" height="10" fill="#c0c0c0"/><rect x="541" y="679" width="1" height="10" fill="#c0c0c0"/><rect x="545" y="679" width="1" height="11" fill="#c0c0c0"/><rect x="549" y="679" width="1" height="11" fill="#c0c0c0"/><rect x="553" y="679" width="1" height="13" fill="#c0c0c0"/><rect x="557" y="679" width="1" height="16" fill="#c0c0c0"/><rect x="561" y="679" width="1" height="19" fill="#c0c0c0"/><rect x="565" y="679" width="1" height="21" fill="#c0c0c0"/><rect x="569" y="679" width="1" height="23" fill="#c0c0c0"/><rect x="573" y="679" width="1" height="22" fill="#c0c0c0"/><rect x="577" y="679" width="1" height="20" fill="#c0c0c0"/><rect x="581" y="679" width="1" height="19" fill="#c0c0c0"/><rect x="585" y="679" width="1" height="18" fill="#c0c0c0"/><rect x="589" y="679" width="1" height="16" fill="#c0c0c0"/><rect x="593" y="679" width="1" height="15" fill="#c0c0c0"/><rect x="597" y="679" width="1" height="15" fill="#c0c0c0"/><rect x="601" y="679" width="1" height="12" fill="#c0c0c0"/><rect x="605" y="679" width="1" height="10" fill="#c0c0c0"/><rect x="609" y="679" width="1" height="9" fill="#c0c0c0"/><rect x="613" y="679" width="1" height="10" fill="#c0c0c0"/><rect x="617" y="679" width="1" height="8" fill="#c0c0c0"/><rect x="621" y="679" width="1" height="7" fill="#c0c0c0"/><rect x="625" y="679" width="1" height="7" fill="#c0c0c0"/><rect x="629" y="679" width="1" height="8" fill="#c0c0c0"/><rect x="633" y="679" width="1" height="8" fill="#c0c0c0"/><rect x="637" y="679" width="1" height="10" fill="#c0c0c0"/><rect x="641" y="679" width="1" height="10" fill="#c0c0c0"/><rect x="645" y="679" width="1" height="12" fill="#c0c0c0"/><rect x="649" y="679" width="1" height="14" fill="#c0c0c0"/><rect x="653" y="679" width="1" height="15" fill="#c0c0c0"/><rect x="657" y="679" width="1" height="16" fill="#c0c0c0"/><rect x="661" y="679" width="1" height="18" fill="#c0c0c0"/><rect x="665" y="679" width="1" height="18" fill="#c0c0c0"/><rect x="669" y="679" width="1" height="17" fill="#c0c0c0"/><rect x="673" y="679" width="1" height="15" fill="#c0c0c0"/><rect x="677" y="679" width="1" height="14" fill="#c0c0c0"/><rect x="681" y="679" width="1" height="13" fill="#c0c0c0"/><rect x="685" y="679" width="1" height="11" fill="#c0c0c0"/><rect x="689" y="679" width="1" height="11" fill="#c0c0c0"/><rect x="693" y="679" width="1" height="10" fill="#c0c0c0"/><rect x="697" y="679" width="1" height="8" fill="#c0c0c0"/><rect x="701" y="679" width="1" height="5" fill="#c0c0c0"/><rect x="705" y="679" width="1" height="3" fill="#c0c0c0"/><rect x="709" y="679" width="1" height="1" fill="#c0c0c0"/><rect x="713" y="678" width="1" height="2" fill="#c0c0c0"/><rect x="717" y="676" width="1" height="4" fill="#c0c0c0"/><rect x="721" y="672" width="1" height="8" fill="#c0c0c0"/><rect x="725" y="668" width="1" height="12" fill="#c0c0c0"/><rect x="729" y="665" width="1" height="15" fill="#c0c0c0"/><rect x="733" y="663" width="1" height="17" fill="#c0c0c0"/><rect x="737" y="662" width="1" height="18" fill="#c0c0c0"/><rect x="741" y="662" width="1" height="18" fill="#c0c0c0"/><rect x="745" y="664" width="1" height="16" fill="#c0c0c0"/><rect x="749" y="665" width="1" height="15" fill="#c0c0c0"/><rect x="753" y="667" width="1" height="13" fill="#c0c0c0"/><rect x="757" y="667" width="1" height="13" fill="#c0c0c0"/><rect x="761" y="667" width="1" height="13" fill="#c0c0c0"/><rect x="765" y="667" width="1" height="13" fill="#c0c0c0"/><rect x="769" y="666" width="1" height="14" fill="#c0c0c0"/><rect x="773" y="665" width="1" height="15" fill="#c0c0c0"/><rect x="777" y="664" width="1" height="16" fill="#c0c0c0"/><rect x="781" y="664" width="1" height="16" fill="#c0c0c0"/><rect x="785" y="667" width="1" height="13" fill="#c0c0c0"/><rect x="789" y="670" width="1" height="10" fill="#c0c0c0"/><rect x="793" y="673" width="1" height="7" fill="#c0c0c0"/><rect x="797" y="676" width="1" height="4" fill="#c0c0c0"/><rect x="801" y="679" width="1" height="1" fill="#c0c0c0"/><rect x="805" y="679" width="1" height="3" fill="#c0c0c0"/><rect x="809" y="679" width="1" height="4" fill="#c0c0c0"/><rect x="813" y="679" width="1" height="6" fill="#c0c0c0"/><rect x="817" y="679" width="1" height="8" fill="#c0c0c0"/><rect x="821" y="679" width="1" height="7" fill="#c0c0c0"/><rect x="825" y="679" width="1" height="6" fill="#c0c0c0"/><rect x="829" y="679" width="1" height="5" fill="#c0c0c0"/><rect x="833" y="679" width="1" height="4" fill="#c0c0c0"/><rect x="837" y="679" width="1" height="3" fill="#c0c0c0"/><rect x="841" y="679" width="1" height="2" fill="#c0c0c0"/><rect x="845" y="679" width="1" height="3" fill="#c0c0c0"/><rect x="849" y="679" width="1" height="4" fill="#c0c0c0"/><rect x="853" y="679" width="1" height="6" fill="#c0c0c0"/><rect x="857" y="679" width="1" height="6" fill="#c0c0c0"/><rect x="861" y="679" width="1" height="7" fill="#c0c0c0"/><rect x="865" y="679" width="1" height="8" fill="#c0c0c0"/><rect x="869" y="679" width="1" height="8" fill="#c0c0c0"/><rect x="873" y="679" width="1" height="8" fill="#c0c0c0"/><rect x="877" y="679" width="1" height="5" fill="#c0c0c0"/><rect x="881" y="679" width="1" height="3" fill="#c0c0c0"/><rect x="885" y="679" width="1" height="1" fill="#c0c0c0"/><rect x="889" y="678" width="1" height="2" fill="#c0c0c0"/><rect x="893" y="678" width="1" height="2" fill="#c0c0c0"/><rect x="897" y="678" width="1" height="2" fill="#c0c0c0"/><rect x="901" y="678" width="1" height="2" fill="#c0c0c0"/><rect x="905" y="677" width="1" height="3" fill="#c0c0c0"/><rect x="909" y="676" width="1" height="4" fill="#c0c0c0"/><rect x="913" y="674" width="1" height="6" fill="#c0c0c0"/><rect x="917" y="672" width="1" height="8" fill="#c0c0c0"/><rect x="921" y="672" width="1" height="8" fill="#c0c0c0"/><rect x="925" y="670" width="1" height="10" fill="#c0c0c0"/><rect x="929" y="669" width="1" height="11" fill="#c0c0c0"/><rect x="933" y="668" width="1" height="12" fill="#c0c0c0"/><rect x="937" y="669" width="1" height="11" fill="#c0c0c0"/><rect x="941" y="671" width="1" height="9" fill="#c0c0c0"/><rect x="945" y="673" width="1" height="7" fill="#c0c0c0"/><rect x="949" y="674" width="1" height="6" fill="#c0c0c0"/><rect x="953" y="674" width="1" height="6" fill="#c0c0c0"/><rect x="957" y="675" width="1" height="5" fill="#c0c0c0"/><rect x="961" y="675" width="1" height="5" fill="#c0c0c0"/><rect x="965" y="673" width="1" height="7" fill="#c0c0c0"/><rect x="969" y="671" width="1" height="9" fill="#c0c0c0"/><rect x="973" y="668" width="1" height="12" fill="#c0c0c0"/><rect x="977" y="666" width="1" height="14" fill="#c0c0c0"/><rect x="981" y="664" width="1" height="16" fill="#c0c0c0"/><rect x="985" y="663" width="1" height="17" fill="#c0c0c0"/><rect x="989" y="665" width="1" height="15" fill="#c0c0c0"/><rect x="993" y="665" width="1" height="15" fill="#c0c0c0"/><rect x="997" y="666" width="1" height="14" fill="#c0c0c0"/><rect x="1001" y="668" width="1" height="12" fill="#c0c0c0"/><rect x="1005" y="670" width="1" height="10" fill="#c0c0c0"/><rect x="1009" y="673" width="1" height="7" fill="#c0c0c0"/><rect x="1013" y="674" width="1" height="6" fill="#c0c0c0"/><rect x="1017" y="675" width="1" height="5" fill="#c0c0c0"/><rect x="1021" y="676" width="1" height="4" fill="#c0c0c0"/><rect x="1025" y="677" width="1" height="3" fill="#c0c0c0"/><rect x="1029" y="676" width="1" height="4" fill="#c0c0c0"/><rect x="1033" y="676" width="1" height="4" fill="#c0c0c0"/><rect x="1037" y="678" width="1" height="2" fill="#c0c0c0"/><rect x="1041" y="679" width="1" height="2" fill="#c0c0c0"/><rect x="1045" y="679" width="1" height="3" fill="#c0c0c0"/><rect x="1049" y="679" width="1" height="4" fill="#c0c0c0"/><rect x="1053" y="679" width="1" height="5" fill="#c0c0c0"/><rect x="1057" y="679" width="1" height="7" fill="#c0c0c0"/><rect x="1061" y="679" width="1" height="9" fill="#c0c0c0"/><rect x="1065" y="679" width="1" height="11" fill="#c0c0c0"/><rect x="1069" y="679" width="1" height="13" fill="#c0c0c0"/><rect x="1073" y="679" width="1" height="14" fill="#c0c0c0"/><rect x="1077" y="679" width="1" height="15" fill="#c0c0c0"/><rect x="1081" y="679" width="1" height="15" fill="#c0c0c0"/><rect x="1085" y="679" width="1" height="12" fill="#c0c0c0"/><rect x="1089" y="679" width="1" height="10" fill="#c0c0c0"/><rect x="1093" y="679" width="1" height="10" fill="#c0c0c0"/><rect x="1097" y="679" width="1" height="10" fill="#c0c0c0"/><rect x="1101" y="679" width="1" height="11" fill="#c0c0c0"/><rect x="1105" y="679" width="1" height="13" fill="#c0c0c0"/><rect x="1109" y="679" width="1" height="14" fill="#c0c0c0"/><rect x="1113" y="679" width="1" height="16" fill="#c0c0c0"/><rect x="1117" y="679" width="1" height="18" fill="#c0c0c0"/><rect x="1121" y="679" width="1" height="20" fill="#c0c0c0"/><rect x="1125" y="679" width="1" height="22" fill="#c0c0c0"/><rect x="1129" y="679" width="1" height="25" fill="#c0c0c0"/><rect x="1133" y="679" width="1" height="27" fill="#c0c0c0"/><rect x="1137" y="679" width="1" height="29" fill="#c0c0c0"/><rect x="1141" y="679" width="1" height="30" fill="#c0c0c0"/><rect x="1145" y="679" width="1" height="31" fill="#c0c0c0"/><rect x="1149" y="679" width="1" height="32" fill="#c0c0c0"/><rect x="1153" y="679" width="1" height="33" fill="#c0c0c0"/><rect x="1157" y="679" width="1" height="31" fill="#c0c0c0"/><rect x="1161" y="679" width="1" height="29" fill="#c0c0c0"/><rect x="1165" y="679" width="1" height="27" fill="#c0c0c0"/><rect x="1169" y="679" width="1" height="25" fill="#c0c0c0"/><rect x="1173" y="679" width="1" height="23" fill="#c0c0c0"/><rect x="1177" y="679" width="1" height="17" fill="#c0c0c0"/><rect x="1181" y="679" width="1" height="12" fill="#c0c0c0"/><rect x="1185" y="679" width="1" height="6" fill="#c0c0c0"/><rect x="1189" y="676" width="1" height="4" fill="#c0c0c0"/><rect x="1193" y="668" width="1" height="12" fill="#c0c0c0"/><rect x="1197" y="663" width="1" height="17" fill="#c0c0c0"/><rect x="1201" y="658" width="1" height="22" fill="#c0c0c0"/><rect x="1205" y="650" width="1" height="30" fill="#c0c0c0"/><rect x="1209" y="643" width="1" height="37" fill="#c0c0c0"/><rect x="1213" y="635" width="1" height="45" fill="#c0c0c0"/><rect x="1217" y="632" width="1" height="48" fill="#c0c0c0"/><rect x="1221" y="632" width="1" height="48" fill="#c0c0c0"/><rect x="1225" y="640" width="1" height="40" fill="#c0c0c0"/><rect x="1229" y="647" width="1" height="33" fill="#c0c0c0"/><rect x="1233" y="653" width="1" height="27" fill="#c0c0c0"/><rect x="1237" y="655" width="1" height="25" fill="#c0c0c0"/><rect x="1241" y="664" width="1" height="16" fill="#c0c0c0"/><rect x="1245" y="675" width="1" height="5" fill="#c0c0c0"/><rect x="1249" y="679" width="1" height="11" fill="#c0c0c0"/><rect x="1253" y="679" width="1" height="23" fill="#c0c0c0"/><rect x="1257" y="679" width="1" height="33" fill="#c0c0c0"/><rect x="1261" y="679" width="1" height="36" fill="#c0c0c0"/><rect x="1265" y="679" width="1" height="37" fill="#c0c0c0"/><rect x="1269" y="679" width="1" height="37" fill="#c0c0c0"/><path d="M1233,643h3v1h-3zM1229,644h1v1h-1zM1239,644h3v1h-3zM1227,645h2v1h-2zM1245,648h1v1h-1zM1223,649h1v1h-1zM1246,649h1v1h-1zM1222,650h1v1h-1zM1246,650h1v1h-1zM1221,651h1v1h-1zM1249,654h1v1h-1zM1218,655h1v1h-1zM1250,655h1v1h-1zM1218,656h1v1h-1zM1250,656h1v1h-1zM1217,657h1v1h-1zM1252,660h1v1h-1zM1214,661h1v1h-1zM1253,661h1v1h-1zM1214,662h1v1h-1zM1253,662h1v1h-1zM348,663h2v1h-2zM353,663h3v1h-3zM359,663h3v1h-3zM1213,663h1v1h-1zM347,664h1v1h-1zM365,665h2v1h-2zM751,665h1v1h-1zM755,665h3v1h-3zM761,665h3v1h-3zM767,665h3v1h-3zM342,666h2v1h-2zM367,666h1v1h-1zM749,666h2v1h-2zM773,666h3v1h-3zM779,666h3v1h-3zM785,666h3v1h-3zM1001,666h3v1h-3zM1255,666h1v1h-1zM341,667h1v1h-1zM791,667h3v1h-3zM995,667h3v1h-3zM1007,667h3v1h-3zM1013,667h1v1h-1zM1211,667h1v1h-1zM1256,667h1v1h-1zM295,668h1v1h-1zM299,668h3v1h-3zM305,668h2v1h-2zM336,668h2v1h-2zM371,668h2v1h-2zM743,668h3v1h-3zM797,668h2v1h-2zM991,668h1v1h-1zM1014,668h2v1h-2zM1210,668h1v1h-1zM1256,668h1v1h-1zM293,669h2v1h-2zM307,669h1v1h-1zM335,669h1v1h-1zM373,669h1v1h-1zM799,669h1v1h-1zM989,669h2v1h-2zM1210,669h1v1h-1zM288,670h2v1h-2zM311,670h3v1h-3zM331,670h1v1h-1zM738,670h2v1h-2zM803,670h1v1h-1zM983,670h3v1h-3zM1019,670h3v1h-3zM287,671h1v1h-1zM317,671h3v1h-3zM323,671h3v1h-3zM329,671h2v1h-2zM377,671h1v1h-1zM737,671h1v1h-1zM804,671h2v1h-2zM941,671h3v1h-3zM947,671h3v1h-3zM953,671h3v1h-3zM979,671h1v1h-1zM1025,671h1v1h-1zM378,672h1v1h-1zM935,672h3v1h-3zM959,672h3v1h-3zM965,672h2v1h-2zM977,672h2v1h-2zM1026,672h2v1h-2zM1258,672h1v1h-1zM283,673h1v1h-1zM379,673h1v1h-1zM809,673h1v1h-1zM931,673h1v1h-1zM967,673h1v1h-1zM971,673h3v1h-3zM1207,673h1v1h-1zM1258,673h1v1h-1zM282,674h1v1h-1zM732,674h2v1h-2zM810,674h2v1h-2zM929,674h2v1h-2zM1031,674h3v1h-3zM1206,674h1v1h-1zM1259,674h1v1h-1zM281,675h1v1h-1zM383,675h1v1h-1zM731,675h1v1h-1zM923,675h3v1h-3zM1037,675h2v1h-2zM1206,675h1v1h-1zM384,676h2v1h-2zM815,676h1v1h-1zM919,676h1v1h-1zM1039,676h1v1h-1zM276,677h2v1h-2zM727,677h1v1h-1zM816,677h2v1h-2zM917,677h2v1h-2zM1043,677h3v1h-3zM275,678h1v1h-1zM389,678h1v1h-1zM726,678h1v1h-1zM911,678h3v1h-3zM1049,678h2v1h-2zM1261,678h1v1h-1zM390,679h2v1h-2zM725,679h1v1h-1zM821,679h1v1h-1zM907,679h1v1h-1zM1051,679h1v1h-1zM1203,679h1v1h-1zM1261,679h1v1h-1zM103,680h1v1h-1zM107,680h3v1h-3zM113,680h2v1h-2zM270,680h2v1h-2zM822,680h2v1h-2zM905,680h2v1h-2zM1055,680h3v1h-3zM1202,680h1v1h-1zM1262,680h1v1h-1zM17,681h3v1h-3zM23,681h3v1h-3zM101,681h2v1h-2zM115,681h1v1h-1zM119,681h3v1h-3zM269,681h1v1h-1zM395,681h3v1h-3zM720,681h2v1h-2zM899,681h3v1h-3zM1061,681h1v1h-1zM1202,681h1v1h-1zM11,682h3v1h-3zM29,682h3v1h-3zM95,682h3v1h-3zM263,682h3v1h-3zM401,682h2v1h-2zM719,682h1v1h-1zM827,682h3v1h-3zM851,682h3v1h-3zM857,682h3v1h-3zM895,682h1v1h-1zM1062,682h2v1h-2zM6,683h2v1h-2zM35,683h1v1h-1zM91,683h1v1h-1zM125,683h2v1h-2zM191,683h3v1h-3zM197,683h3v1h-3zM203,683h3v1h-3zM209,683h2v1h-2zM259,683h1v1h-1zM403,683h1v1h-1zM407,683h3v1h-3zM413,683h2v1h-2zM509,683h2v1h-2zM833,683h3v1h-3zM839,683h3v1h-3zM845,683h3v1h-3zM863,683h3v1h-3zM869,683h2v1h-2zM887,683h3v1h-3zM893,683h2v1h-2zM5,684h1v1h-1zM36,684h2v1h-2zM89,684h2v1h-2zM127,684h1v1h-1zM187,684h1v1h-1zM211,684h1v1h-1zM215,684h3v1h-3zM251,684h3v1h-3zM257,684h2v1h-2zM415,684h1v1h-1zM419,684h3v1h-3zM503,684h3v1h-3zM511,684h1v1h-1zM515,684h3v1h-3zM714,684h2v1h-2zM871,684h1v1h-1zM875,684h3v1h-3zM881,684h3v1h-3zM1067,684h3v1h-3zM1264,684h1v1h-1zM41,685h2v1h-2zM131,685h1v1h-1zM179,685h3v1h-3zM185,685h2v1h-2zM221,685h3v1h-3zM227,685h3v1h-3zM233,685h3v1h-3zM239,685h3v1h-3zM245,685h3v1h-3zM425,685h2v1h-2zM521,685h2v1h-2zM713,685h1v1h-1zM1199,685h1v1h-1zM1264,685h1v1h-1zM43,686h1v1h-1zM83,686h3v1h-3zM132,686h2v1h-2zM175,686h1v1h-1zM427,686h1v1h-1zM498,686h2v1h-2zM523,686h1v1h-1zM708,686h2v1h-2zM1073,686h2v1h-2zM1198,686h1v1h-1zM1265,686h1v1h-1zM47,687h3v1h-3zM79,687h1v1h-1zM137,687h2v1h-2zM173,687h2v1h-2zM431,687h3v1h-3zM497,687h1v1h-1zM527,687h3v1h-3zM631,687h1v1h-1zM635,687h3v1h-3zM641,687h3v1h-3zM647,687h3v1h-3zM707,687h1v1h-1zM1075,687h1v1h-1zM1197,687h1v1h-1zM77,688h2v1h-2zM139,688h1v1h-1zM143,688h3v1h-3zM167,688h3v1h-3zM437,688h2v1h-2zM533,688h2v1h-2zM623,688h3v1h-3zM629,688h2v1h-2zM653,688h2v1h-2zM1079,688h3v1h-3zM53,689h3v1h-3zM71,689h3v1h-3zM149,689h3v1h-3zM155,689h3v1h-3zM161,689h3v1h-3zM439,689h1v1h-1zM491,689h3v1h-3zM535,689h1v1h-1zM655,689h1v1h-1zM702,689h2v1h-2zM1085,689h2v1h-2zM59,690h3v1h-3zM65,690h3v1h-3zM443,690h3v1h-3zM539,690h3v1h-3zM545,690h3v1h-3zM551,690h3v1h-3zM557,690h2v1h-2zM618,690h2v1h-2zM659,690h3v1h-3zM701,690h1v1h-1zM1087,690h1v1h-1zM1091,690h3v1h-3zM1097,690h3v1h-3zM1103,690h3v1h-3zM1109,690h3v1h-3zM1267,690h1v1h-1zM449,691h2v1h-2zM486,691h2v1h-2zM559,691h1v1h-1zM617,691h1v1h-1zM665,691h2v1h-2zM695,691h3v1h-3zM1115,691h3v1h-3zM1194,691h1v1h-1zM1268,691h1v1h-1zM451,692h1v1h-1zM485,692h1v1h-1zM563,692h3v1h-3zM611,692h3v1h-3zM667,692h1v1h-1zM691,692h1v1h-1zM1121,692h2v1h-2zM1193,692h1v1h-1zM1268,692h1v1h-1zM455,693h1v1h-1zM479,693h3v1h-3zM569,693h2v1h-2zM607,693h1v1h-1zM671,693h3v1h-3zM677,693h2v1h-2zM683,693h3v1h-3zM689,693h2v1h-2zM1123,693h1v1h-1zM1192,693h1v1h-1zM456,694h2v1h-2zM475,694h1v1h-1zM571,694h1v1h-1zM605,694h2v1h-2zM679,694h1v1h-1zM1127,694h1v1h-1zM461,695h3v1h-3zM473,695h2v1h-2zM575,695h3v1h-3zM1128,695h2v1h-2zM467,696h3v1h-3zM581,696h2v1h-2zM599,696h3v1h-3zM583,697h1v1h-1zM587,697h3v1h-3zM593,697h3v1h-3zM1133,697h1v1h-1zM1189,697h1v1h-1zM1134,698h2v1h-2zM1187,698h2v1h-2zM1139,700h3v1h-3zM1183,701h1v1h-1zM1145,702h1v1h-1zM1182,702h1v1h-1zM1146,703h2v1h-2zM1181,703h1v1h-1zM1151,705h1v1h-1zM1176,705h2v1h-2zM1152,706h2v1h-2zM1175,706h1v1h-1zM1157,707h2v1h-2zM1171,707h1v1h-1zM1159,708h1v1h-1zM1163,708h3v1h-3zM1169,708h2v1h-2z" fill="#ff0000"/></g><rect x="1598" y="33" width="2" height="1" fill="#000"/><rect x="1598" y="66" width="2" height="1" fill="#000"/><rect x="1598" y="99" width="2" height="1" fill="#000"/><rect x="1598" y="132" width="2" height="1" fill="#000"/><rect x="1598" y="165" width="2" height="1" fill="#000"/><rect x="1598" y="198" width="2" height="1" fill="#000"/><rect x="1598" y="231" width="2" height="1" fill="#000"/><rect x="1598" y="297" width="2" height="1" fill="#000"/><rect x="1598" y="330" width="2" height="1" fill="#000"/><rect x="1598" y="363" width="2" height="1" fill="#000"/><rect x="1598" y="396" width="2" height="1" fill="#000"/><rect x="1598" y="462" width="2" height="1" fill="#000"/><rect x="1598" y="495" width="2" height="1" fill="#000"/><rect x="1598" y="528" width="2" height="1" fill="#000"/><rect x="1599" y="149" width="41" height="11" fill="#ff0000" shape-rendering="crispEdges"/><rect x="1599" y="205" width="41" height="11" fill="#ff0000" shape-rendering="crispEdges"/><rect x="1599" y="259" width="41" height="11" fill="#ff0000" shape-rendering="crispEdges"/><rect x="1599" y="314" width="41" height="11" fill="#ff0000" shape-rendering="crispEdges"/><rect x="1599" y="380" width="41" height="11" fill="#ff0000" shape-rendering="crispEdges"/><rect x="1599" y="422" width="41" height="11" fill="#000000" shape-rendering="crispEdges"/><rect x="1599" y="440" width="41" height="11" fill="#00ff00" shape-rendering="crispEdges"/><rect x="1598" y="535" width="2" height="1" fill="#000"/><rect x="1598" y="624" width="2" height="1" fill="#000"/><rect x="1598" y="629" width="2" height="1" fill="#000"/><rect x="1598" y="679" width="2" height="1" fill="#000"/><rect x="1598" y="718" width="2" height="1" fill="#000"/><path d="M8,32 L15,32 L11.5,36 Z" fill="#000"/><rect x="5" y="720" width="1" height="3" fill="#000"/><rect x="69" y="720" width="1" height="3" fill="#000"/><rect x="133" y="720" width="1" height="3" fill="#000"/><rect x="197" y="720" width="1" height="3" fill="#000"/><rect x="261" y="720" width="1" height="3" fill="#000"/><rect x="325" y="720" width="1" height="3" fill="#000"/><rect x="389" y="720" width="1" height="3" fill="#000"/><rect x="453" y="720" width="1" height="3" fill="#000"/><rect x="517" y="720" width="1" height="3" fill="#000"/><rect x="581" y="720" width="1" height="3" fill="#000"/><rect x="645" y="720" width="1" height="3" fill="#000"/><rect x="709" y="720" width="1" height="3" fill="#000"/><rect x="773" y="720" width="1" height="3" fill="#000"/><rect x="837" y="720" width="1" height="3" fill="#000"/><rect x="901" y="720" width="1" height="3" fill="#000"/><rect x="965" y="720" width="1" height="3" fill="#000"/><rect x="1029" y="720" width="1" height="3" fill="#000"/><rect x="1093" y="720" width="1" height="3" fill="#000"/><rect x="1157" y="720" width="1" height="3" fill="#000"/><rect x="1221" y="720" width="1" height="3" fill="#000"/><rect x="0" y="741" width="1641" height="21" fill="#f0f0f0"/><rect x="2" y="741" width="1639" height="1" fill="#ffffff"/><rect x="0" y="741" width="1" height="21" fill="#a0a0a0"/><rect x="1" y="741" width="1" height="21" fill="#696969"/><rect x="0" y="742" width="7" height="1" fill="#000"/><rect x="109" y="742" width="1532" height="1" fill="#000"/><rect x="110" y="743" width="1531" height="1" fill="#ffffff"/><rect x="7" y="742" width="102" height="18" fill="#fff"/><rect x="6" y="742" width="1" height="19" fill="#000"/><rect x="109" y="742" width="1" height="19" fill="#000"/><rect x="6" y="760" width="104" height="1" fill="#000"/><rect x="210" y="746" width="1" height="13" fill="#404040"/><rect x="314" y="746" width="1" height="13" fill="#404040"/><rect x="418" y="746" width="1" height="13" fill="#404040"/><rect x="523" y="746" width="1" height="13" fill="#404040"/><rect x="626" y="746" width="1" height="13" fill="#404040"/><rect x="718" y="746" width="1" height="13" fill="#404040"/><rect x="810" y="746" width="1" height="13" fill="#404040"/><rect x="882" y="746" width="1" height="13" fill="#404040"/><rect x="962" y="746" width="1" height="13" fill="#404040"/><rect x="1042" y="746" width="1" height="13" fill="#404040"/><rect x="1122" y="746" width="1" height="13" fill="#404040"/><rect x="1199" y="746" width="1" height="13" fill="#404040"/><rect x="1271" y="746" width="1" height="13" fill="#404040"/><path d="M1612.5,751 L1616,747.5 L1616,754.5 Z" fill="#808080"/><path d="M1635.5,751 L1632,747.5 L1632,754.5 Z" fill="#808080"/>
<text x="43.65" y="13" font-size="10" fill="#3c3c3c" textLength="13.26" lengthAdjust="spacingAndGlyphs">M1</text><text x="71.75" y="13" font-size="10" fill="#3c3c3c" textLength="13.16" lengthAdjust="spacingAndGlyphs">M5</text><text x="97.79" y="13" font-size="10" fill="#3c3c3c" textLength="17.71" lengthAdjust="spacingAndGlyphs">M15</text><text x="125.68" y="13" font-size="10" fill="#3c3c3c" textLength="17.81" lengthAdjust="spacingAndGlyphs">M30</text><text x="156.54" y="13" font-size="10" fill="#3c3c3c" textLength="12.26" lengthAdjust="spacingAndGlyphs">H1</text><text x="183.57" y="13" font-size="10" fill="#3c3c3c" textLength="13.22" lengthAdjust="spacingAndGlyphs">H4</text><text x="212.95" y="13" font-size="10" fill="#3c3c3c" textLength="12.16" lengthAdjust="spacingAndGlyphs">D1</text><text x="241.40" y="13" font-size="10" fill="#3c3c3c" textLength="13.60" lengthAdjust="spacingAndGlyphs">W1</text><text x="266.66" y="13" font-size="10" fill="#3c3c3c" textLength="16.23" lengthAdjust="spacingAndGlyphs">MN</text><text x="1602.88" y="37" font-size="10" fill="#000" textLength="33.16" lengthAdjust="spacingAndGlyphs">1.15265</text><text x="1602.88" y="70" font-size="10" fill="#000" textLength="33.16" lengthAdjust="spacingAndGlyphs">1.14650</text><text x="1602.88" y="103" font-size="10" fill="#000" textLength="33.16" lengthAdjust="spacingAndGlyphs">1.14050</text><text x="1602.88" y="136" font-size="10" fill="#000" textLength="33.16" lengthAdjust="spacingAndGlyphs">1.13450</text><text x="1602.88" y="169" font-size="10" fill="#000" textLength="33.16" lengthAdjust="spacingAndGlyphs">1.12850</text><text x="1602.88" y="202" font-size="10" fill="#000" textLength="33.16" lengthAdjust="spacingAndGlyphs">1.12235</text><text x="1602.86" y="235" font-size="10" fill="#000" textLength="33.43" lengthAdjust="spacingAndGlyphs">1.11635</text><text x="1602.88" y="301" font-size="10" fill="#000" textLength="33.16" lengthAdjust="spacingAndGlyphs">1.10435</text><text x="1602.88" y="334" font-size="10" fill="#000" textLength="33.16" lengthAdjust="spacingAndGlyphs">1.09820</text><text x="1602.88" y="367" font-size="10" fill="#000" textLength="33.16" lengthAdjust="spacingAndGlyphs">1.09220</text><text x="1602.88" y="400" font-size="10" fill="#000" textLength="33.16" lengthAdjust="spacingAndGlyphs">1.08620</text><text x="1602.88" y="466" font-size="10" fill="#000" textLength="33.16" lengthAdjust="spacingAndGlyphs">1.07405</text><text x="1602.88" y="499" font-size="10" fill="#000" textLength="33.16" lengthAdjust="spacingAndGlyphs">1.06805</text><text x="1602.88" y="532" font-size="10" fill="#000" textLength="33.16" lengthAdjust="spacingAndGlyphs">1.06205</text><text x="1602.88" y="158" font-size="10" fill="#fff" textLength="33.16" lengthAdjust="spacingAndGlyphs">1.13034</text><text x="1602.88" y="214" font-size="10" fill="#fff" textLength="33.16" lengthAdjust="spacingAndGlyphs">1.12004</text><text x="1602.86" y="268" font-size="10" fill="#fff" textLength="33.43" lengthAdjust="spacingAndGlyphs">1.11009</text><text x="1602.88" y="323" font-size="10" fill="#fff" textLength="33.16" lengthAdjust="spacingAndGlyphs">1.10008</text><text x="1602.88" y="389" font-size="10" fill="#fff" textLength="33.16" lengthAdjust="spacingAndGlyphs">1.08800</text><text x="1602.88" y="431" font-size="10" fill="#fff" textLength="33.16" lengthAdjust="spacingAndGlyphs">1.08060</text><text x="1602.88" y="449" font-size="10" fill="#fff" textLength="33.16" lengthAdjust="spacingAndGlyphs">1.07712</text><text x="1600.50" y="544" font-size="10" fill="#000" textLength="15.02" lengthAdjust="spacingAndGlyphs">100</text><text x="1600.30" y="565" font-size="10" fill="#000" textLength="9.81" lengthAdjust="spacingAndGlyphs">70</text><text x="1600.00" y="601" font-size="10" fill="#000" textLength="10.11" lengthAdjust="spacingAndGlyphs">30</text><text x="1601.00" y="622" font-size="10" fill="#000" textLength="4.82" lengthAdjust="spacingAndGlyphs">0</text><text x="1600.90" y="638" font-size="10" fill="#000" textLength="37.97" lengthAdjust="spacingAndGlyphs">0.011277</text><text x="1600.90" y="683" font-size="10" fill="#000" textLength="17.62" lengthAdjust="spacingAndGlyphs">0.00</text><text x="1600.90" y="716" font-size="10" fill="#000" textLength="42.14" lengthAdjust="spacingAndGlyphs">-0.008845</text><text x="19.54" y="37" font-size="10" fill="#000" textLength="64.28" lengthAdjust="spacingAndGlyphs">EURUSD,Daily</text><text x="89.68" y="37" font-size="10" fill="#000" textLength="140.26" lengthAdjust="spacingAndGlyphs">1.07939 1.08196 1.07449 1.08060</text><text x="8.47" y="546" font-size="10" fill="#000" textLength="68.50" lengthAdjust="spacingAndGlyphs">RSI(14) 40.8103</text><text x="8.77" y="640" font-size="10" fill="#000" textLength="153.83" lengthAdjust="spacingAndGlyphs">MACD(12,26,9) -0.007924 -0.003127</text><text x="4.00" y="732" font-size="10" fill="#000" textLength="52.04" lengthAdjust="spacingAndGlyphs">22 Mar 2019</text><text x="67.07" y="732" font-size="10" fill="#000" textLength="49.99" lengthAdjust="spacingAndGlyphs">10 Apr 2019</text><text x="132.00" y="732" font-size="10" fill="#000" textLength="49.99" lengthAdjust="spacingAndGlyphs">29 Apr 2019</text><text x="195.07" y="732" font-size="10" fill="#000" textLength="53.59" lengthAdjust="spacingAndGlyphs">17 May 2019</text><text x="260.00" y="732" font-size="10" fill="#000" textLength="45.88" lengthAdjust="spacingAndGlyphs">5 Jun 2019</text><text x="324.00" y="732" font-size="10" fill="#000" textLength="51.03" lengthAdjust="spacingAndGlyphs">24 Jun 2019</text><text x="387.07" y="732" font-size="10" fill="#000" textLength="47.93" lengthAdjust="spacingAndGlyphs">12 Jul 2019</text><text x="452.00" y="732" font-size="10" fill="#000" textLength="47.93" lengthAdjust="spacingAndGlyphs">31 Jul 2019</text><text x="515.07" y="732" font-size="10" fill="#000" textLength="52.06" lengthAdjust="spacingAndGlyphs">19 Aug 2019</text><text x="580.00" y="732" font-size="10" fill="#000" textLength="47.43" lengthAdjust="spacingAndGlyphs">6 Sep 2019</text><text x="644.00" y="732" font-size="10" fill="#000" textLength="52.57" lengthAdjust="spacingAndGlyphs">25 Sep 2019</text><text x="707.07" y="732" font-size="10" fill="#000" textLength="50.50" lengthAdjust="spacingAndGlyphs">14 Oct 2019</text><text x="771.07" y="732" font-size="10" fill="#000" textLength="47.41" lengthAdjust="spacingAndGlyphs">1 Nov 2019</text><text x="836.00" y="732" font-size="10" fill="#000" textLength="52.57" lengthAdjust="spacingAndGlyphs">20 Nov 2019</text><text x="900.00" y="732" font-size="10" fill="#000" textLength="47.41" lengthAdjust="spacingAndGlyphs">9 Dec 2019</text><text x="964.00" y="732" font-size="10" fill="#000" textLength="52.57" lengthAdjust="spacingAndGlyphs">27 Dec 2019</text><text x="1027.07" y="732" font-size="10" fill="#000" textLength="51.03" lengthAdjust="spacingAndGlyphs">15 Jan 2020</text><text x="1092.00" y="732" font-size="10" fill="#000" textLength="46.90" lengthAdjust="spacingAndGlyphs">3 Feb 2020</text><text x="1156.00" y="732" font-size="10" fill="#000" textLength="52.06" lengthAdjust="spacingAndGlyphs">21 Feb 2020</text><text x="1219.07" y="732" font-size="10" fill="#000" textLength="51.35" lengthAdjust="spacingAndGlyphs">11 Mar 2020</text><text x="17.84" y="757" font-size="12.3" fill="#000" textLength="79.66" lengthAdjust="spacingAndGlyphs">EURUSD,Daily</text><text x="119.82" y="757" font-size="12.3" fill="#585858" textLength="78.81" lengthAdjust="spacingAndGlyphs">USDCHF,Daily</text><text x="221.00" y="757" font-size="12.3" fill="#585858" textLength="81.69" lengthAdjust="spacingAndGlyphs">AUDUSD,Daily</text><text x="324.52" y="757" font-size="12.3" fill="#585858" textLength="81.17" lengthAdjust="spacingAndGlyphs">USDCAD,Daily</text><text x="427.00" y="757" font-size="12.3" fill="#585858" textLength="83.36" lengthAdjust="spacingAndGlyphs">USDCNH,Daily</text><text x="533.02" y="757" font-size="12.3" fill="#585858" textLength="80.67" lengthAdjust="spacingAndGlyphs">EURUSD,Daily</text><text x="638.00" y="757" font-size="12.3" fill="#585858" textLength="68.07" lengthAdjust="spacingAndGlyphs">GBPUSD,H4</text><text x="729.00" y="757" font-size="12.3" fill="#585858" textLength="68.98" lengthAdjust="spacingAndGlyphs">XAUUSD,H1</text><text x="819.98" y="757" font-size="12.3" fill="#585858" textLength="50.92" lengthAdjust="spacingAndGlyphs">HK50,H1</text><text x="891.98" y="757" font-size="12.3" fill="#585858" textLength="57.76" lengthAdjust="spacingAndGlyphs">UK100,H1</text><text x="971.98" y="757" font-size="12.3" fill="#585858" textLength="57.76" lengthAdjust="spacingAndGlyphs">UK100,H1</text><text x="1053.00" y="757" font-size="12.3" fill="#585858" textLength="57.45" lengthAdjust="spacingAndGlyphs">GER30,H1</text><text x="1131.02" y="757" font-size="12.3" fill="#585858" textLength="56.40" lengthAdjust="spacingAndGlyphs">FRA40,H1</text><text x="1207.49" y="757" font-size="12.3" fill="#585858" textLength="51.76" lengthAdjust="spacingAndGlyphs">USOil,H1</text>
</svg></body></html>
